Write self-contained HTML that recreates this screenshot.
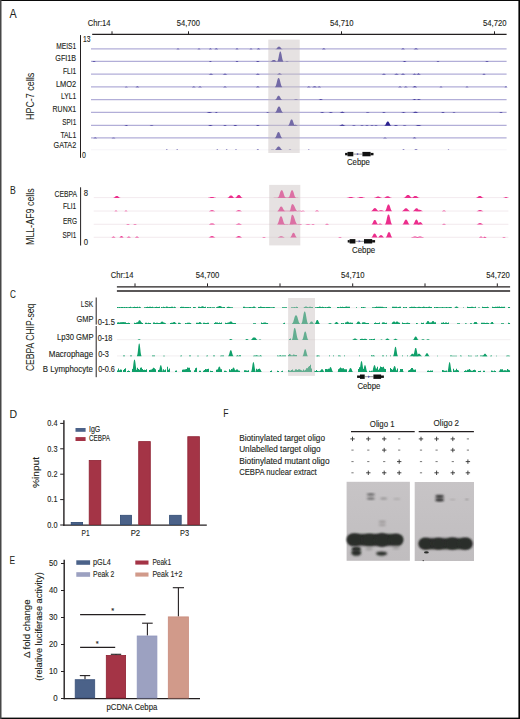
<!DOCTYPE html>
<html><head><meta charset="utf-8"><style>
html,body{margin:0;padding:0;background:#fff;width:520px;height:719px;overflow:hidden}
svg{display:block}
text{font-family:"Liberation Sans",sans-serif;stroke:#231f20;stroke-width:0.12px}
</style></head><body>
<svg width="520" height="719" viewBox="0 0 520 719" font-family="Liberation Sans, sans-serif">
<rect x="0" y="0" width="520" height="719" fill="#ffffff"/>
<text x="9.6" y="17.7" font-size="12" text-anchor="start" fill="#231f20" textLength="7.2" lengthAdjust="spacingAndGlyphs" style="stroke-width:0.05px">A</text>
<line x1="92.2" y1="34.3" x2="506.6" y2="34.3" stroke="#231f20" stroke-width="1.3"/>
<line x1="112" y1="31.3" x2="112" y2="34.3" stroke="#231f20" stroke-width="1.0"/>
<line x1="188.5" y1="31.3" x2="188.5" y2="34.3" stroke="#231f20" stroke-width="1.0"/>
<line x1="341.5" y1="31.3" x2="341.5" y2="34.3" stroke="#231f20" stroke-width="1.0"/>
<line x1="494.5" y1="31.3" x2="494.5" y2="34.3" stroke="#231f20" stroke-width="1.0"/>
<text x="87.7" y="25.9" font-size="8.5" text-anchor="start" fill="#231f20" textLength="22.9" lengthAdjust="spacingAndGlyphs">Chr:14</text>
<text x="176.8" y="25.8" font-size="8.5" text-anchor="start" fill="#231f20" textLength="23.2" lengthAdjust="spacingAndGlyphs">54,700</text>
<text x="330" y="25.8" font-size="8.5" text-anchor="start" fill="#231f20" textLength="23.6" lengthAdjust="spacingAndGlyphs">54,710</text>
<text x="483" y="26.0" font-size="8.5" text-anchor="start" fill="#231f20" textLength="23.6" lengthAdjust="spacingAndGlyphs">54,720</text>
<line x1="80.5" y1="35.1" x2="80.5" y2="157.8" stroke="#231f20" stroke-width="1.0"/>
<text x="83" y="41.8" font-size="9.0" text-anchor="start" fill="#231f20" textLength="7.5" lengthAdjust="spacingAndGlyphs">13</text>
<text x="82" y="158.2" font-size="9.0" text-anchor="start" fill="#231f20" textLength="3.9" lengthAdjust="spacingAndGlyphs">0</text>
<text x="76.2" y="49.2" font-size="8.5" text-anchor="end" fill="#231f20" textLength="19.9" lengthAdjust="spacingAndGlyphs">MEIS1</text>
<line x1="91.0" y1="48.9" x2="506.6" y2="48.9" stroke="#b2aed8" stroke-width="1.2"/>
<text x="76.2" y="60.8" font-size="8.5" text-anchor="end" fill="#231f20" textLength="20.9" lengthAdjust="spacingAndGlyphs">GFI1B</text>
<line x1="91.0" y1="61.4" x2="506.6" y2="61.4" stroke="#b2aed8" stroke-width="1.2"/>
<text x="76.2" y="73.8" font-size="8.5" text-anchor="end" fill="#231f20" textLength="13.2" lengthAdjust="spacingAndGlyphs">FLI1</text>
<line x1="91.0" y1="74.1" x2="506.6" y2="74.1" stroke="#b2aed8" stroke-width="1.2"/>
<text x="76.2" y="86.6" font-size="8.5" text-anchor="end" fill="#231f20" textLength="20.3" lengthAdjust="spacingAndGlyphs">LMO2</text>
<line x1="91.0" y1="86.9" x2="506.6" y2="86.9" stroke="#b2aed8" stroke-width="1.2"/>
<text x="76.2" y="98.6" font-size="8.5" text-anchor="end" fill="#231f20" textLength="15.2" lengthAdjust="spacingAndGlyphs">LYL1</text>
<line x1="91.0" y1="99.6" x2="506.6" y2="99.6" stroke="#b2aed8" stroke-width="1.2"/>
<text x="76.2" y="111.7" font-size="8.5" text-anchor="end" fill="#231f20" textLength="23.6" lengthAdjust="spacingAndGlyphs">RUNX1</text>
<line x1="91.0" y1="112.4" x2="506.6" y2="112.4" stroke="#b2aed8" stroke-width="1.2"/>
<text x="76.2" y="125.4" font-size="8.5" text-anchor="end" fill="#231f20" textLength="13.9" lengthAdjust="spacingAndGlyphs">SPI1</text>
<line x1="91.0" y1="125.4" x2="506.6" y2="125.4" stroke="#b2aed8" stroke-width="1.2"/>
<text x="76.2" y="137.5" font-size="8.5" text-anchor="end" fill="#231f20" textLength="15.8" lengthAdjust="spacingAndGlyphs">TAL1</text>
<line x1="91.0" y1="137.9" x2="506.6" y2="137.9" stroke="#b2aed8" stroke-width="1.2"/>
<text x="76.2" y="148.3" font-size="8.5" text-anchor="end" fill="#231f20" textLength="22.7" lengthAdjust="spacingAndGlyphs">GATA2</text>
<line x1="91.0" y1="149.8" x2="506.6" y2="149.8" stroke="#ecebf4" stroke-width="0.6"/>
<text x="0" y="0" transform="translate(34.0,120.0) rotate(-90)" font-size="10.2" text-anchor="start" fill="#231f20" textLength="47.1" lengthAdjust="spacingAndGlyphs" style="stroke-width:0.05px">HPC-7 cells</text>
<path d="M275.46,49.20L275.46,49.14L275.69,49.09L275.91,49.03L276.13,48.92L276.35,48.79L276.57,48.61L276.79,48.39L277.01,48.14L277.23,47.86L277.45,47.59L277.67,47.32L277.89,47.08L278.12,46.89L278.34,46.74L278.56,46.65L278.78,46.61L279.00,46.60L279.22,46.61L279.44,46.65L279.66,46.74L279.88,46.89L280.11,47.08L280.33,47.32L280.55,47.59L280.77,47.86L280.99,48.14L281.21,48.39L281.43,48.61L281.65,48.79L281.87,48.92L282.09,49.03L282.31,49.09L282.54,49.14L282.54,49.20Z" fill="#2c2290"/>
<path d="M176.26,49.20L176.26,49.19L176.37,49.18L176.48,49.16L176.59,49.14L176.69,49.10L176.80,49.06L176.91,49.01L177.02,48.95L177.13,48.89L177.24,48.83L177.35,48.77L177.46,48.71L177.56,48.67L177.67,48.63L177.78,48.61L177.89,48.60L178.00,48.60L178.11,48.60L178.22,48.61L178.33,48.63L178.44,48.67L178.54,48.71L178.65,48.77L178.76,48.83L178.87,48.89L178.98,48.95L179.09,49.01L179.20,49.06L179.31,49.10L179.41,49.14L179.52,49.16L179.63,49.18L179.74,49.19L179.74,49.20Z" fill="#2c2290"/>
<path d="M197.26,49.20L197.26,49.19L197.37,49.18L197.48,49.16L197.59,49.14L197.69,49.10L197.80,49.06L197.91,49.01L198.02,48.95L198.13,48.89L198.24,48.83L198.35,48.77L198.46,48.71L198.56,48.67L198.67,48.63L198.78,48.61L198.89,48.60L199.00,48.60L199.11,48.60L199.22,48.61L199.33,48.63L199.44,48.67L199.54,48.71L199.65,48.77L199.76,48.83L199.87,48.89L199.98,48.95L200.09,49.01L200.20,49.06L200.31,49.10L200.41,49.14L200.52,49.16L200.63,49.18L200.74,49.19L200.74,49.20Z" fill="#2c2290"/>
<path d="M208.66,49.20L208.66,49.18L208.77,49.17L208.88,49.15L208.99,49.13L209.09,49.09L209.20,49.05L209.31,48.99L209.42,48.92L209.53,48.85L209.64,48.78L209.75,48.71L209.86,48.65L209.96,48.60L210.07,48.56L210.18,48.54L210.29,48.53L210.40,48.52L210.51,48.53L210.62,48.54L210.73,48.56L210.84,48.60L210.94,48.65L211.05,48.71L211.16,48.78L211.27,48.85L211.38,48.92L211.49,48.99L211.60,49.05L211.71,49.09L211.81,49.13L211.92,49.15L212.03,49.17L212.14,49.18L212.14,49.20Z" fill="#2c2290"/>
<path d="M214.12,49.20L214.12,49.18L214.26,49.17L214.40,49.15L214.53,49.13L214.67,49.09L214.80,49.05L214.94,48.99L215.08,48.92L215.21,48.85L215.35,48.78L215.48,48.71L215.62,48.65L215.76,48.60L215.89,48.56L216.03,48.54L216.16,48.53L216.30,48.52L216.44,48.53L216.57,48.54L216.71,48.56L216.84,48.60L216.98,48.65L217.12,48.71L217.25,48.78L217.39,48.85L217.52,48.92L217.66,48.99L217.80,49.05L217.93,49.09L218.07,49.13L218.20,49.15L218.34,49.17L218.48,49.18L218.48,49.20Z" fill="#2c2290"/>
<path d="M235.26,49.20L235.26,49.18L235.37,49.17L235.48,49.15L235.59,49.13L235.69,49.09L235.80,49.05L235.91,48.99L236.02,48.92L236.13,48.85L236.24,48.78L236.35,48.71L236.46,48.65L236.56,48.60L236.67,48.56L236.78,48.54L236.89,48.53L237.00,48.52L237.11,48.53L237.22,48.54L237.33,48.56L237.44,48.60L237.54,48.65L237.65,48.71L237.76,48.78L237.87,48.85L237.98,48.92L238.09,48.99L238.20,49.05L238.31,49.09L238.41,49.13L238.52,49.15L238.63,49.17L238.74,49.18L238.74,49.20Z" fill="#2c2290"/>
<path d="M249.26,49.20L249.26,49.19L249.37,49.18L249.48,49.16L249.59,49.14L249.69,49.10L249.80,49.06L249.91,49.01L250.02,48.95L250.13,48.89L250.24,48.83L250.35,48.77L250.46,48.71L250.56,48.67L250.67,48.63L250.78,48.61L250.89,48.60L251.00,48.60L251.11,48.60L251.22,48.61L251.33,48.63L251.44,48.67L251.54,48.71L251.65,48.77L251.76,48.83L251.87,48.89L251.98,48.95L252.09,49.01L252.20,49.06L252.31,49.10L252.41,49.14L252.52,49.16L252.63,49.18L252.74,49.19L252.74,49.20Z" fill="#2c2290"/>
<path d="M256.54,49.20L256.54,49.18L256.66,49.17L256.79,49.15L256.91,49.12L257.03,49.08L257.15,49.03L257.28,48.97L257.40,48.89L257.52,48.81L257.64,48.73L257.77,48.66L257.89,48.59L258.01,48.53L258.13,48.49L258.26,48.47L258.38,48.45L258.50,48.45L258.62,48.45L258.74,48.47L258.87,48.49L258.99,48.53L259.11,48.59L259.23,48.66L259.36,48.73L259.48,48.81L259.60,48.89L259.72,48.97L259.85,49.03L259.97,49.08L260.09,49.12L260.21,49.15L260.34,49.17L260.46,49.18L260.46,49.20Z" fill="#2c2290"/>
<path d="M321.62,49.20L321.62,49.18L321.76,49.17L321.90,49.15L322.03,49.13L322.17,49.09L322.30,49.05L322.44,48.99L322.58,48.92L322.71,48.85L322.85,48.78L322.98,48.71L323.12,48.65L323.26,48.60L323.39,48.56L323.53,48.54L323.66,48.53L323.80,48.52L323.94,48.53L324.07,48.54L324.21,48.56L324.34,48.60L324.48,48.65L324.62,48.71L324.75,48.78L324.89,48.85L325.02,48.92L325.16,48.99L325.30,49.05L325.43,49.09L325.57,49.13L325.70,49.15L325.84,49.17L325.98,49.18L325.98,49.20Z" fill="#2c2290"/>
<path d="M400.82,49.20L400.82,49.18L400.96,49.17L401.10,49.15L401.23,49.13L401.37,49.09L401.50,49.05L401.64,48.99L401.78,48.92L401.91,48.85L402.05,48.78L402.18,48.71L402.32,48.65L402.46,48.60L402.59,48.56L402.73,48.54L402.86,48.53L403.00,48.52L403.14,48.53L403.27,48.54L403.41,48.56L403.54,48.60L403.68,48.65L403.82,48.71L403.95,48.78L404.09,48.85L404.22,48.92L404.36,48.99L404.50,49.05L404.63,49.09L404.77,49.13L404.90,49.15L405.04,49.17L405.18,49.18L405.18,49.20Z" fill="#2c2290"/>
<path d="M413.39,49.20L413.39,49.18L413.55,49.17L413.72,49.15L413.88,49.12L414.04,49.08L414.20,49.03L414.37,48.97L414.53,48.89L414.69,48.81L414.86,48.73L415.02,48.66L415.18,48.59L415.35,48.53L415.51,48.49L415.67,48.47L415.84,48.45L416.00,48.45L416.16,48.45L416.33,48.47L416.49,48.49L416.65,48.53L416.82,48.59L416.98,48.66L417.14,48.73L417.31,48.81L417.47,48.89L417.63,48.97L417.80,49.03L417.96,49.08L418.12,49.12L418.28,49.15L418.45,49.17L418.61,49.18L418.61,49.20Z" fill="#2c2290"/>
<path d="M277.17,61.70L277.17,61.46L277.37,61.29L277.56,61.01L277.76,60.62L277.95,60.07L278.15,59.37L278.35,58.51L278.54,57.53L278.74,56.46L278.93,55.37L279.13,54.33L279.32,53.40L279.52,52.63L279.71,52.07L279.91,51.71L280.10,51.54L280.30,51.50L280.50,51.54L280.69,51.71L280.89,52.07L281.08,52.63L281.28,53.40L281.47,54.33L281.67,55.37L281.86,56.46L282.06,57.53L282.25,58.51L282.45,59.37L282.65,60.07L282.84,60.62L283.04,61.01L283.23,61.29L283.43,61.46L283.43,61.70Z" fill="#2c2290"/>
<path d="M269.99,61.70L269.99,61.66L270.23,61.63L270.47,61.58L270.71,61.51L270.94,61.41L271.18,61.29L271.42,61.14L271.66,60.96L271.90,60.78L272.13,60.58L272.37,60.40L272.61,60.23L272.85,60.10L273.09,60.00L273.32,59.94L273.56,59.91L273.80,59.90L274.04,59.91L274.28,59.94L274.51,60.00L274.75,60.10L274.99,60.23L275.23,60.40L275.47,60.58L275.70,60.78L275.94,60.96L276.18,61.14L276.42,61.29L276.66,61.41L276.89,61.51L277.13,61.58L277.37,61.63L277.61,61.66L277.61,61.70Z" fill="#2c2290"/>
<path d="M91.82,61.70L91.82,61.69L91.96,61.68L92.10,61.66L92.23,61.64L92.37,61.60L92.50,61.56L92.64,61.51L92.78,61.45L92.91,61.39L93.05,61.33L93.18,61.27L93.32,61.21L93.46,61.17L93.59,61.13L93.73,61.11L93.86,61.10L94.00,61.10L94.14,61.10L94.27,61.11L94.41,61.13L94.54,61.17L94.68,61.21L94.82,61.27L94.95,61.33L95.09,61.39L95.22,61.45L95.36,61.51L95.50,61.56L95.63,61.60L95.77,61.64L95.90,61.66L96.04,61.68L96.18,61.69L96.18,61.70Z" fill="#2c2290"/>
<path d="M208.66,61.70L208.66,61.69L208.77,61.68L208.88,61.66L208.99,61.64L209.09,61.60L209.20,61.56L209.31,61.51L209.42,61.45L209.53,61.39L209.64,61.33L209.75,61.27L209.86,61.21L209.96,61.17L210.07,61.13L210.18,61.11L210.29,61.10L210.40,61.10L210.51,61.10L210.62,61.11L210.73,61.13L210.84,61.17L210.94,61.21L211.05,61.27L211.16,61.33L211.27,61.39L211.38,61.45L211.49,61.51L211.60,61.56L211.71,61.60L211.81,61.64L211.92,61.66L212.03,61.68L212.14,61.69L212.14,61.70Z" fill="#2c2290"/>
<path d="M235.26,61.70L235.26,61.68L235.37,61.67L235.48,61.65L235.59,61.63L235.69,61.59L235.80,61.55L235.91,61.49L236.02,61.42L236.13,61.35L236.24,61.28L236.35,61.21L236.46,61.15L236.56,61.10L236.67,61.06L236.78,61.04L236.89,61.03L237.00,61.02L237.11,61.03L237.22,61.04L237.33,61.06L237.44,61.10L237.54,61.15L237.65,61.21L237.76,61.28L237.87,61.35L237.98,61.42L238.09,61.49L238.20,61.55L238.31,61.59L238.41,61.63L238.52,61.65L238.63,61.67L238.74,61.68L238.74,61.70Z" fill="#2c2290"/>
<path d="M255.62,61.70L255.62,61.68L255.76,61.67L255.90,61.65L256.03,61.63L256.17,61.59L256.30,61.55L256.44,61.49L256.58,61.42L256.71,61.35L256.85,61.28L256.98,61.21L257.12,61.15L257.26,61.10L257.39,61.06L257.53,61.04L257.66,61.03L257.80,61.02L257.94,61.03L258.07,61.04L258.21,61.06L258.34,61.10L258.48,61.15L258.62,61.21L258.75,61.28L258.89,61.35L259.02,61.42L259.16,61.49L259.30,61.55L259.43,61.59L259.57,61.63L259.70,61.65L259.84,61.67L259.98,61.68L259.98,61.70Z" fill="#2c2290"/>
<path d="M284.82,61.70L284.82,61.69L284.96,61.68L285.10,61.67L285.23,61.65L285.37,61.63L285.50,61.60L285.64,61.56L285.78,61.52L285.91,61.47L286.05,61.42L286.18,61.37L286.32,61.33L286.46,61.30L286.59,61.28L286.73,61.26L286.86,61.25L287.00,61.25L287.14,61.25L287.27,61.26L287.41,61.28L287.54,61.30L287.68,61.33L287.82,61.37L287.95,61.42L288.09,61.47L288.22,61.52L288.36,61.56L288.50,61.60L288.63,61.63L288.77,61.65L288.90,61.67L289.04,61.68L289.18,61.69L289.18,61.70Z" fill="#2c2290"/>
<path d="M402.42,61.70L402.42,61.68L402.56,61.67L402.70,61.65L402.83,61.63L402.97,61.59L403.10,61.55L403.24,61.49L403.38,61.42L403.51,61.35L403.65,61.28L403.78,61.21L403.92,61.15L404.06,61.10L404.19,61.06L404.33,61.04L404.46,61.03L404.60,61.02L404.74,61.03L404.87,61.04L405.01,61.06L405.14,61.10L405.28,61.15L405.42,61.21L405.55,61.28L405.69,61.35L405.82,61.42L405.96,61.49L406.10,61.55L406.23,61.59L406.37,61.63L406.50,61.65L406.64,61.67L406.78,61.68L406.78,61.70Z" fill="#2c2290"/>
<path d="M436.26,61.70L436.26,61.69L436.37,61.68L436.48,61.66L436.59,61.64L436.69,61.60L436.80,61.56L436.91,61.51L437.02,61.45L437.13,61.39L437.24,61.33L437.35,61.27L437.46,61.21L437.56,61.17L437.67,61.13L437.78,61.11L437.89,61.10L438.00,61.10L438.11,61.10L438.22,61.11L438.33,61.13L438.44,61.17L438.54,61.21L438.65,61.27L438.76,61.33L438.87,61.39L438.98,61.45L439.09,61.51L439.20,61.56L439.31,61.60L439.41,61.64L439.52,61.66L439.63,61.68L439.74,61.69L439.74,61.70Z" fill="#2c2290"/>
<path d="M484.82,61.70L484.82,61.69L484.96,61.68L485.10,61.66L485.23,61.64L485.37,61.60L485.50,61.56L485.64,61.51L485.78,61.45L485.91,61.39L486.05,61.33L486.18,61.27L486.32,61.21L486.46,61.17L486.59,61.13L486.73,61.11L486.86,61.10L487.00,61.10L487.14,61.10L487.27,61.11L487.41,61.13L487.54,61.17L487.68,61.21L487.82,61.27L487.95,61.33L488.09,61.39L488.22,61.45L488.36,61.51L488.50,61.56L488.63,61.60L488.77,61.64L488.90,61.66L489.04,61.68L489.18,61.69L489.18,61.70Z" fill="#2c2290"/>
<path d="M276.89,74.40L276.89,74.38L277.05,74.36L277.22,74.33L277.38,74.29L277.54,74.23L277.70,74.16L277.87,74.07L278.03,73.97L278.19,73.86L278.36,73.75L278.52,73.64L278.68,73.55L278.85,73.47L279.01,73.41L279.17,73.37L279.34,73.35L279.50,73.35L279.66,73.35L279.83,73.37L279.99,73.41L280.15,73.47L280.32,73.55L280.48,73.64L280.64,73.75L280.81,73.86L280.97,73.97L281.13,74.07L281.30,74.16L281.46,74.23L281.62,74.29L281.78,74.33L281.95,74.36L282.11,74.38L282.11,74.40Z" fill="#2c2290"/>
<path d="M208.82,74.40L208.82,74.38L208.96,74.37L209.10,74.35L209.23,74.33L209.37,74.29L209.50,74.25L209.64,74.19L209.78,74.12L209.91,74.05L210.05,73.98L210.18,73.91L210.32,73.85L210.46,73.80L210.59,73.76L210.73,73.74L210.86,73.73L211.00,73.72L211.14,73.73L211.27,73.74L211.41,73.76L211.54,73.80L211.68,73.85L211.82,73.91L211.95,73.98L212.09,74.05L212.22,74.12L212.36,74.19L212.50,74.25L212.63,74.29L212.77,74.33L212.90,74.35L213.04,74.37L213.18,74.38L213.18,74.40Z" fill="#2c2290"/>
<path d="M222.82,74.40L222.82,74.38L222.96,74.37L223.10,74.35L223.23,74.33L223.37,74.29L223.50,74.25L223.64,74.19L223.78,74.12L223.91,74.05L224.05,73.98L224.18,73.91L224.32,73.85L224.46,73.80L224.59,73.76L224.73,73.74L224.86,73.73L225.00,73.72L225.14,73.73L225.27,73.74L225.41,73.76L225.54,73.80L225.68,73.85L225.82,73.91L225.95,73.98L226.09,74.05L226.22,74.12L226.36,74.19L226.50,74.25L226.63,74.29L226.77,74.33L226.90,74.35L227.04,74.37L227.18,74.38L227.18,74.40Z" fill="#2c2290"/>
<path d="M255.84,74.40L255.84,74.38L255.96,74.37L256.09,74.35L256.21,74.33L256.33,74.29L256.45,74.25L256.58,74.19L256.70,74.12L256.82,74.05L256.94,73.98L257.07,73.91L257.19,73.85L257.31,73.80L257.43,73.76L257.56,73.74L257.68,73.73L257.80,73.72L257.92,73.73L258.04,73.74L258.17,73.76L258.29,73.80L258.41,73.85L258.53,73.91L258.66,73.98L258.78,74.05L258.90,74.12L259.02,74.19L259.15,74.25L259.27,74.29L259.39,74.33L259.51,74.35L259.64,74.37L259.76,74.38L259.76,74.40Z" fill="#2c2290"/>
<path d="M381.72,74.40L381.72,74.39L381.86,74.38L382.00,74.36L382.13,74.34L382.27,74.30L382.40,74.26L382.54,74.21L382.68,74.15L382.81,74.09L382.95,74.03L383.08,73.97L383.22,73.91L383.36,73.87L383.49,73.83L383.63,73.81L383.76,73.80L383.90,73.80L384.04,73.80L384.17,73.81L384.31,73.83L384.44,73.87L384.58,73.91L384.72,73.97L384.85,74.03L384.99,74.09L385.12,74.15L385.26,74.21L385.40,74.26L385.53,74.30L385.67,74.34L385.80,74.36L385.94,74.38L386.08,74.39L386.08,74.40Z" fill="#2c2290"/>
<path d="M394.32,74.40L394.32,74.38L394.46,74.37L394.60,74.35L394.73,74.33L394.87,74.29L395.00,74.25L395.14,74.19L395.28,74.12L395.41,74.05L395.55,73.98L395.68,73.91L395.82,73.85L395.96,73.80L396.09,73.76L396.23,73.74L396.36,73.73L396.50,73.72L396.64,73.73L396.77,73.74L396.91,73.76L397.04,73.80L397.18,73.85L397.32,73.91L397.45,73.98L397.59,74.05L397.72,74.12L397.86,74.19L398.00,74.25L398.13,74.29L398.27,74.33L398.40,74.35L398.54,74.37L398.68,74.38L398.68,74.40Z" fill="#2c2290"/>
<path d="M400.82,74.40L400.82,74.38L400.96,74.37L401.10,74.35L401.23,74.32L401.37,74.28L401.50,74.23L401.64,74.17L401.78,74.09L401.91,74.01L402.05,73.93L402.18,73.86L402.32,73.79L402.46,73.73L402.59,73.69L402.73,73.67L402.86,73.65L403.00,73.65L403.14,73.65L403.27,73.67L403.41,73.69L403.54,73.73L403.68,73.79L403.82,73.86L403.95,73.93L404.09,74.01L404.22,74.09L404.36,74.17L404.50,74.23L404.63,74.28L404.77,74.32L404.90,74.35L405.04,74.37L405.18,74.38L405.18,74.40Z" fill="#2c2290"/>
<path d="M412.76,74.40L412.76,74.38L412.87,74.37L412.98,74.35L413.09,74.33L413.19,74.29L413.30,74.25L413.41,74.19L413.52,74.12L413.63,74.05L413.74,73.98L413.85,73.91L413.96,73.85L414.06,73.80L414.17,73.76L414.28,73.74L414.39,73.73L414.50,73.72L414.61,73.73L414.72,73.74L414.83,73.76L414.94,73.80L415.04,73.85L415.15,73.91L415.26,73.98L415.37,74.05L415.48,74.12L415.59,74.19L415.70,74.25L415.81,74.29L415.91,74.33L416.02,74.35L416.13,74.37L416.24,74.38L416.24,74.40Z" fill="#2c2290"/>
<path d="M416.32,74.40L416.32,74.38L416.46,74.37L416.60,74.34L416.73,74.31L416.87,74.27L417.00,74.21L417.14,74.14L417.28,74.06L417.41,73.98L417.55,73.89L417.68,73.80L417.82,73.73L417.96,73.67L418.09,73.62L418.23,73.59L418.36,73.58L418.50,73.57L418.64,73.58L418.77,73.59L418.91,73.62L419.04,73.67L419.18,73.73L419.32,73.80L419.45,73.89L419.59,73.98L419.72,74.06L419.86,74.14L420.00,74.21L420.13,74.27L420.27,74.31L420.40,74.34L420.54,74.37L420.68,74.38L420.68,74.40Z" fill="#2c2290"/>
<path d="M482.26,74.40L482.26,74.39L482.37,74.38L482.48,74.36L482.59,74.34L482.69,74.30L482.80,74.26L482.91,74.21L483.02,74.15L483.13,74.09L483.24,74.03L483.35,73.97L483.46,73.91L483.56,73.87L483.67,73.83L483.78,73.81L483.89,73.80L484.00,73.80L484.11,73.80L484.22,73.81L484.33,73.83L484.44,73.87L484.54,73.91L484.65,73.97L484.76,74.03L484.87,74.09L484.98,74.15L485.09,74.21L485.20,74.26L485.31,74.30L485.41,74.34L485.52,74.36L485.63,74.38L485.74,74.39L485.74,74.40Z" fill="#2c2290"/>
<path d="M274.93,87.20L274.93,86.99L275.16,86.83L275.39,86.58L275.62,86.22L275.85,85.73L276.08,85.10L276.31,84.33L276.53,83.44L276.76,82.47L276.99,81.49L277.22,80.55L277.45,79.71L277.68,79.02L277.91,78.51L278.14,78.19L278.37,78.03L278.60,78.00L278.83,78.03L279.06,78.19L279.29,78.51L279.52,79.02L279.75,79.71L279.98,80.55L280.21,81.49L280.44,82.47L280.67,83.44L280.90,84.33L281.12,85.10L281.35,85.73L281.58,86.22L281.81,86.58L282.04,86.83L282.27,86.99L282.27,87.20Z" fill="#2c2290"/>
<path d="M124.56,87.20L124.56,87.19L124.67,87.18L124.78,87.16L124.89,87.14L124.99,87.12L125.10,87.08L125.21,87.04L125.32,86.99L125.43,86.93L125.54,86.87L125.65,86.82L125.76,86.77L125.86,86.73L125.97,86.70L126.08,86.69L126.19,86.68L126.30,86.67L126.41,86.68L126.52,86.69L126.63,86.70L126.74,86.73L126.84,86.77L126.95,86.82L127.06,86.87L127.17,86.93L127.28,86.99L127.39,87.04L127.50,87.08L127.61,87.12L127.71,87.14L127.82,87.16L127.93,87.18L128.04,87.19L128.04,87.20Z" fill="#2c2290"/>
<path d="M135.22,87.20L135.22,87.18L135.36,87.17L135.50,87.15L135.63,87.13L135.77,87.09L135.90,87.05L136.04,86.99L136.18,86.92L136.31,86.85L136.45,86.78L136.58,86.71L136.72,86.65L136.86,86.60L136.99,86.56L137.13,86.54L137.26,86.53L137.40,86.53L137.54,86.53L137.67,86.54L137.81,86.56L137.94,86.60L138.08,86.65L138.22,86.71L138.35,86.78L138.49,86.85L138.62,86.92L138.76,86.99L138.90,87.05L139.03,87.09L139.17,87.13L139.30,87.15L139.44,87.17L139.58,87.18L139.58,87.20Z" fill="#2c2290"/>
<path d="M191.62,87.20L191.62,87.19L191.76,87.18L191.90,87.16L192.03,87.14L192.17,87.10L192.30,87.06L192.44,87.01L192.58,86.95L192.71,86.89L192.85,86.83L192.98,86.77L193.12,86.71L193.26,86.67L193.39,86.63L193.53,86.61L193.66,86.60L193.80,86.60L193.94,86.60L194.07,86.61L194.21,86.63L194.34,86.67L194.48,86.71L194.62,86.77L194.75,86.83L194.89,86.89L195.02,86.95L195.16,87.01L195.30,87.06L195.43,87.10L195.57,87.14L195.70,87.16L195.84,87.18L195.98,87.19L195.98,87.20Z" fill="#2c2290"/>
<path d="M197.82,87.20L197.82,87.19L197.96,87.18L198.10,87.16L198.23,87.14L198.37,87.10L198.50,87.06L198.64,87.01L198.78,86.95L198.91,86.89L199.05,86.83L199.18,86.77L199.32,86.71L199.46,86.67L199.59,86.63L199.73,86.61L199.86,86.60L200.00,86.60L200.14,86.60L200.27,86.61L200.41,86.63L200.54,86.67L200.68,86.71L200.82,86.77L200.95,86.83L201.09,86.89L201.22,86.95L201.36,87.01L201.50,87.06L201.63,87.10L201.77,87.14L201.90,87.16L202.04,87.18L202.18,87.19L202.18,87.20Z" fill="#2c2290"/>
<path d="M222.82,87.20L222.82,87.19L222.96,87.18L223.10,87.16L223.23,87.14L223.37,87.10L223.50,87.06L223.64,87.01L223.78,86.95L223.91,86.89L224.05,86.83L224.18,86.77L224.32,86.71L224.46,86.67L224.59,86.63L224.73,86.61L224.86,86.60L225.00,86.60L225.14,86.60L225.27,86.61L225.41,86.63L225.54,86.67L225.68,86.71L225.82,86.77L225.95,86.83L226.09,86.89L226.22,86.95L226.36,87.01L226.50,87.06L226.63,87.10L226.77,87.14L226.90,87.16L227.04,87.18L227.18,87.19L227.18,87.20Z" fill="#2c2290"/>
<path d="M255.62,87.20L255.62,87.18L255.76,87.17L255.90,87.15L256.03,87.13L256.17,87.09L256.30,87.05L256.44,86.99L256.58,86.92L256.71,86.85L256.85,86.78L256.98,86.71L257.12,86.65L257.26,86.60L257.39,86.56L257.53,86.54L257.66,86.53L257.80,86.53L257.94,86.53L258.07,86.54L258.21,86.56L258.34,86.60L258.48,86.65L258.62,86.71L258.75,86.78L258.89,86.85L259.02,86.92L259.16,86.99L259.30,87.05L259.43,87.09L259.57,87.13L259.70,87.15L259.84,87.17L259.98,87.18L259.98,87.20Z" fill="#2c2290"/>
<path d="M306.62,87.20L306.62,87.19L306.76,87.18L306.90,87.16L307.03,87.14L307.17,87.10L307.30,87.06L307.44,87.01L307.58,86.95L307.71,86.89L307.85,86.83L307.98,86.77L308.12,86.71L308.26,86.67L308.39,86.63L308.53,86.61L308.66,86.60L308.80,86.60L308.94,86.60L309.07,86.61L309.21,86.63L309.34,86.67L309.48,86.71L309.62,86.77L309.75,86.83L309.89,86.89L310.02,86.95L310.16,87.01L310.30,87.06L310.43,87.10L310.57,87.14L310.70,87.16L310.84,87.18L310.98,87.19L310.98,87.20Z" fill="#2c2290"/>
<path d="M311.99,87.20L311.99,87.18L312.15,87.17L312.32,87.15L312.48,87.12L312.64,87.08L312.80,87.03L312.97,86.97L313.13,86.89L313.29,86.81L313.46,86.73L313.62,86.66L313.78,86.59L313.95,86.53L314.11,86.49L314.27,86.47L314.44,86.45L314.60,86.45L314.76,86.45L314.93,86.47L315.09,86.49L315.25,86.53L315.42,86.59L315.58,86.66L315.74,86.73L315.91,86.81L316.07,86.89L316.23,86.97L316.40,87.03L316.56,87.08L316.72,87.12L316.88,87.15L317.05,87.17L317.21,87.18L317.21,87.20Z" fill="#2c2290"/>
<path d="M317.02,87.20L317.02,87.19L317.16,87.18L317.30,87.16L317.43,87.14L317.57,87.10L317.70,87.06L317.84,87.01L317.98,86.95L318.11,86.89L318.25,86.83L318.38,86.77L318.52,86.71L318.66,86.67L318.79,86.63L318.93,86.61L319.06,86.60L319.20,86.60L319.34,86.60L319.47,86.61L319.61,86.63L319.74,86.67L319.88,86.71L320.02,86.77L320.15,86.83L320.29,86.89L320.42,86.95L320.56,87.01L320.70,87.06L320.83,87.10L320.97,87.14L321.10,87.16L321.24,87.18L321.38,87.19L321.38,87.20Z" fill="#2c2290"/>
<path d="M397.82,87.20L397.82,87.19L397.96,87.18L398.10,87.16L398.23,87.14L398.37,87.10L398.50,87.06L398.64,87.01L398.78,86.95L398.91,86.89L399.05,86.83L399.18,86.77L399.32,86.71L399.46,86.67L399.59,86.63L399.73,86.61L399.86,86.60L400.00,86.60L400.14,86.60L400.27,86.61L400.41,86.63L400.54,86.67L400.68,86.71L400.82,86.77L400.95,86.83L401.09,86.89L401.22,86.95L401.36,87.01L401.50,87.06L401.63,87.10L401.77,87.14L401.90,87.16L402.04,87.18L402.18,87.19L402.18,87.20Z" fill="#2c2290"/>
<path d="M403.62,87.20L403.62,87.19L403.76,87.18L403.90,87.16L404.03,87.14L404.17,87.10L404.30,87.06L404.44,87.01L404.58,86.95L404.71,86.89L404.85,86.83L404.98,86.77L405.12,86.71L405.26,86.67L405.39,86.63L405.53,86.61L405.66,86.60L405.80,86.60L405.94,86.60L406.07,86.61L406.21,86.63L406.34,86.67L406.48,86.71L406.62,86.77L406.75,86.83L406.89,86.89L407.02,86.95L407.16,87.01L407.30,87.06L407.43,87.10L407.57,87.14L407.70,87.16L407.84,87.18L407.98,87.19L407.98,87.20Z" fill="#2c2290"/>
<path d="M412.19,87.20L412.19,87.18L412.35,87.16L412.52,87.14L412.68,87.10L412.84,87.06L413.00,86.99L413.17,86.92L413.33,86.83L413.49,86.74L413.66,86.64L413.82,86.55L413.98,86.47L414.15,86.40L414.31,86.35L414.47,86.32L414.64,86.30L414.80,86.30L414.96,86.30L415.13,86.32L415.29,86.35L415.45,86.40L415.62,86.47L415.78,86.55L415.94,86.64L416.11,86.74L416.27,86.83L416.43,86.92L416.60,86.99L416.76,87.06L416.92,87.10L417.08,87.14L417.25,87.16L417.41,87.18L417.41,87.20Z" fill="#2c2290"/>
<path d="M439.26,87.20L439.26,87.19L439.37,87.18L439.48,87.16L439.59,87.14L439.69,87.10L439.80,87.06L439.91,87.01L440.02,86.95L440.13,86.89L440.24,86.83L440.35,86.77L440.46,86.71L440.56,86.67L440.67,86.63L440.78,86.61L440.89,86.60L441.00,86.60L441.11,86.60L441.22,86.61L441.33,86.63L441.44,86.67L441.54,86.71L441.65,86.77L441.76,86.83L441.87,86.89L441.98,86.95L442.09,87.01L442.20,87.06L442.31,87.10L442.41,87.14L442.52,87.16L442.63,87.18L442.74,87.19L442.74,87.20Z" fill="#2c2290"/>
<path d="M465.26,87.20L465.26,87.19L465.37,87.18L465.48,87.16L465.59,87.14L465.69,87.10L465.80,87.06L465.91,87.01L466.02,86.95L466.13,86.89L466.24,86.83L466.35,86.77L466.46,86.71L466.56,86.67L466.67,86.63L466.78,86.61L466.89,86.60L467.00,86.60L467.11,86.60L467.22,86.61L467.33,86.63L467.44,86.67L467.54,86.71L467.65,86.77L467.76,86.83L467.87,86.89L467.98,86.95L468.09,87.01L468.20,87.06L468.31,87.10L468.41,87.14L468.52,87.16L468.63,87.18L468.74,87.19L468.74,87.20Z" fill="#2c2290"/>
<path d="M504.26,87.20L504.26,87.18L504.37,87.17L504.48,87.15L504.59,87.13L504.69,87.09L504.80,87.05L504.91,86.99L505.02,86.92L505.13,86.85L505.24,86.78L505.35,86.71L505.46,86.65L505.56,86.60L505.67,86.56L505.78,86.54L505.89,86.53L506.00,86.53L506.11,86.53L506.22,86.54L506.33,86.56L506.44,86.60L506.54,86.65L506.65,86.71L506.76,86.78L506.87,86.85L506.98,86.92L507.09,86.99L507.20,87.05L507.31,87.09L507.41,87.13L507.52,87.15L507.63,87.17L507.74,87.18L507.74,87.20Z" fill="#2c2290"/>
<path d="M275.06,99.90L275.06,99.80L275.29,99.73L275.51,99.62L275.73,99.45L275.95,99.23L276.17,98.94L276.39,98.59L276.61,98.18L276.83,97.74L277.05,97.29L277.27,96.86L277.50,96.48L277.72,96.17L277.94,95.93L278.16,95.79L278.38,95.72L278.60,95.70L278.82,95.72L279.04,95.79L279.26,95.93L279.48,96.17L279.71,96.48L279.93,96.86L280.15,97.29L280.37,97.74L280.59,98.18L280.81,98.59L281.03,98.94L281.25,99.23L281.47,99.45L281.69,99.62L281.92,99.73L282.14,99.80L282.14,99.90Z" fill="#2c2290"/>
<path d="M318.62,99.90L318.62,99.89L318.76,99.88L318.90,99.86L319.03,99.84L319.17,99.80L319.30,99.76L319.44,99.71L319.58,99.65L319.71,99.59L319.85,99.53L319.98,99.47L320.12,99.41L320.26,99.37L320.39,99.33L320.53,99.31L320.66,99.30L320.80,99.30L320.94,99.30L321.07,99.31L321.21,99.33L321.34,99.37L321.48,99.41L321.62,99.47L321.75,99.53L321.89,99.59L322.02,99.65L322.16,99.71L322.30,99.76L322.43,99.80L322.57,99.84L322.70,99.86L322.84,99.88L322.98,99.89L322.98,99.90Z" fill="#2c2290"/>
<path d="M412.32,99.90L412.32,99.89L412.46,99.88L412.60,99.86L412.73,99.84L412.87,99.80L413.00,99.76L413.14,99.71L413.28,99.65L413.41,99.59L413.55,99.53L413.68,99.47L413.82,99.41L413.96,99.37L414.09,99.33L414.23,99.31L414.36,99.30L414.50,99.30L414.64,99.30L414.77,99.31L414.91,99.33L415.04,99.37L415.18,99.41L415.32,99.47L415.45,99.53L415.59,99.59L415.72,99.65L415.86,99.71L416.00,99.76L416.13,99.80L416.27,99.84L416.40,99.86L416.54,99.88L416.68,99.89L416.68,99.90Z" fill="#2c2290"/>
<path d="M416.62,99.90L416.62,99.89L416.76,99.88L416.90,99.86L417.03,99.84L417.17,99.80L417.30,99.76L417.44,99.71L417.58,99.65L417.71,99.59L417.85,99.53L417.98,99.47L418.12,99.41L418.26,99.37L418.39,99.33L418.53,99.31L418.66,99.30L418.80,99.30L418.94,99.30L419.07,99.31L419.21,99.33L419.34,99.37L419.48,99.41L419.62,99.47L419.75,99.53L419.89,99.59L420.02,99.65L420.16,99.71L420.30,99.76L420.43,99.80L420.57,99.84L420.70,99.86L420.84,99.88L420.98,99.89L420.98,99.90Z" fill="#2c2290"/>
<path d="M293.82,99.90L293.82,99.89L293.96,99.88L294.10,99.86L294.23,99.84L294.37,99.82L294.50,99.78L294.64,99.74L294.78,99.69L294.91,99.63L295.05,99.57L295.18,99.52L295.32,99.47L295.46,99.43L295.59,99.40L295.73,99.39L295.86,99.38L296.00,99.37L296.14,99.38L296.27,99.39L296.41,99.40L296.54,99.43L296.68,99.47L296.82,99.52L296.95,99.57L297.09,99.63L297.22,99.69L297.36,99.74L297.50,99.78L297.63,99.82L297.77,99.84L297.90,99.86L298.04,99.88L298.18,99.89L298.18,99.90Z" fill="#2c2290"/>
<path d="M274.92,112.70L274.92,112.56L275.18,112.45L275.43,112.28L275.69,112.04L275.94,111.71L276.19,111.28L276.45,110.76L276.71,110.16L276.96,109.52L277.22,108.85L277.47,108.22L277.73,107.65L277.98,107.19L278.24,106.85L278.49,106.63L278.75,106.52L279.00,106.50L279.25,106.52L279.51,106.63L279.76,106.85L280.02,107.19L280.27,107.65L280.53,108.22L280.79,108.85L281.04,109.52L281.30,110.16L281.55,110.76L281.81,111.28L282.06,111.71L282.31,112.04L282.57,112.28L282.82,112.45L283.08,112.56L283.08,112.70Z" fill="#2c2290"/>
<path d="M206.14,112.70L206.14,112.68L206.34,112.67L206.54,112.65L206.75,112.63L206.95,112.59L207.16,112.55L207.36,112.49L207.56,112.42L207.77,112.35L207.97,112.28L208.18,112.21L208.38,112.15L208.58,112.10L208.79,112.06L208.99,112.04L209.20,112.03L209.40,112.03L209.60,112.03L209.81,112.04L210.01,112.06L210.22,112.10L210.42,112.15L210.62,112.21L210.83,112.28L211.03,112.35L211.24,112.42L211.44,112.49L211.64,112.55L211.85,112.59L212.05,112.63L212.26,112.65L212.46,112.67L212.66,112.68L212.66,112.70Z" fill="#2c2290"/>
<path d="M214.56,112.70L214.56,112.69L214.67,112.68L214.78,112.66L214.89,112.64L214.99,112.60L215.10,112.56L215.21,112.51L215.32,112.45L215.43,112.39L215.54,112.33L215.65,112.27L215.76,112.21L215.86,112.17L215.97,112.13L216.08,112.11L216.19,112.10L216.30,112.10L216.41,112.10L216.52,112.11L216.63,112.13L216.74,112.17L216.84,112.21L216.95,112.27L217.06,112.33L217.17,112.39L217.28,112.45L217.39,112.51L217.50,112.56L217.61,112.60L217.71,112.64L217.82,112.66L217.93,112.68L218.04,112.69L218.04,112.70Z" fill="#2c2290"/>
<path d="M265.82,112.70L265.82,112.69L265.96,112.68L266.10,112.66L266.23,112.64L266.37,112.62L266.50,112.58L266.64,112.54L266.78,112.49L266.91,112.43L267.05,112.37L267.18,112.32L267.32,112.27L267.46,112.23L267.59,112.20L267.73,112.19L267.86,112.18L268.00,112.17L268.14,112.18L268.27,112.19L268.41,112.20L268.54,112.23L268.68,112.27L268.82,112.32L268.95,112.37L269.09,112.43L269.22,112.49L269.36,112.54L269.50,112.58L269.63,112.62L269.77,112.64L269.90,112.66L270.04,112.68L270.18,112.69L270.18,112.70Z" fill="#2c2290"/>
<path d="M319.59,112.70L319.59,112.69L319.75,112.68L319.92,112.66L320.08,112.64L320.24,112.60L320.40,112.56L320.57,112.51L320.73,112.45L320.89,112.39L321.06,112.33L321.22,112.27L321.38,112.21L321.55,112.17L321.71,112.13L321.87,112.11L322.04,112.10L322.20,112.10L322.36,112.10L322.53,112.11L322.69,112.13L322.85,112.17L323.02,112.21L323.18,112.27L323.34,112.33L323.51,112.39L323.67,112.45L323.83,112.51L324.00,112.56L324.16,112.60L324.32,112.64L324.48,112.66L324.65,112.68L324.81,112.69L324.81,112.70Z" fill="#2c2290"/>
<path d="M328.19,112.70L328.19,112.69L328.35,112.68L328.52,112.66L328.68,112.64L328.84,112.60L329.00,112.56L329.17,112.51L329.33,112.45L329.49,112.39L329.66,112.33L329.82,112.27L329.98,112.21L330.15,112.17L330.31,112.13L330.47,112.11L330.64,112.10L330.80,112.10L330.96,112.10L331.13,112.11L331.29,112.13L331.45,112.17L331.62,112.21L331.78,112.27L331.94,112.33L332.11,112.39L332.27,112.45L332.43,112.51L332.60,112.56L332.76,112.60L332.92,112.64L333.08,112.66L333.25,112.68L333.41,112.69L333.41,112.70Z" fill="#2c2290"/>
<path d="M339.47,112.70L339.47,112.68L339.65,112.66L339.82,112.64L340.00,112.60L340.18,112.56L340.36,112.49L340.53,112.42L340.71,112.33L340.89,112.24L341.06,112.14L341.24,112.05L341.42,111.97L341.59,111.90L341.77,111.85L341.95,111.82L342.12,111.80L342.30,111.80L342.48,111.80L342.65,111.82L342.83,111.85L343.01,111.90L343.18,111.97L343.36,112.05L343.54,112.14L343.71,112.24L343.89,112.33L344.07,112.42L344.24,112.49L344.42,112.56L344.60,112.60L344.78,112.64L344.95,112.66L345.13,112.68L345.13,112.70Z" fill="#2c2290"/>
<path d="M365.52,112.70L365.52,112.69L365.66,112.68L365.80,112.66L365.93,112.64L366.07,112.62L366.20,112.58L366.34,112.54L366.48,112.49L366.61,112.43L366.75,112.37L366.88,112.32L367.02,112.27L367.16,112.23L367.29,112.20L367.43,112.19L367.56,112.18L367.70,112.17L367.84,112.18L367.97,112.19L368.11,112.20L368.24,112.23L368.38,112.27L368.52,112.32L368.65,112.37L368.79,112.43L368.92,112.49L369.06,112.54L369.20,112.58L369.33,112.62L369.47,112.64L369.60,112.66L369.74,112.68L369.88,112.69L369.88,112.70Z" fill="#2c2290"/>
<path d="M381.72,112.70L381.72,112.69L381.86,112.68L382.00,112.66L382.13,112.64L382.27,112.60L382.40,112.56L382.54,112.51L382.68,112.45L382.81,112.39L382.95,112.33L383.08,112.27L383.22,112.21L383.36,112.17L383.49,112.13L383.63,112.11L383.76,112.10L383.90,112.10L384.04,112.10L384.17,112.11L384.31,112.13L384.44,112.17L384.58,112.21L384.72,112.27L384.85,112.33L384.99,112.39L385.12,112.45L385.26,112.51L385.40,112.56L385.53,112.60L385.67,112.64L385.80,112.66L385.94,112.68L386.08,112.69L386.08,112.70Z" fill="#2c2290"/>
<path d="M400.89,112.70L400.89,112.69L401.05,112.68L401.22,112.66L401.38,112.64L401.54,112.60L401.70,112.56L401.87,112.51L402.03,112.45L402.19,112.39L402.36,112.33L402.52,112.27L402.68,112.21L402.85,112.17L403.01,112.13L403.17,112.11L403.34,112.10L403.50,112.10L403.66,112.10L403.83,112.11L403.99,112.13L404.15,112.17L404.32,112.21L404.48,112.27L404.64,112.33L404.81,112.39L404.97,112.45L405.13,112.51L405.30,112.56L405.46,112.60L405.62,112.64L405.78,112.66L405.95,112.68L406.11,112.69L406.11,112.70Z" fill="#2c2290"/>
<path d="M412.24,112.70L412.24,112.68L412.44,112.66L412.64,112.63L412.85,112.60L413.05,112.54L413.26,112.48L413.46,112.40L413.66,112.30L413.87,112.20L414.07,112.09L414.28,112.00L414.48,111.91L414.68,111.83L414.89,111.78L415.09,111.75L415.30,111.73L415.50,111.73L415.70,111.73L415.91,111.75L416.11,111.78L416.32,111.83L416.52,111.91L416.72,112.00L416.93,112.09L417.13,112.20L417.34,112.30L417.54,112.40L417.74,112.48L417.95,112.54L418.15,112.60L418.36,112.63L418.56,112.66L418.76,112.68L418.76,112.70Z" fill="#2c2290"/>
<path d="M440.82,112.70L440.82,112.68L440.96,112.67L441.10,112.65L441.23,112.63L441.37,112.59L441.50,112.55L441.64,112.49L441.78,112.42L441.91,112.35L442.05,112.28L442.18,112.21L442.32,112.15L442.46,112.10L442.59,112.06L442.73,112.04L442.86,112.03L443.00,112.03L443.14,112.03L443.27,112.04L443.41,112.06L443.54,112.10L443.68,112.15L443.82,112.21L443.95,112.28L444.09,112.35L444.22,112.42L444.36,112.49L444.50,112.55L444.63,112.59L444.77,112.63L444.90,112.65L445.04,112.67L445.18,112.68L445.18,112.70Z" fill="#2c2290"/>
<path d="M452.26,112.70L452.26,112.69L452.37,112.68L452.48,112.66L452.59,112.64L452.69,112.62L452.80,112.58L452.91,112.54L453.02,112.49L453.13,112.43L453.24,112.37L453.35,112.32L453.46,112.27L453.56,112.23L453.67,112.20L453.78,112.19L453.89,112.18L454.00,112.17L454.11,112.18L454.22,112.19L454.33,112.20L454.44,112.23L454.54,112.27L454.65,112.32L454.76,112.37L454.87,112.43L454.98,112.49L455.09,112.54L455.20,112.58L455.31,112.62L455.41,112.64L455.52,112.66L455.63,112.68L455.74,112.69L455.74,112.70Z" fill="#2c2290"/>
<path d="M498.82,112.70L498.82,112.69L498.96,112.68L499.10,112.66L499.23,112.64L499.37,112.60L499.50,112.56L499.64,112.51L499.78,112.45L499.91,112.39L500.05,112.33L500.18,112.27L500.32,112.21L500.46,112.17L500.59,112.13L500.73,112.11L500.86,112.10L501.00,112.10L501.14,112.10L501.27,112.11L501.41,112.13L501.54,112.17L501.68,112.21L501.82,112.27L501.95,112.33L502.09,112.39L502.22,112.45L502.36,112.51L502.50,112.56L502.63,112.60L502.77,112.64L502.90,112.66L503.04,112.68L503.18,112.69L503.18,112.70Z" fill="#2c2290"/>
<path d="M288.06,125.70L288.06,125.55L288.29,125.44L288.51,125.28L288.73,125.03L288.95,124.70L289.17,124.26L289.39,123.73L289.61,123.12L289.83,122.46L290.05,121.79L290.27,121.15L290.50,120.57L290.72,120.10L290.94,119.75L291.16,119.53L291.38,119.42L291.60,119.40L291.82,119.42L292.04,119.53L292.26,119.75L292.48,120.10L292.71,120.57L292.93,121.15L293.15,121.79L293.37,122.46L293.59,123.12L293.81,123.73L294.03,124.26L294.25,124.70L294.47,125.03L294.69,125.28L294.92,125.44L295.14,125.55L295.14,125.70Z" fill="#2c2290"/>
<path d="M292.89,125.70L292.89,125.68L293.05,125.66L293.22,125.64L293.38,125.60L293.54,125.56L293.70,125.49L293.87,125.42L294.03,125.33L294.19,125.24L294.36,125.14L294.52,125.05L294.68,124.97L294.85,124.90L295.01,124.85L295.17,124.82L295.34,124.80L295.50,124.80L295.66,124.80L295.83,124.82L295.99,124.85L296.15,124.90L296.32,124.97L296.48,125.05L296.64,125.14L296.81,125.24L296.97,125.33L297.13,125.42L297.30,125.49L297.46,125.56L297.62,125.60L297.78,125.64L297.95,125.66L298.11,125.68L298.11,125.70Z" fill="#2c2290"/>
<path d="M384.26,125.70L384.26,125.60L384.49,125.53L384.71,125.42L384.93,125.25L385.15,125.03L385.37,124.74L385.59,124.39L385.81,123.98L386.03,123.54L386.25,123.09L386.47,122.66L386.69,122.28L386.92,121.97L387.14,121.73L387.36,121.59L387.58,121.52L387.80,121.50L388.02,121.52L388.24,121.59L388.46,121.73L388.68,121.97L388.91,122.28L389.13,122.66L389.35,123.09L389.57,123.54L389.79,123.98L390.01,124.39L390.23,124.74L390.45,125.03L390.67,125.25L390.89,125.42L391.12,125.53L391.34,125.60L391.34,125.70Z" fill="#2c2290"/>
<path d="M339.04,125.70L339.04,125.67L339.24,125.65L339.44,125.62L339.65,125.58L339.85,125.52L340.06,125.44L340.26,125.35L340.46,125.24L340.67,125.12L340.87,125.00L341.08,124.89L341.28,124.78L341.48,124.70L341.69,124.64L341.89,124.60L342.10,124.58L342.30,124.58L342.50,124.58L342.71,124.60L342.91,124.64L343.12,124.70L343.32,124.78L343.52,124.89L343.73,125.00L343.93,125.12L344.14,125.24L344.34,125.35L344.54,125.44L344.75,125.52L344.95,125.58L345.16,125.62L345.36,125.65L345.56,125.67L345.56,125.70Z" fill="#2c2290"/>
<path d="M124.12,125.70L124.12,125.69L124.26,125.68L124.40,125.66L124.53,125.64L124.67,125.60L124.80,125.56L124.94,125.51L125.08,125.45L125.21,125.39L125.35,125.33L125.48,125.27L125.62,125.21L125.76,125.17L125.89,125.13L126.03,125.11L126.16,125.10L126.30,125.10L126.44,125.10L126.57,125.11L126.71,125.13L126.84,125.17L126.98,125.21L127.12,125.27L127.25,125.33L127.39,125.39L127.52,125.45L127.66,125.51L127.80,125.56L127.93,125.60L128.07,125.64L128.20,125.66L128.34,125.68L128.48,125.69L128.48,125.70Z" fill="#2c2290"/>
<path d="M149.42,125.70L149.42,125.69L149.56,125.68L149.70,125.66L149.83,125.64L149.97,125.62L150.10,125.58L150.24,125.54L150.38,125.49L150.51,125.43L150.65,125.37L150.78,125.32L150.92,125.27L151.06,125.23L151.19,125.20L151.33,125.19L151.46,125.18L151.60,125.17L151.74,125.18L151.87,125.19L152.01,125.20L152.14,125.23L152.28,125.27L152.42,125.32L152.55,125.37L152.69,125.43L152.82,125.49L152.96,125.54L153.10,125.58L153.23,125.62L153.37,125.64L153.50,125.66L153.64,125.68L153.78,125.69L153.78,125.70Z" fill="#2c2290"/>
<path d="M207.79,125.70L207.79,125.68L207.95,125.67L208.12,125.65L208.28,125.62L208.44,125.58L208.60,125.53L208.77,125.47L208.93,125.39L209.09,125.31L209.26,125.23L209.42,125.16L209.58,125.09L209.75,125.03L209.91,124.99L210.07,124.97L210.24,124.95L210.40,124.95L210.56,124.95L210.73,124.97L210.89,124.99L211.05,125.03L211.22,125.09L211.38,125.16L211.54,125.23L211.71,125.31L211.87,125.39L212.03,125.47L212.20,125.53L212.36,125.58L212.52,125.62L212.68,125.65L212.85,125.67L213.01,125.68L213.01,125.70Z" fill="#2c2290"/>
<path d="M222.82,125.70L222.82,125.69L222.96,125.68L223.10,125.66L223.23,125.64L223.37,125.60L223.50,125.56L223.64,125.51L223.78,125.45L223.91,125.39L224.05,125.33L224.18,125.27L224.32,125.21L224.46,125.17L224.59,125.13L224.73,125.11L224.86,125.10L225.00,125.10L225.14,125.10L225.27,125.11L225.41,125.13L225.54,125.17L225.68,125.21L225.82,125.27L225.95,125.33L226.09,125.39L226.22,125.45L226.36,125.51L226.50,125.56L226.63,125.60L226.77,125.64L226.90,125.66L227.04,125.68L227.18,125.69L227.18,125.70Z" fill="#2c2290"/>
<path d="M233.12,125.70L233.12,125.68L233.26,125.67L233.40,125.64L233.53,125.61L233.67,125.57L233.80,125.51L233.94,125.44L234.08,125.36L234.21,125.28L234.35,125.19L234.48,125.10L234.62,125.03L234.76,124.97L234.89,124.92L235.03,124.89L235.16,124.88L235.30,124.88L235.44,124.88L235.57,124.89L235.71,124.92L235.84,124.97L235.98,125.03L236.12,125.10L236.25,125.19L236.39,125.28L236.52,125.36L236.66,125.44L236.80,125.51L236.93,125.57L237.07,125.61L237.20,125.64L237.34,125.67L237.48,125.68L237.48,125.70Z" fill="#2c2290"/>
<path d="M255.62,125.70L255.62,125.68L255.76,125.67L255.90,125.65L256.03,125.63L256.17,125.59L256.30,125.55L256.44,125.49L256.58,125.42L256.71,125.35L256.85,125.28L256.98,125.21L257.12,125.15L257.26,125.10L257.39,125.06L257.53,125.04L257.66,125.03L257.80,125.03L257.94,125.03L258.07,125.04L258.21,125.06L258.34,125.10L258.48,125.15L258.62,125.21L258.75,125.28L258.89,125.35L259.02,125.42L259.16,125.49L259.30,125.55L259.43,125.59L259.57,125.63L259.70,125.65L259.84,125.67L259.98,125.68L259.98,125.70Z" fill="#2c2290"/>
<path d="M351.72,125.70L351.72,125.69L351.86,125.68L352.00,125.66L352.13,125.64L352.27,125.62L352.40,125.58L352.54,125.54L352.68,125.49L352.81,125.43L352.95,125.37L353.08,125.32L353.22,125.27L353.36,125.23L353.49,125.20L353.63,125.19L353.76,125.18L353.90,125.17L354.04,125.18L354.17,125.19L354.31,125.20L354.44,125.23L354.58,125.27L354.72,125.32L354.85,125.37L354.99,125.43L355.12,125.49L355.26,125.54L355.40,125.58L355.53,125.62L355.67,125.64L355.80,125.66L355.94,125.68L356.08,125.69L356.08,125.70Z" fill="#2c2290"/>
<path d="M359.82,125.70L359.82,125.69L359.96,125.68L360.10,125.67L360.23,125.65L360.37,125.63L360.50,125.60L360.64,125.56L360.78,125.52L360.91,125.47L361.05,125.42L361.18,125.37L361.32,125.33L361.46,125.30L361.59,125.28L361.73,125.26L361.86,125.25L362.00,125.25L362.14,125.25L362.27,125.26L362.41,125.28L362.54,125.30L362.68,125.33L362.82,125.37L362.95,125.42L363.09,125.47L363.22,125.52L363.36,125.56L363.50,125.60L363.63,125.63L363.77,125.65L363.90,125.67L364.04,125.68L364.18,125.69L364.18,125.70Z" fill="#2c2290"/>
<path d="M364.82,125.70L364.82,125.69L364.96,125.68L365.10,125.67L365.23,125.65L365.37,125.63L365.50,125.60L365.64,125.56L365.78,125.52L365.91,125.47L366.05,125.42L366.18,125.37L366.32,125.33L366.46,125.30L366.59,125.28L366.73,125.26L366.86,125.25L367.00,125.25L367.14,125.25L367.27,125.26L367.41,125.28L367.54,125.30L367.68,125.33L367.82,125.37L367.95,125.42L368.09,125.47L368.22,125.52L368.36,125.56L368.50,125.60L368.63,125.63L368.77,125.65L368.90,125.67L369.04,125.68L369.18,125.69L369.18,125.70Z" fill="#2c2290"/>
<path d="M369.82,125.70L369.82,125.69L369.96,125.68L370.10,125.67L370.23,125.65L370.37,125.63L370.50,125.60L370.64,125.56L370.78,125.52L370.91,125.47L371.05,125.42L371.18,125.37L371.32,125.33L371.46,125.30L371.59,125.28L371.73,125.26L371.86,125.25L372.00,125.25L372.14,125.25L372.27,125.26L372.41,125.28L372.54,125.30L372.68,125.33L372.82,125.37L372.95,125.42L373.09,125.47L373.22,125.52L373.36,125.56L373.50,125.60L373.63,125.63L373.77,125.65L373.90,125.67L374.04,125.68L374.18,125.69L374.18,125.70Z" fill="#2c2290"/>
<path d="M373.82,125.70L373.82,125.69L373.96,125.68L374.10,125.67L374.23,125.65L374.37,125.63L374.50,125.60L374.64,125.56L374.78,125.52L374.91,125.47L375.05,125.42L375.18,125.37L375.32,125.33L375.46,125.30L375.59,125.28L375.73,125.26L375.86,125.25L376.00,125.25L376.14,125.25L376.27,125.26L376.41,125.28L376.54,125.30L376.68,125.33L376.82,125.37L376.95,125.42L377.09,125.47L377.22,125.52L377.36,125.56L377.50,125.60L377.63,125.63L377.77,125.65L377.90,125.67L378.04,125.68L378.18,125.69L378.18,125.70Z" fill="#2c2290"/>
<path d="M393.29,125.70L393.29,125.68L393.45,125.67L393.62,125.65L393.78,125.63L393.94,125.59L394.10,125.55L394.27,125.49L394.43,125.42L394.59,125.35L394.76,125.28L394.92,125.21L395.08,125.15L395.25,125.10L395.41,125.06L395.57,125.04L395.74,125.03L395.90,125.03L396.06,125.03L396.23,125.04L396.39,125.06L396.55,125.10L396.72,125.15L396.88,125.21L397.04,125.28L397.21,125.35L397.37,125.42L397.53,125.49L397.70,125.55L397.86,125.59L398.02,125.63L398.18,125.65L398.35,125.67L398.51,125.68L398.51,125.70Z" fill="#2c2290"/>
<path d="M402.42,125.70L402.42,125.69L402.56,125.68L402.70,125.66L402.83,125.64L402.97,125.62L403.10,125.58L403.24,125.54L403.38,125.49L403.51,125.43L403.65,125.37L403.78,125.32L403.92,125.27L404.06,125.23L404.19,125.20L404.33,125.19L404.46,125.18L404.60,125.17L404.74,125.18L404.87,125.19L405.01,125.20L405.14,125.23L405.28,125.27L405.42,125.32L405.55,125.37L405.69,125.43L405.82,125.49L405.96,125.54L406.10,125.58L406.23,125.62L406.37,125.64L406.50,125.66L406.64,125.68L406.78,125.69L406.78,125.70Z" fill="#2c2290"/>
<path d="M415.24,125.70L415.24,125.68L415.44,125.67L415.64,125.64L415.85,125.61L416.05,125.57L416.26,125.51L416.46,125.44L416.66,125.36L416.87,125.28L417.07,125.19L417.28,125.10L417.48,125.03L417.68,124.97L417.89,124.92L418.09,124.89L418.30,124.88L418.50,124.88L418.70,124.88L418.91,124.89L419.11,124.92L419.32,124.97L419.52,125.03L419.72,125.10L419.93,125.19L420.13,125.28L420.34,125.36L420.54,125.44L420.74,125.51L420.95,125.57L421.15,125.61L421.36,125.64L421.56,125.67L421.76,125.68L421.76,125.70Z" fill="#2c2290"/>
<path d="M274.69,138.20L274.69,138.06L274.93,137.95L275.17,137.78L275.41,137.54L275.64,137.21L275.88,136.78L276.12,136.26L276.36,135.66L276.60,135.02L276.83,134.35L277.07,133.72L277.31,133.15L277.55,132.69L277.79,132.35L278.02,132.13L278.26,132.02L278.50,132.00L278.74,132.02L278.98,132.13L279.21,132.35L279.45,132.69L279.69,133.15L279.93,133.72L280.17,134.35L280.40,135.02L280.64,135.66L280.88,136.26L281.12,136.78L281.36,137.21L281.59,137.54L281.83,137.78L282.07,137.95L282.31,138.06L282.31,138.20Z" fill="#2c2290"/>
<path d="M93.02,138.20L93.02,138.19L93.16,138.18L93.30,138.16L93.43,138.14L93.57,138.10L93.70,138.06L93.84,138.01L93.98,137.95L94.11,137.89L94.25,137.83L94.38,137.77L94.52,137.71L94.66,137.67L94.79,137.63L94.93,137.61L95.06,137.60L95.20,137.60L95.34,137.60L95.47,137.61L95.61,137.63L95.74,137.67L95.88,137.71L96.02,137.77L96.15,137.83L96.29,137.89L96.42,137.95L96.56,138.01L96.70,138.06L96.83,138.10L96.97,138.14L97.10,138.16L97.24,138.18L97.38,138.19L97.38,138.20Z" fill="#2c2290"/>
<path d="M111.32,138.20L111.32,138.19L111.46,138.18L111.60,138.16L111.73,138.14L111.87,138.12L112.00,138.08L112.14,138.04L112.28,137.99L112.41,137.93L112.55,137.87L112.68,137.82L112.82,137.77L112.96,137.73L113.09,137.70L113.23,137.69L113.36,137.68L113.50,137.68L113.64,137.68L113.77,137.69L113.91,137.70L114.04,137.73L114.18,137.77L114.32,137.82L114.45,137.87L114.59,137.93L114.72,137.99L114.86,138.04L115.00,138.08L115.13,138.12L115.27,138.14L115.40,138.16L115.54,138.18L115.68,138.19L115.68,138.20Z" fill="#2c2290"/>
<path d="M382.82,138.20L382.82,138.19L382.96,138.18L383.10,138.16L383.23,138.14L383.37,138.12L383.50,138.08L383.64,138.04L383.78,137.99L383.91,137.93L384.05,137.87L384.18,137.82L384.32,137.77L384.46,137.73L384.59,137.70L384.73,137.69L384.86,137.68L385.00,137.68L385.14,137.68L385.27,137.69L385.41,137.70L385.54,137.73L385.68,137.77L385.82,137.82L385.95,137.87L386.09,137.93L386.22,137.99L386.36,138.04L386.50,138.08L386.63,138.12L386.77,138.14L386.90,138.16L387.04,138.18L387.18,138.19L387.18,138.20Z" fill="#2c2290"/>
<path d="M412.32,138.20L412.32,138.18L412.46,138.17L412.60,138.15L412.73,138.13L412.87,138.09L413.00,138.05L413.14,137.99L413.28,137.92L413.41,137.85L413.55,137.78L413.68,137.71L413.82,137.65L413.96,137.60L414.09,137.56L414.23,137.54L414.36,137.53L414.50,137.53L414.64,137.53L414.77,137.54L414.91,137.56L415.04,137.60L415.18,137.65L415.32,137.71L415.45,137.78L415.59,137.85L415.72,137.92L415.86,137.99L416.00,138.05L416.13,138.09L416.27,138.13L416.40,138.15L416.54,138.17L416.68,138.18L416.68,138.20Z" fill="#2c2290"/>
<path d="M274.52,150.10L274.52,150.02L274.78,149.95L275.03,149.86L275.29,149.72L275.54,149.53L275.80,149.28L276.05,148.98L276.31,148.63L276.56,148.25L276.82,147.87L277.07,147.50L277.33,147.17L277.58,146.90L277.84,146.70L278.09,146.57L278.35,146.51L278.60,146.50L278.86,146.51L279.11,146.57L279.37,146.70L279.62,146.90L279.88,147.17L280.13,147.50L280.39,147.87L280.64,148.25L280.90,148.63L281.15,148.98L281.41,149.28L281.66,149.53L281.92,149.72L282.17,149.86L282.43,149.95L282.68,150.02L282.68,150.10Z" fill="#2c2290"/>
<path d="M269.89,150.10L269.89,150.09L270.05,150.08L270.22,150.07L270.38,150.05L270.54,150.03L270.70,150.00L270.87,149.96L271.03,149.92L271.19,149.87L271.36,149.82L271.52,149.77L271.68,149.73L271.85,149.70L272.01,149.68L272.17,149.66L272.34,149.65L272.50,149.65L272.66,149.65L272.83,149.66L272.99,149.68L273.15,149.70L273.32,149.73L273.48,149.77L273.64,149.82L273.81,149.87L273.97,149.92L274.13,149.96L274.30,150.00L274.46,150.03L274.62,150.05L274.78,150.07L274.95,150.08L275.11,150.09L275.11,150.10Z" fill="#2c2290"/>
<path d="M287.82,150.10L287.82,150.09L287.96,150.08L288.10,150.06L288.23,150.04L288.37,150.02L288.50,149.98L288.64,149.94L288.78,149.89L288.91,149.83L289.05,149.77L289.18,149.72L289.32,149.67L289.46,149.63L289.59,149.60L289.73,149.59L289.86,149.58L290.00,149.58L290.14,149.58L290.27,149.59L290.41,149.60L290.54,149.63L290.68,149.67L290.82,149.72L290.95,149.77L291.09,149.83L291.22,149.89L291.36,149.94L291.50,149.98L291.63,150.02L291.77,150.04L291.90,150.06L292.04,150.08L292.18,150.09L292.18,150.10Z" fill="#2c2290"/>
<path d="M165.49,150.10L165.49,150.09L165.58,150.08L165.66,150.06L165.74,150.04L165.82,150.00L165.90,149.96L165.98,149.91L166.07,149.85L166.15,149.79L166.23,149.73L166.31,149.67L166.39,149.61L166.47,149.57L166.56,149.53L166.64,149.51L166.72,149.50L166.80,149.50L166.88,149.50L166.96,149.51L167.04,149.53L167.13,149.57L167.21,149.61L167.29,149.67L167.37,149.73L167.45,149.79L167.53,149.85L167.62,149.91L167.70,149.96L167.78,150.00L167.86,150.04L167.94,150.06L168.02,150.08L168.11,150.09L168.11,150.10Z" fill="#2c2290"/>
<path d="M175.89,150.10L175.89,150.09L175.98,150.08L176.06,150.06L176.14,150.04L176.22,150.00L176.30,149.96L176.38,149.91L176.47,149.85L176.55,149.79L176.63,149.73L176.71,149.67L176.79,149.61L176.87,149.57L176.96,149.53L177.04,149.51L177.12,149.50L177.20,149.50L177.28,149.50L177.36,149.51L177.44,149.53L177.53,149.57L177.61,149.61L177.69,149.67L177.77,149.73L177.85,149.79L177.93,149.85L178.02,149.91L178.10,149.96L178.18,150.00L178.26,150.04L178.34,150.06L178.42,150.08L178.51,150.09L178.51,150.10Z" fill="#2c2290"/>
<path d="M215.99,150.10L215.99,150.09L216.08,150.08L216.16,150.06L216.24,150.04L216.32,150.00L216.40,149.96L216.48,149.91L216.57,149.85L216.65,149.79L216.73,149.73L216.81,149.67L216.89,149.61L216.97,149.57L217.06,149.53L217.14,149.51L217.22,149.50L217.30,149.50L217.38,149.50L217.46,149.51L217.54,149.53L217.63,149.57L217.71,149.61L217.79,149.67L217.87,149.73L217.95,149.79L218.03,149.85L218.12,149.91L218.20,149.96L218.28,150.00L218.36,150.04L218.44,150.06L218.52,150.08L218.61,150.09L218.61,150.10Z" fill="#2c2290"/>
<path d="M225.39,150.10L225.39,150.09L225.48,150.08L225.56,150.06L225.64,150.04L225.72,150.00L225.80,149.96L225.88,149.91L225.97,149.85L226.05,149.79L226.13,149.73L226.21,149.67L226.29,149.61L226.37,149.57L226.46,149.53L226.54,149.51L226.62,149.50L226.70,149.50L226.78,149.50L226.86,149.51L226.94,149.53L227.03,149.57L227.11,149.61L227.19,149.67L227.27,149.73L227.35,149.79L227.43,149.85L227.52,149.91L227.60,149.96L227.68,150.00L227.76,150.04L227.84,150.06L227.92,150.08L228.01,150.09L228.01,150.10Z" fill="#2c2290"/>
<path d="M234.69,150.10L234.69,150.09L234.78,150.08L234.86,150.06L234.94,150.04L235.02,150.00L235.10,149.96L235.18,149.91L235.27,149.85L235.35,149.79L235.43,149.73L235.51,149.67L235.59,149.61L235.67,149.57L235.76,149.53L235.84,149.51L235.92,149.50L236.00,149.50L236.08,149.50L236.16,149.51L236.24,149.53L236.33,149.57L236.41,149.61L236.49,149.67L236.57,149.73L236.65,149.79L236.73,149.85L236.82,149.91L236.90,149.96L236.98,150.00L237.06,150.04L237.14,150.06L237.22,150.08L237.31,150.09L237.31,150.10Z" fill="#2c2290"/>
<path d="M256.06,150.10L256.06,150.08L256.17,150.07L256.28,150.05L256.39,150.03L256.49,149.99L256.60,149.95L256.71,149.89L256.82,149.82L256.93,149.75L257.04,149.68L257.15,149.61L257.26,149.55L257.36,149.50L257.47,149.46L257.58,149.44L257.69,149.43L257.80,149.43L257.91,149.43L258.02,149.44L258.13,149.46L258.24,149.50L258.34,149.55L258.45,149.61L258.56,149.68L258.67,149.75L258.78,149.82L258.89,149.89L259.00,149.95L259.11,149.99L259.21,150.03L259.32,150.05L259.43,150.07L259.54,150.08L259.54,150.10Z" fill="#2c2290"/>
<path d="M307.49,150.10L307.49,150.09L307.58,150.08L307.66,150.06L307.74,150.04L307.82,150.02L307.90,149.98L307.98,149.94L308.07,149.89L308.15,149.83L308.23,149.77L308.31,149.72L308.39,149.67L308.47,149.63L308.56,149.60L308.64,149.59L308.72,149.58L308.80,149.58L308.88,149.58L308.96,149.59L309.04,149.60L309.13,149.63L309.21,149.67L309.29,149.72L309.37,149.77L309.45,149.83L309.53,149.89L309.62,149.94L309.70,149.98L309.78,150.02L309.86,150.04L309.94,150.06L310.02,150.08L310.11,150.09L310.11,150.10Z" fill="#2c2290"/>
<path d="M401.76,150.10L401.76,150.09L401.87,150.08L401.98,150.06L402.09,150.04L402.19,150.00L402.30,149.96L402.41,149.91L402.52,149.85L402.63,149.79L402.74,149.73L402.85,149.67L402.96,149.61L403.06,149.57L403.17,149.53L403.28,149.51L403.39,149.50L403.50,149.50L403.61,149.50L403.72,149.51L403.83,149.53L403.94,149.57L404.04,149.61L404.15,149.67L404.26,149.73L404.37,149.79L404.48,149.85L404.59,149.91L404.70,149.96L404.81,150.00L404.91,150.04L405.02,150.06L405.13,150.08L405.24,150.09L405.24,150.10Z" fill="#2c2290"/>
<path d="M413.39,150.10L413.39,150.08L413.55,150.07L413.72,150.05L413.88,150.03L414.04,149.99L414.20,149.95L414.37,149.89L414.53,149.82L414.69,149.75L414.86,149.68L415.02,149.61L415.18,149.55L415.35,149.50L415.51,149.46L415.67,149.44L415.84,149.43L416.00,149.43L416.16,149.43L416.33,149.44L416.49,149.46L416.65,149.50L416.82,149.55L416.98,149.61L417.14,149.68L417.31,149.75L417.47,149.82L417.63,149.89L417.80,149.95L417.96,149.99L418.12,150.03L418.28,150.05L418.45,150.07L418.61,150.08L418.61,150.10Z" fill="#2c2290"/>
<path d="M447.19,150.10L447.19,150.09L447.28,150.08L447.36,150.06L447.44,150.04L447.52,150.02L447.60,149.98L447.68,149.94L447.77,149.89L447.85,149.83L447.93,149.77L448.01,149.72L448.09,149.67L448.17,149.63L448.26,149.60L448.34,149.59L448.42,149.58L448.50,149.58L448.58,149.58L448.66,149.59L448.74,149.60L448.83,149.63L448.91,149.67L448.99,149.72L449.07,149.77L449.15,149.83L449.23,149.89L449.32,149.94L449.40,149.98L449.48,150.02L449.56,150.04L449.64,150.06L449.72,150.08L449.81,150.09L449.81,150.10Z" fill="#2c2290"/>
<line x1="353.3" y1="154.1" x2="362.4" y2="154.1" stroke="#8a8a8a" stroke-width="0.9"/>
<rect x="347.5" y="151.9" width="5.800000000000011" height="4.4" fill="#111111"/>
<rect x="362.4" y="151.9" width="8.200000000000045" height="4.4" fill="#111111"/>
<rect x="345.1" y="152.9" width="2.4999999999999774" height="2.4" fill="#111111"/>
<rect x="370.5" y="152.9" width="2.9999999999999774" height="2.4" fill="#111111"/>
<path d="M356.85,152.9L358.85,154.1L356.85,155.29999999999998Z" fill="#5555aa"/>
<text x="347" y="165.2" font-size="8.5" text-anchor="start" fill="#231f20" textLength="22.8" lengthAdjust="spacingAndGlyphs">Cebpe</text>
<rect x="268.3" y="39.6" width="31.4" height="113.4" fill="#c8c0c0" fill-opacity="0.46"/>
<text x="9.9" y="193.8" font-size="11" text-anchor="start" fill="#231f20" textLength="5.8" lengthAdjust="spacingAndGlyphs" style="stroke-width:0.05px">B</text>
<text x="0" y="0" transform="translate(34.0,245.0) rotate(-90)" font-size="10.2" text-anchor="start" fill="#231f20" textLength="56.7" lengthAdjust="spacingAndGlyphs" style="stroke-width:0.05px">MLL-AF9 cells</text>
<line x1="80.6" y1="187.3" x2="80.6" y2="245.5" stroke="#231f20" stroke-width="1.0"/>
<text x="83.7" y="195.5" font-size="9.0" text-anchor="start" fill="#231f20" textLength="4.3" lengthAdjust="spacingAndGlyphs">8</text>
<text x="83.7" y="245.0" font-size="9.0" text-anchor="start" fill="#231f20" textLength="4.3" lengthAdjust="spacingAndGlyphs">0</text>
<text x="77.1" y="196.7" font-size="8.5" text-anchor="end" fill="#231f20" textLength="22.5" lengthAdjust="spacingAndGlyphs">CEBPA</text>
<line x1="93.75" y1="197.6" x2="508.4" y2="197.6" stroke="#efe5ea" stroke-width="0.8"/>
<text x="76.2" y="209.2" font-size="8.5" text-anchor="end" fill="#231f20" textLength="13.2" lengthAdjust="spacingAndGlyphs">FLI1</text>
<line x1="93.75" y1="211.0" x2="508.4" y2="211.0" stroke="#efe5ea" stroke-width="0.8"/>
<text x="77.1" y="224.3" font-size="8.5" text-anchor="end" fill="#231f20" textLength="14.1" lengthAdjust="spacingAndGlyphs">ERG</text>
<line x1="93.75" y1="224.3" x2="508.4" y2="224.3" stroke="#efe5ea" stroke-width="0.8"/>
<text x="76.2" y="238.3" font-size="8.5" text-anchor="end" fill="#231f20" textLength="13.7" lengthAdjust="spacingAndGlyphs">SPI1</text>
<line x1="93.75" y1="237.3" x2="508.4" y2="237.3" stroke="#efe5ea" stroke-width="0.8"/>
<path d="M277.62,197.90L277.62,197.72L277.88,197.59L278.13,197.38L278.38,197.08L278.64,196.67L278.89,196.14L279.15,195.49L279.41,194.75L279.66,193.94L279.92,193.12L280.17,192.33L280.43,191.63L280.68,191.06L280.94,190.63L281.19,190.36L281.44,190.23L281.70,190.20L281.95,190.23L282.21,190.36L282.46,190.63L282.72,191.06L282.97,191.63L283.23,192.33L283.49,193.12L283.74,193.94L284.00,194.75L284.25,195.49L284.50,196.14L284.76,196.67L285.01,197.08L285.27,197.38L285.52,197.59L285.78,197.72L285.78,197.90Z" fill="#ec2d8c"/>
<path d="M288.29,197.90L288.29,197.72L288.53,197.59L288.77,197.38L289.01,197.08L289.24,196.67L289.48,196.14L289.72,195.49L289.96,194.75L290.20,193.94L290.43,193.12L290.67,192.33L290.91,191.63L291.15,191.06L291.39,190.63L291.62,190.36L291.86,190.23L292.10,190.20L292.34,190.23L292.58,190.36L292.81,190.63L293.05,191.06L293.29,191.63L293.53,192.33L293.77,193.12L294.00,193.94L294.24,194.75L294.48,195.49L294.72,196.14L294.96,196.67L295.19,197.08L295.43,197.38L295.67,197.59L295.91,197.72L295.91,197.90Z" fill="#ec2d8c"/>
<path d="M272.40,197.90L272.40,197.89L273.25,197.88L274.10,197.87L274.95,197.85L275.80,197.82L276.65,197.79L277.50,197.74L278.35,197.70L279.20,197.64L280.05,197.59L280.90,197.54L281.75,197.49L282.60,197.46L283.45,197.43L284.30,197.41L285.15,197.40L286.00,197.40L286.85,197.40L287.70,197.41L288.55,197.43L289.40,197.46L290.25,197.49L291.10,197.54L291.95,197.59L292.80,197.64L293.65,197.70L294.50,197.74L295.35,197.79L296.20,197.82L297.05,197.85L297.90,197.87L298.75,197.88L299.60,197.89L299.60,197.90Z" fill="#ec2d8c"/>
<path d="M113.26,197.90L113.26,197.85L113.48,197.82L113.71,197.77L113.93,197.69L114.15,197.58L114.37,197.44L114.59,197.28L114.81,197.08L115.03,196.87L115.25,196.66L115.47,196.45L115.69,196.27L115.92,196.12L116.14,196.01L116.36,195.94L116.58,195.91L116.80,195.90L117.02,195.91L117.24,195.94L117.46,196.01L117.68,196.12L117.91,196.27L118.13,196.45L118.35,196.66L118.57,196.87L118.79,197.08L119.01,197.28L119.23,197.44L119.45,197.58L119.67,197.69L119.89,197.77L120.11,197.82L120.34,197.85L120.34,197.90Z" fill="#ec2d8c"/>
<path d="M207.92,197.90L207.92,197.88L208.17,197.86L208.43,197.83L208.68,197.79L208.94,197.74L209.19,197.67L209.45,197.59L209.70,197.49L209.96,197.39L210.21,197.28L210.47,197.18L210.72,197.09L210.98,197.01L211.23,196.96L211.49,196.92L211.74,196.90L212.00,196.90L212.25,196.90L212.51,196.92L212.76,196.96L213.02,197.01L213.28,197.09L213.53,197.18L213.78,197.28L214.04,197.39L214.29,197.49L214.55,197.59L214.81,197.67L215.06,197.74L215.31,197.79L215.57,197.83L215.82,197.86L216.08,197.88L216.08,197.90Z" fill="#ec2d8c"/>
<path d="M227.46,197.90L227.46,197.84L227.69,197.80L227.91,197.73L228.13,197.63L228.35,197.50L228.57,197.33L228.79,197.12L229.01,196.88L229.23,196.62L229.45,196.35L229.67,196.09L229.90,195.86L230.12,195.68L230.34,195.54L230.56,195.45L230.78,195.41L231.00,195.40L231.22,195.41L231.44,195.45L231.66,195.54L231.88,195.68L232.10,195.86L232.33,196.09L232.55,196.35L232.77,196.62L232.99,196.88L233.21,197.12L233.43,197.33L233.65,197.50L233.87,197.63L234.09,197.73L234.31,197.80L234.54,197.84L234.54,197.90Z" fill="#ec2d8c"/>
<path d="M234.99,197.90L234.99,197.83L235.23,197.78L235.47,197.70L235.71,197.58L235.94,197.42L236.18,197.21L236.42,196.96L236.66,196.67L236.90,196.36L237.13,196.04L237.37,195.73L237.61,195.46L237.85,195.23L238.09,195.07L238.32,194.96L238.56,194.91L238.80,194.90L239.04,194.91L239.28,194.96L239.51,195.07L239.75,195.23L239.99,195.46L240.23,195.73L240.47,196.04L240.70,196.36L240.94,196.67L241.18,196.96L241.42,197.21L241.66,197.42L241.89,197.58L242.13,197.70L242.37,197.78L242.61,197.83L242.61,197.90Z" fill="#ec2d8c"/>
<path d="M346.72,197.90L346.72,197.88L346.98,197.86L347.23,197.83L347.49,197.79L347.74,197.74L348.00,197.67L348.25,197.59L348.51,197.49L348.76,197.39L349.02,197.28L349.27,197.18L349.53,197.09L349.78,197.01L350.04,196.96L350.29,196.92L350.55,196.90L350.80,196.90L351.06,196.90L351.31,196.92L351.56,196.96L351.82,197.01L352.07,197.09L352.33,197.18L352.59,197.28L352.84,197.39L353.10,197.49L353.35,197.59L353.61,197.67L353.86,197.74L354.12,197.79L354.37,197.83L354.62,197.86L354.88,197.88L354.88,197.90Z" fill="#ec2d8c"/>
<path d="M356.92,197.90L356.92,197.88L357.18,197.86L357.43,197.83L357.69,197.79L357.94,197.74L358.19,197.67L358.45,197.59L358.71,197.49L358.96,197.39L359.22,197.28L359.47,197.18L359.73,197.09L359.98,197.01L360.24,196.96L360.49,196.92L360.75,196.90L361.00,196.90L361.25,196.90L361.51,196.92L361.76,196.96L362.02,197.01L362.27,197.09L362.53,197.18L362.79,197.28L363.04,197.39L363.30,197.49L363.55,197.59L363.81,197.67L364.06,197.74L364.31,197.79L364.57,197.83L364.82,197.86L365.08,197.88L365.08,197.90Z" fill="#ec2d8c"/>
<path d="M374.02,197.90L374.02,197.87L374.28,197.84L374.53,197.81L374.79,197.75L375.04,197.68L375.30,197.58L375.55,197.46L375.81,197.33L376.06,197.18L376.32,197.03L376.57,196.89L376.83,196.76L377.08,196.66L377.34,196.58L377.59,196.53L377.85,196.51L378.10,196.50L378.36,196.51L378.61,196.53L378.87,196.58L379.12,196.66L379.38,196.76L379.63,196.89L379.89,197.03L380.14,197.18L380.40,197.33L380.65,197.46L380.91,197.58L381.16,197.68L381.42,197.75L381.67,197.81L381.93,197.84L382.18,197.87L382.18,197.90Z" fill="#ec2d8c"/>
<path d="M383.52,197.90L383.52,197.86L383.78,197.83L384.03,197.79L384.29,197.72L384.54,197.63L384.80,197.51L385.05,197.37L385.31,197.20L385.56,197.03L385.82,196.84L386.07,196.67L386.33,196.52L386.58,196.39L386.84,196.29L387.09,196.24L387.35,196.21L387.60,196.20L387.86,196.21L388.11,196.24L388.37,196.29L388.62,196.39L388.88,196.52L389.13,196.67L389.39,196.84L389.64,197.03L389.90,197.20L390.15,197.37L390.41,197.51L390.66,197.63L390.92,197.72L391.17,197.79L391.43,197.83L391.68,197.86L391.68,197.90Z" fill="#ec2d8c"/>
<path d="M403.65,197.90L403.65,197.83L403.92,197.78L404.19,197.70L404.46,197.58L404.74,197.42L405.01,197.21L405.28,196.96L405.55,196.67L405.82,196.36L406.10,196.04L406.37,195.73L406.64,195.46L406.91,195.23L407.18,195.07L407.46,194.96L407.73,194.91L408.00,194.90L408.27,194.91L408.54,194.96L408.82,195.07L409.09,195.23L409.36,195.46L409.63,195.73L409.90,196.04L410.18,196.36L410.45,196.67L410.72,196.96L410.99,197.21L411.26,197.42L411.54,197.58L411.81,197.70L412.08,197.78L412.35,197.83L412.35,197.90Z" fill="#ec2d8c"/>
<path d="M411.32,197.90L411.32,197.85L411.57,197.82L411.83,197.77L412.08,197.69L412.34,197.58L412.59,197.44L412.85,197.28L413.11,197.08L413.36,196.87L413.62,196.66L413.87,196.45L414.12,196.27L414.38,196.12L414.63,196.01L414.89,195.94L415.14,195.91L415.40,195.90L415.65,195.91L415.91,195.94L416.16,196.01L416.42,196.12L416.67,196.27L416.93,196.45L417.19,196.66L417.44,196.87L417.69,197.08L417.95,197.28L418.20,197.44L418.46,197.58L418.71,197.69L418.97,197.77L419.22,197.82L419.48,197.85L419.48,197.90Z" fill="#ec2d8c"/>
<path d="M475.99,197.90L475.99,197.85L476.23,197.82L476.47,197.77L476.71,197.69L476.94,197.58L477.18,197.44L477.42,197.28L477.66,197.08L477.90,196.87L478.13,196.66L478.37,196.45L478.61,196.27L478.85,196.12L479.09,196.01L479.32,195.94L479.56,195.91L479.80,195.90L480.04,195.91L480.28,195.94L480.51,196.01L480.75,196.12L480.99,196.27L481.23,196.45L481.47,196.66L481.70,196.87L481.94,197.08L482.18,197.28L482.42,197.44L482.66,197.58L482.89,197.69L483.13,197.77L483.37,197.82L483.61,197.85L483.61,197.90Z" fill="#ec2d8c"/>
<path d="M503.28,197.90L503.28,197.88L503.45,197.87L503.62,197.85L503.79,197.82L503.96,197.77L504.13,197.72L504.30,197.65L504.47,197.57L504.64,197.49L504.81,197.40L504.98,197.32L505.15,197.25L505.32,197.19L505.49,197.14L505.66,197.12L505.83,197.10L506.00,197.10L506.17,197.10L506.34,197.12L506.51,197.14L506.68,197.19L506.85,197.25L507.02,197.32L507.19,197.40L507.36,197.49L507.53,197.57L507.70,197.65L507.87,197.72L508.04,197.77L508.21,197.82L508.38,197.85L508.55,197.87L508.72,197.88L508.72,197.90Z" fill="#ec2d8c"/>
<path d="M277.12,211.30L277.12,211.19L277.38,211.11L277.63,210.98L277.88,210.80L278.14,210.55L278.39,210.23L278.65,209.83L278.91,209.38L279.16,208.89L279.42,208.38L279.67,207.90L279.93,207.47L280.18,207.12L280.44,206.86L280.69,206.70L280.94,206.62L281.20,206.60L281.45,206.62L281.71,206.70L281.96,206.86L282.22,207.12L282.47,207.47L282.73,207.90L282.99,208.38L283.24,208.89L283.50,209.38L283.75,209.83L284.00,210.23L284.26,210.55L284.51,210.80L284.77,210.98L285.02,211.11L285.28,211.19L285.28,211.30Z" fill="#ec2d8c"/>
<path d="M289.44,211.30L289.44,211.13L289.62,211.01L289.80,210.82L289.98,210.54L290.16,210.15L290.34,209.66L290.52,209.05L290.69,208.36L290.87,207.60L291.05,206.83L291.23,206.10L291.41,205.44L291.59,204.90L291.76,204.50L291.94,204.25L292.12,204.13L292.30,204.10L292.63,204.13L292.96,204.25L293.29,204.50L293.63,204.90L293.96,205.44L294.29,206.10L294.62,206.83L294.95,207.60L295.28,208.36L295.62,209.05L295.95,209.66L296.28,210.15L296.61,210.54L296.94,210.82L297.27,211.01L297.60,211.13L297.60,211.30Z" fill="#ec2d8c"/>
<path d="M272.40,211.30L272.40,211.29L273.25,211.28L274.10,211.27L274.95,211.25L275.80,211.22L276.65,211.19L277.50,211.14L278.35,211.10L279.20,211.04L280.05,210.99L280.90,210.94L281.75,210.89L282.60,210.86L283.45,210.83L284.30,210.81L285.15,210.80L286.00,210.80L286.85,210.80L287.70,210.81L288.55,210.83L289.40,210.86L290.25,210.89L291.10,210.94L291.95,210.99L292.80,211.04L293.65,211.10L294.50,211.14L295.35,211.19L296.20,211.22L297.05,211.25L297.90,211.27L298.75,211.28L299.60,211.29L299.60,211.30Z" fill="#ec2d8c"/>
<path d="M207.92,211.30L207.92,211.28L208.17,211.26L208.43,211.23L208.68,211.19L208.94,211.14L209.19,211.07L209.45,210.99L209.70,210.89L209.96,210.79L210.21,210.68L210.47,210.58L210.72,210.49L210.98,210.41L211.23,210.36L211.49,210.32L211.74,210.30L212.00,210.30L212.25,210.30L212.51,210.32L212.76,210.36L213.02,210.41L213.28,210.49L213.53,210.58L213.78,210.68L214.04,210.79L214.29,210.89L214.55,210.99L214.81,211.07L215.06,211.14L215.31,211.19L215.57,211.23L215.82,211.26L216.08,211.28L216.08,211.30Z" fill="#ec2d8c"/>
<path d="M234.72,211.30L234.72,211.28L234.97,211.26L235.23,211.23L235.48,211.19L235.74,211.14L236.00,211.07L236.25,210.99L236.50,210.89L236.76,210.79L237.01,210.68L237.27,210.58L237.53,210.49L237.78,210.41L238.03,210.36L238.29,210.32L238.54,210.30L238.80,210.30L239.06,210.30L239.31,210.32L239.56,210.36L239.82,210.41L240.08,210.49L240.33,210.58L240.59,210.68L240.84,210.79L241.09,210.89L241.35,210.99L241.61,211.07L241.86,211.14L242.12,211.19L242.37,211.23L242.62,211.26L242.88,211.28L242.88,211.30Z" fill="#ec2d8c"/>
<path d="M113.82,211.30L113.82,211.28L113.96,211.27L114.10,211.25L114.23,211.23L114.37,211.19L114.50,211.14L114.64,211.08L114.78,211.01L114.91,210.94L115.05,210.87L115.18,210.79L115.32,210.73L115.46,210.68L115.59,210.64L115.73,210.61L115.86,210.60L116.00,210.60L116.14,210.60L116.27,210.61L116.41,210.64L116.54,210.68L116.68,210.73L116.82,210.79L116.95,210.87L117.09,210.94L117.22,211.01L117.36,211.08L117.50,211.14L117.63,211.19L117.77,211.23L117.90,211.25L118.04,211.27L118.18,211.28L118.18,211.30Z" fill="#ec2d8c"/>
<path d="M123.82,211.30L123.82,211.28L123.96,211.27L124.10,211.25L124.23,211.23L124.37,211.19L124.50,211.14L124.64,211.08L124.78,211.01L124.91,210.94L125.05,210.87L125.18,210.79L125.32,210.73L125.46,210.68L125.59,210.64L125.73,210.61L125.86,210.60L126.00,210.60L126.14,210.60L126.27,210.61L126.41,210.64L126.54,210.68L126.68,210.73L126.82,210.79L126.95,210.87L127.09,210.94L127.22,211.01L127.36,211.08L127.50,211.14L127.63,211.19L127.77,211.23L127.90,211.25L128.04,211.27L128.18,211.28L128.18,211.30Z" fill="#ec2d8c"/>
<path d="M370.82,211.30L370.82,211.23L371.07,211.17L371.33,211.08L371.58,210.96L371.84,210.79L372.09,210.57L372.35,210.30L372.61,209.99L372.86,209.66L373.12,209.31L373.37,208.99L373.62,208.69L373.88,208.46L374.13,208.28L374.39,208.17L374.64,208.11L374.90,208.10L375.15,208.11L375.41,208.17L375.66,208.28L375.92,208.46L376.17,208.69L376.43,208.99L376.69,209.31L376.94,209.66L377.19,209.99L377.45,210.30L377.70,210.57L377.96,210.79L378.21,210.96L378.47,211.08L378.72,211.17L378.98,211.23L378.98,211.30Z" fill="#ec2d8c"/>
<path d="M376.10,211.30L376.10,211.28L376.41,211.26L376.72,211.23L377.02,211.19L377.33,211.14L377.63,211.07L377.94,210.99L378.25,210.89L378.55,210.79L378.86,210.68L379.16,210.58L379.47,210.49L379.78,210.41L380.08,210.36L380.39,210.32L380.69,210.30L381.00,210.30L381.31,210.30L381.61,210.32L381.92,210.36L382.22,210.41L382.53,210.49L382.84,210.58L383.14,210.68L383.45,210.79L383.75,210.89L384.06,210.99L384.37,211.07L384.67,211.14L384.98,211.19L385.28,211.23L385.59,211.26L385.90,211.28L385.90,211.30Z" fill="#ec2d8c"/>
<path d="M384.83,211.30L384.83,211.14L385.06,211.02L385.29,210.84L385.52,210.57L385.75,210.20L385.98,209.72L386.20,209.14L386.43,208.48L386.66,207.76L386.89,207.02L387.12,206.31L387.35,205.68L387.58,205.17L387.81,204.78L388.04,204.54L388.27,204.43L388.50,204.40L388.73,204.43L388.96,204.54L389.19,204.78L389.42,205.17L389.65,205.68L389.88,206.31L390.11,207.02L390.34,207.76L390.57,208.48L390.80,209.14L391.02,209.72L391.25,210.20L391.48,210.57L391.71,210.84L391.94,211.02L392.17,211.14L392.17,211.30Z" fill="#ec2d8c"/>
<path d="M401.65,211.30L401.65,211.23L401.92,211.18L402.19,211.10L402.46,210.98L402.74,210.82L403.01,210.61L403.28,210.36L403.55,210.07L403.82,209.76L404.10,209.44L404.37,209.13L404.64,208.86L404.91,208.63L405.18,208.47L405.46,208.36L405.73,208.31L406.00,208.30L406.27,208.31L406.54,208.36L406.82,208.47L407.09,208.63L407.36,208.86L407.63,209.13L407.90,209.44L408.18,209.76L408.45,210.07L408.72,210.36L408.99,210.61L409.26,210.82L409.54,210.98L409.81,211.10L410.08,211.18L410.35,211.23L410.35,211.30Z" fill="#ec2d8c"/>
<path d="M412.52,211.30L412.52,211.23L412.78,211.18L413.03,211.10L413.29,210.98L413.54,210.82L413.80,210.61L414.05,210.36L414.31,210.07L414.56,209.76L414.82,209.44L415.07,209.13L415.33,208.86L415.58,208.63L415.84,208.47L416.09,208.36L416.35,208.31L416.60,208.30L416.86,208.31L417.11,208.36L417.37,208.47L417.62,208.63L417.88,208.86L418.13,209.13L418.39,209.44L418.64,209.76L418.90,210.07L419.15,210.36L419.41,210.61L419.66,210.82L419.92,210.98L420.17,211.10L420.43,211.18L420.68,211.23L420.68,211.30Z" fill="#ec2d8c"/>
<path d="M415.42,211.30L415.42,211.27L415.68,211.24L415.93,211.20L416.19,211.14L416.44,211.06L416.69,210.96L416.95,210.83L417.21,210.69L417.46,210.53L417.72,210.37L417.97,210.22L418.23,210.08L418.48,209.97L418.74,209.88L418.99,209.83L419.25,209.81L419.50,209.80L419.75,209.81L420.01,209.83L420.26,209.88L420.52,209.97L420.77,210.08L421.03,210.22L421.29,210.37L421.54,210.53L421.80,210.69L422.05,210.83L422.31,210.96L422.56,211.06L422.81,211.14L423.07,211.20L423.32,211.24L423.58,211.27L423.58,211.30Z" fill="#ec2d8c"/>
<path d="M441.28,211.30L441.28,211.28L441.45,211.27L441.62,211.25L441.79,211.22L441.96,211.17L442.13,211.12L442.30,211.05L442.47,210.97L442.64,210.89L442.81,210.80L442.98,210.72L443.15,210.65L443.32,210.59L443.49,210.54L443.66,210.52L443.83,210.50L444.00,210.50L444.17,210.50L444.34,210.52L444.51,210.54L444.68,210.59L444.85,210.65L445.02,210.72L445.19,210.80L445.36,210.89L445.53,210.97L445.70,211.05L445.87,211.12L446.04,211.17L446.21,211.22L446.38,211.25L446.55,211.27L446.72,211.28L446.72,211.30Z" fill="#ec2d8c"/>
<path d="M475.92,211.30L475.92,211.27L476.18,211.25L476.43,211.22L476.69,211.17L476.94,211.11L477.19,211.03L477.45,210.93L477.71,210.81L477.96,210.68L478.22,210.56L478.47,210.43L478.73,210.32L478.98,210.23L479.24,210.17L479.49,210.12L479.75,210.10L480.00,210.10L480.25,210.10L480.51,210.12L480.76,210.17L481.02,210.23L481.27,210.32L481.53,210.43L481.79,210.56L482.04,210.68L482.30,210.81L482.55,210.93L482.81,211.03L483.06,211.11L483.31,211.17L483.57,211.22L483.82,211.25L484.08,211.27L484.08,211.30Z" fill="#ec2d8c"/>
<path d="M295.42,211.30L295.42,211.29L295.68,211.28L295.93,211.26L296.19,211.24L296.44,211.20L296.69,211.16L296.95,211.11L297.21,211.05L297.46,210.99L297.72,210.93L297.97,210.87L298.23,210.81L298.48,210.77L298.74,210.73L298.99,210.71L299.25,210.70L299.50,210.70L299.75,210.70L300.01,210.71L300.26,210.73L300.52,210.77L300.77,210.81L301.03,210.87L301.29,210.93L301.54,210.99L301.80,211.05L302.05,211.11L302.31,211.16L302.56,211.20L302.81,211.24L303.07,211.26L303.32,211.28L303.58,211.29L303.58,211.30Z" fill="#ec2d8c"/>
<path d="M300.28,211.30L300.28,211.29L300.45,211.28L300.62,211.26L300.79,211.24L300.96,211.20L301.13,211.16L301.30,211.11L301.47,211.05L301.64,210.99L301.81,210.93L301.98,210.87L302.15,210.81L302.32,210.77L302.49,210.73L302.66,210.71L302.83,210.70L303.00,210.70L303.17,210.70L303.34,210.71L303.51,210.73L303.68,210.77L303.85,210.81L304.02,210.87L304.19,210.93L304.36,210.99L304.53,211.05L304.70,211.11L304.87,211.16L305.04,211.20L305.21,211.24L305.38,211.26L305.55,211.28L305.72,211.29L305.72,211.30Z" fill="#ec2d8c"/>
<path d="M314.28,211.30L314.28,211.28L314.45,211.27L314.62,211.25L314.79,211.22L314.96,211.17L315.13,211.12L315.30,211.05L315.47,210.97L315.64,210.89L315.81,210.80L315.98,210.72L316.15,210.65L316.32,210.59L316.49,210.54L316.66,210.52L316.83,210.50L317.00,210.50L317.17,210.50L317.34,210.52L317.51,210.54L317.68,210.59L317.85,210.65L318.02,210.72L318.19,210.80L318.36,210.89L318.53,210.97L318.70,211.05L318.87,211.12L319.04,211.17L319.21,211.22L319.38,211.25L319.55,211.27L319.72,211.28L319.72,211.30Z" fill="#ec2d8c"/>
<path d="M276.92,224.60L276.92,224.41L277.18,224.26L277.43,224.04L277.69,223.72L277.94,223.28L278.19,222.70L278.45,222.01L278.71,221.21L278.96,220.34L279.22,219.45L279.47,218.60L279.73,217.84L279.98,217.22L280.24,216.76L280.49,216.47L280.75,216.33L281.00,216.30L281.25,216.33L281.51,216.47L281.76,216.76L282.02,217.22L282.27,217.84L282.53,218.60L282.79,219.45L283.04,220.34L283.30,221.21L283.55,222.01L283.81,222.70L284.06,223.28L284.31,223.72L284.57,224.04L284.82,224.26L285.08,224.41L285.08,224.60Z" fill="#ec2d8c"/>
<path d="M289.34,224.60L289.34,224.37L289.52,224.20L289.70,223.94L289.88,223.56L290.06,223.04L290.24,222.36L290.42,221.54L290.59,220.59L290.77,219.57L290.95,218.52L291.13,217.52L291.31,216.62L291.49,215.89L291.66,215.35L291.84,215.00L292.02,214.84L292.20,214.80L292.53,214.84L292.86,215.00L293.19,215.35L293.53,215.89L293.86,216.62L294.19,217.52L294.52,218.52L294.85,219.57L295.18,220.59L295.51,221.54L295.85,222.36L296.18,223.04L296.51,223.56L296.84,223.94L297.17,224.20L297.50,224.37L297.50,224.60Z" fill="#ec2d8c"/>
<path d="M272.40,224.60L272.40,224.59L273.25,224.58L274.10,224.57L274.95,224.55L275.80,224.52L276.65,224.49L277.50,224.44L278.35,224.40L279.20,224.34L280.05,224.29L280.90,224.24L281.75,224.19L282.60,224.16L283.45,224.13L284.30,224.11L285.15,224.10L286.00,224.10L286.85,224.10L287.70,224.11L288.55,224.13L289.40,224.16L290.25,224.19L291.10,224.24L291.95,224.29L292.80,224.34L293.65,224.40L294.50,224.44L295.35,224.49L296.20,224.52L297.05,224.55L297.90,224.57L298.75,224.58L299.60,224.59L299.60,224.60Z" fill="#ec2d8c"/>
<path d="M207.92,224.60L207.92,224.57L208.17,224.55L208.43,224.52L208.68,224.47L208.94,224.41L209.19,224.33L209.45,224.23L209.70,224.11L209.96,223.98L210.21,223.86L210.47,223.73L210.72,223.62L210.98,223.53L211.23,223.47L211.49,223.42L211.74,223.40L212.00,223.40L212.25,223.40L212.51,223.42L212.76,223.47L213.02,223.53L213.28,223.62L213.53,223.73L213.78,223.86L214.04,223.98L214.29,224.11L214.55,224.23L214.81,224.33L215.06,224.41L215.31,224.47L215.57,224.52L215.82,224.55L216.08,224.57L216.08,224.60Z" fill="#ec2d8c"/>
<path d="M234.72,224.60L234.72,224.58L234.97,224.56L235.23,224.53L235.48,224.49L235.74,224.44L236.00,224.37L236.25,224.29L236.50,224.19L236.76,224.09L237.01,223.98L237.27,223.88L237.53,223.79L237.78,223.71L238.03,223.66L238.29,223.62L238.54,223.60L238.80,223.60L239.06,223.60L239.31,223.62L239.56,223.66L239.82,223.71L240.08,223.79L240.33,223.88L240.59,223.98L240.84,224.09L241.09,224.19L241.35,224.29L241.61,224.37L241.86,224.44L242.12,224.49L242.37,224.53L242.62,224.56L242.88,224.58L242.88,224.60Z" fill="#ec2d8c"/>
<path d="M371.26,224.60L371.26,224.49L371.49,224.41L371.71,224.29L371.93,224.11L372.15,223.87L372.37,223.55L372.59,223.16L372.81,222.72L373.03,222.24L373.25,221.75L373.47,221.27L373.69,220.86L373.92,220.51L374.14,220.26L374.36,220.09L374.58,220.02L374.80,220.00L375.02,220.02L375.24,220.09L375.46,220.26L375.68,220.51L375.91,220.86L376.13,221.27L376.35,221.75L376.57,222.24L376.79,222.72L377.01,223.16L377.23,223.55L377.45,223.87L377.67,224.11L377.89,224.29L378.12,224.41L378.34,224.49L378.34,224.60Z" fill="#ec2d8c"/>
<path d="M376.84,224.60L376.84,224.58L377.04,224.56L377.24,224.53L377.45,224.49L377.65,224.44L377.86,224.37L378.06,224.29L378.26,224.19L378.47,224.09L378.67,223.98L378.88,223.88L379.08,223.79L379.28,223.71L379.49,223.66L379.69,223.62L379.90,223.60L380.10,223.60L380.30,223.60L380.51,223.62L380.71,223.66L380.92,223.71L381.12,223.79L381.32,223.88L381.53,223.98L381.73,224.09L381.94,224.19L382.14,224.29L382.34,224.37L382.55,224.44L382.75,224.49L382.96,224.53L383.16,224.56L383.36,224.58L383.36,224.60Z" fill="#ec2d8c"/>
<path d="M384.83,224.60L384.83,224.37L385.06,224.19L385.29,223.92L385.52,223.53L385.75,222.99L385.98,222.29L386.20,221.45L386.43,220.47L386.66,219.41L386.89,218.33L387.12,217.30L387.35,216.38L387.58,215.62L387.81,215.06L388.04,214.71L388.27,214.54L388.50,214.50L388.73,214.54L388.96,214.71L389.19,215.06L389.42,215.62L389.65,216.38L389.88,217.30L390.11,218.33L390.34,219.41L390.57,220.47L390.80,221.45L391.02,222.29L391.25,222.99L391.48,223.53L391.71,223.92L391.94,224.19L392.17,224.37L392.17,224.60Z" fill="#ec2d8c"/>
<path d="M402.19,224.60L402.19,224.48L402.43,224.40L402.67,224.26L402.91,224.07L403.14,223.80L403.38,223.46L403.62,223.04L403.86,222.56L404.10,222.03L404.33,221.50L404.57,220.99L404.81,220.53L405.05,220.16L405.29,219.88L405.52,219.70L405.76,219.62L406.00,219.60L406.24,219.62L406.48,219.70L406.71,219.88L406.95,220.16L407.19,220.53L407.43,220.99L407.67,221.50L407.90,222.03L408.14,222.56L408.38,223.04L408.62,223.46L408.86,223.80L409.09,224.07L409.33,224.26L409.57,224.40L409.81,224.48L409.81,224.60Z" fill="#ec2d8c"/>
<path d="M412.86,224.60L412.86,224.48L413.08,224.40L413.31,224.26L413.53,224.07L413.75,223.80L413.97,223.46L414.19,223.04L414.41,222.56L414.63,222.03L414.85,221.50L415.07,220.99L415.29,220.53L415.52,220.16L415.74,219.88L415.96,219.70L416.18,219.62L416.40,219.60L416.62,219.62L416.84,219.70L417.06,219.88L417.28,220.16L417.50,220.53L417.73,220.99L417.95,221.50L418.17,222.03L418.39,222.56L418.61,223.04L418.83,223.46L419.05,223.80L419.27,224.07L419.49,224.26L419.71,224.40L419.94,224.48L419.94,224.60Z" fill="#ec2d8c"/>
<path d="M416.94,224.60L416.94,224.54L417.14,224.50L417.34,224.43L417.55,224.33L417.75,224.20L417.96,224.03L418.16,223.82L418.36,223.58L418.57,223.32L418.77,223.05L418.98,222.79L419.18,222.56L419.38,222.38L419.59,222.24L419.79,222.15L420.00,222.11L420.20,222.10L420.40,222.11L420.61,222.15L420.81,222.24L421.02,222.38L421.22,222.56L421.42,222.79L421.63,223.05L421.83,223.32L422.04,223.58L422.24,223.82L422.44,224.03L422.65,224.20L422.85,224.33L423.06,224.43L423.26,224.50L423.46,224.54L423.46,224.60Z" fill="#ec2d8c"/>
<path d="M475.92,224.60L475.92,224.57L476.18,224.54L476.43,224.50L476.69,224.44L476.94,224.36L477.19,224.26L477.45,224.13L477.71,223.99L477.96,223.83L478.22,223.67L478.47,223.52L478.73,223.38L478.98,223.27L479.24,223.18L479.49,223.13L479.75,223.11L480.00,223.10L480.25,223.11L480.51,223.13L480.76,223.18L481.02,223.27L481.27,223.38L481.53,223.52L481.79,223.67L482.04,223.83L482.30,223.99L482.55,224.13L482.81,224.26L483.06,224.36L483.31,224.44L483.57,224.50L483.82,224.54L484.08,224.57L484.08,224.60Z" fill="#ec2d8c"/>
<path d="M441.28,224.60L441.28,224.58L441.45,224.57L441.62,224.55L441.79,224.52L441.96,224.47L442.13,224.42L442.30,224.35L442.47,224.27L442.64,224.19L442.81,224.10L442.98,224.02L443.15,223.95L443.32,223.89L443.49,223.84L443.66,223.82L443.83,223.80L444.00,223.80L444.17,223.80L444.34,223.82L444.51,223.84L444.68,223.89L444.85,223.95L445.02,224.02L445.19,224.10L445.36,224.19L445.53,224.27L445.70,224.35L445.87,224.42L446.04,224.47L446.21,224.52L446.38,224.55L446.55,224.57L446.72,224.58L446.72,224.60Z" fill="#ec2d8c"/>
<path d="M125.28,224.60L125.28,224.58L125.45,224.57L125.62,224.55L125.79,224.53L125.96,224.49L126.13,224.44L126.30,224.38L126.47,224.31L126.64,224.24L126.81,224.17L126.98,224.09L127.15,224.03L127.32,223.98L127.49,223.94L127.66,223.91L127.83,223.90L128.00,223.90L128.17,223.90L128.34,223.91L128.51,223.94L128.68,223.98L128.85,224.03L129.02,224.09L129.19,224.17L129.36,224.24L129.53,224.31L129.70,224.38L129.87,224.44L130.04,224.49L130.21,224.53L130.38,224.55L130.55,224.57L130.72,224.58L130.72,224.60Z" fill="#ec2d8c"/>
<path d="M132.28,224.60L132.28,224.58L132.45,224.57L132.62,224.55L132.79,224.53L132.96,224.49L133.13,224.44L133.30,224.38L133.47,224.31L133.64,224.24L133.81,224.17L133.98,224.09L134.15,224.03L134.32,223.98L134.49,223.94L134.66,223.91L134.83,223.90L135.00,223.90L135.17,223.90L135.34,223.91L135.51,223.94L135.68,223.98L135.85,224.03L136.02,224.09L136.19,224.17L136.36,224.24L136.53,224.31L136.70,224.38L136.87,224.44L137.04,224.49L137.21,224.53L137.38,224.55L137.55,224.57L137.72,224.58L137.72,224.60Z" fill="#ec2d8c"/>
<path d="M295.42,224.60L295.42,224.58L295.68,224.57L295.93,224.55L296.19,224.53L296.44,224.49L296.69,224.44L296.95,224.38L297.21,224.31L297.46,224.24L297.72,224.17L297.97,224.09L298.23,224.03L298.48,223.98L298.74,223.94L298.99,223.91L299.25,223.90L299.50,223.90L299.75,223.90L300.01,223.91L300.26,223.94L300.52,223.98L300.77,224.03L301.03,224.09L301.29,224.17L301.54,224.24L301.80,224.31L302.05,224.38L302.31,224.44L302.56,224.49L302.81,224.53L303.07,224.55L303.32,224.57L303.58,224.58L303.58,224.60Z" fill="#ec2d8c"/>
<path d="M303.92,224.60L303.92,224.59L304.18,224.58L304.43,224.56L304.69,224.54L304.94,224.50L305.19,224.46L305.45,224.41L305.71,224.35L305.96,224.29L306.22,224.23L306.47,224.17L306.73,224.11L306.98,224.07L307.24,224.03L307.49,224.01L307.75,224.00L308.00,224.00L308.25,224.00L308.51,224.01L308.76,224.03L309.02,224.07L309.27,224.11L309.53,224.17L309.79,224.23L310.04,224.29L310.30,224.35L310.55,224.41L310.81,224.46L311.06,224.50L311.31,224.54L311.57,224.56L311.82,224.58L312.08,224.59L312.08,224.60Z" fill="#ec2d8c"/>
<path d="M310.28,224.60L310.28,224.59L310.45,224.58L310.62,224.56L310.79,224.54L310.96,224.50L311.13,224.46L311.30,224.41L311.47,224.35L311.64,224.29L311.81,224.23L311.98,224.17L312.15,224.11L312.32,224.07L312.49,224.03L312.66,224.01L312.83,224.00L313.00,224.00L313.17,224.00L313.34,224.01L313.51,224.03L313.68,224.07L313.85,224.11L314.02,224.17L314.19,224.23L314.36,224.29L314.53,224.35L314.70,224.41L314.87,224.46L315.04,224.50L315.21,224.54L315.38,224.56L315.55,224.58L315.72,224.59L315.72,224.60Z" fill="#ec2d8c"/>
<path d="M324.28,224.60L324.28,224.58L324.45,224.57L324.62,224.55L324.79,224.52L324.96,224.47L325.13,224.42L325.30,224.35L325.47,224.27L325.64,224.19L325.81,224.10L325.98,224.02L326.15,223.95L326.32,223.89L326.49,223.84L326.66,223.82L326.83,223.80L327.00,223.80L327.17,223.80L327.34,223.82L327.51,223.84L327.68,223.89L327.85,223.95L328.02,224.02L328.19,224.10L328.36,224.19L328.53,224.27L328.70,224.35L328.87,224.42L329.04,224.47L329.21,224.52L329.38,224.55L329.55,224.57L329.72,224.58L329.72,224.60Z" fill="#ec2d8c"/>
<path d="M276.58,237.60L276.58,237.57L276.86,237.55L277.15,237.51L277.44,237.46L277.73,237.39L278.02,237.30L278.31,237.19L278.60,237.07L278.89,236.93L279.18,236.79L279.47,236.66L279.75,236.54L280.04,236.44L280.33,236.37L280.62,236.33L280.91,236.30L281.20,236.30L281.49,236.30L281.78,236.33L282.07,236.37L282.36,236.44L282.64,236.54L282.93,236.66L283.22,236.79L283.51,236.93L283.80,237.07L284.09,237.19L284.38,237.30L284.67,237.39L284.96,237.46L285.25,237.51L285.53,237.55L285.82,237.57L285.82,237.60Z" fill="#ec2d8c"/>
<path d="M289.96,237.60L289.96,237.49L290.19,237.41L290.41,237.28L290.63,237.09L290.85,236.83L291.07,236.50L291.29,236.10L291.51,235.64L291.73,235.13L291.95,234.62L292.17,234.13L292.39,233.69L292.62,233.33L292.84,233.07L293.06,232.90L293.28,232.82L293.50,232.80L293.72,232.82L293.94,232.90L294.16,233.07L294.38,233.33L294.61,233.69L294.83,234.13L295.05,234.62L295.27,235.13L295.49,235.64L295.71,236.10L295.93,236.50L296.15,236.83L296.37,237.09L296.59,237.28L296.81,237.41L297.04,237.49L297.04,237.60Z" fill="#ec2d8c"/>
<path d="M110.78,237.60L110.78,237.58L110.95,237.56L111.12,237.53L111.29,237.49L111.46,237.44L111.63,237.37L111.80,237.29L111.97,237.19L112.14,237.09L112.31,236.98L112.48,236.88L112.65,236.79L112.82,236.71L112.99,236.66L113.16,236.62L113.33,236.60L113.50,236.60L113.67,236.60L113.84,236.62L114.01,236.66L114.18,236.71L114.35,236.79L114.52,236.88L114.69,236.98L114.86,237.09L115.03,237.19L115.20,237.29L115.37,237.37L115.54,237.44L115.71,237.49L115.88,237.53L116.05,237.56L116.22,237.58L116.22,237.60Z" fill="#ec2d8c"/>
<path d="M118.78,237.60L118.78,237.57L118.95,237.54L119.12,237.50L119.29,237.44L119.46,237.36L119.63,237.26L119.80,237.13L119.97,236.99L120.14,236.83L120.31,236.67L120.48,236.52L120.65,236.38L120.82,236.27L120.99,236.18L121.16,236.13L121.33,236.11L121.50,236.10L121.67,236.11L121.84,236.13L122.01,236.18L122.18,236.27L122.35,236.38L122.52,236.52L122.69,236.67L122.86,236.83L123.03,236.99L123.20,237.13L123.37,237.26L123.54,237.36L123.71,237.44L123.88,237.50L124.05,237.54L124.22,237.57L124.22,237.60Z" fill="#ec2d8c"/>
<path d="M126.08,237.60L126.08,237.58L126.25,237.56L126.42,237.53L126.59,237.49L126.76,237.44L126.93,237.37L127.10,237.29L127.27,237.19L127.44,237.09L127.61,236.98L127.78,236.88L127.95,236.79L128.12,236.71L128.29,236.66L128.46,236.62L128.63,236.60L128.80,236.60L128.97,236.60L129.14,236.62L129.31,236.66L129.48,236.71L129.65,236.79L129.82,236.88L129.99,236.98L130.16,237.09L130.33,237.19L130.50,237.29L130.67,237.37L130.84,237.44L131.01,237.49L131.18,237.53L131.35,237.56L131.52,237.58L131.52,237.60Z" fill="#ec2d8c"/>
<path d="M134.28,237.60L134.28,237.58L134.45,237.56L134.62,237.53L134.79,237.49L134.96,237.44L135.13,237.37L135.30,237.29L135.47,237.19L135.64,237.09L135.81,236.98L135.98,236.88L136.15,236.79L136.32,236.71L136.49,236.66L136.66,236.62L136.83,236.60L137.00,236.60L137.17,236.60L137.34,236.62L137.51,236.66L137.68,236.71L137.85,236.79L138.02,236.88L138.19,236.98L138.36,237.09L138.53,237.19L138.70,237.29L138.87,237.37L139.04,237.44L139.21,237.49L139.38,237.53L139.55,237.56L139.72,237.58L139.72,237.60Z" fill="#ec2d8c"/>
<path d="M207.92,237.60L207.92,237.57L208.17,237.54L208.43,237.50L208.68,237.44L208.94,237.36L209.19,237.26L209.45,237.13L209.70,236.99L209.96,236.83L210.21,236.67L210.47,236.52L210.72,236.38L210.98,236.27L211.23,236.18L211.49,236.13L211.74,236.11L212.00,236.10L212.25,236.11L212.51,236.13L212.76,236.18L213.02,236.27L213.28,236.38L213.53,236.52L213.78,236.67L214.04,236.83L214.29,236.99L214.55,237.13L214.81,237.26L215.06,237.36L215.31,237.44L215.57,237.50L215.82,237.54L216.08,237.57L216.08,237.60Z" fill="#ec2d8c"/>
<path d="M234.72,237.60L234.72,237.57L234.97,237.54L235.23,237.50L235.48,237.44L235.74,237.36L236.00,237.26L236.25,237.13L236.50,236.99L236.76,236.83L237.01,236.67L237.27,236.52L237.53,236.38L237.78,236.27L238.03,236.18L238.29,236.13L238.54,236.11L238.80,236.10L239.06,236.11L239.31,236.13L239.56,236.18L239.82,236.27L240.08,236.38L240.33,236.52L240.59,236.67L240.84,236.83L241.09,236.99L241.35,237.13L241.61,237.26L241.86,237.36L242.12,237.44L242.37,237.50L242.62,237.54L242.88,237.57L242.88,237.60Z" fill="#ec2d8c"/>
<path d="M371.06,237.60L371.06,237.51L371.29,237.44L371.51,237.33L371.73,237.18L371.95,236.96L372.17,236.69L372.39,236.35L372.61,235.96L372.83,235.55L373.05,235.12L373.27,234.71L373.50,234.34L373.72,234.04L373.94,233.82L374.16,233.68L374.38,233.61L374.60,233.60L374.82,233.61L375.04,233.68L375.26,233.82L375.48,234.04L375.71,234.34L375.93,234.71L376.15,235.12L376.37,235.55L376.59,235.96L376.81,236.35L377.03,236.69L377.25,236.96L377.47,237.18L377.69,237.33L377.92,237.44L378.14,237.51L378.14,237.60Z" fill="#ec2d8c"/>
<path d="M377.46,237.60L377.46,237.54L377.69,237.50L377.91,237.43L378.13,237.33L378.35,237.20L378.57,237.03L378.79,236.82L379.01,236.58L379.23,236.32L379.45,236.05L379.67,235.79L379.89,235.56L380.12,235.38L380.34,235.24L380.56,235.15L380.78,235.11L381.00,235.10L381.22,235.11L381.44,235.15L381.66,235.24L381.88,235.38L382.11,235.56L382.33,235.79L382.55,236.05L382.77,236.32L382.99,236.58L383.21,236.82L383.43,237.03L383.65,237.20L383.87,237.33L384.09,237.43L384.31,237.50L384.54,237.54L384.54,237.60Z" fill="#ec2d8c"/>
<path d="M385.46,237.60L385.46,237.47L385.69,237.38L385.91,237.23L386.13,237.02L386.35,236.72L386.57,236.34L386.79,235.88L387.01,235.35L387.23,234.77L387.45,234.19L387.67,233.62L387.89,233.12L388.12,232.71L388.34,232.41L388.56,232.21L388.78,232.12L389.00,232.10L389.22,232.12L389.44,232.21L389.66,232.41L389.88,232.71L390.11,233.12L390.33,233.62L390.55,234.19L390.77,234.77L390.99,235.35L391.21,235.88L391.43,236.34L391.65,236.72L391.87,237.02L392.09,237.23L392.31,237.38L392.54,237.47L392.54,237.60Z" fill="#ec2d8c"/>
<path d="M409.56,237.60L409.56,237.58L409.90,237.56L410.24,237.53L410.58,237.49L410.92,237.44L411.26,237.37L411.60,237.29L411.94,237.19L412.28,237.09L412.62,236.98L412.96,236.88L413.30,236.79L413.64,236.71L413.98,236.66L414.32,236.62L414.66,236.60L415.00,236.60L415.34,236.60L415.68,236.62L416.02,236.66L416.36,236.71L416.70,236.79L417.04,236.88L417.38,236.98L417.72,237.09L418.06,237.19L418.40,237.29L418.74,237.37L419.08,237.44L419.42,237.49L419.76,237.53L420.10,237.56L420.44,237.58L420.44,237.60Z" fill="#ec2d8c"/>
<path d="M414.56,237.60L414.56,237.58L414.90,237.56L415.24,237.53L415.58,237.49L415.92,237.44L416.26,237.37L416.60,237.29L416.94,237.19L417.28,237.09L417.62,236.98L417.96,236.88L418.30,236.79L418.64,236.71L418.98,236.66L419.32,236.62L419.66,236.60L420.00,236.60L420.34,236.60L420.68,236.62L421.02,236.66L421.36,236.71L421.70,236.79L422.04,236.88L422.38,236.98L422.72,237.09L423.06,237.19L423.40,237.29L423.74,237.37L424.08,237.44L424.42,237.49L424.76,237.53L425.10,237.56L425.44,237.58L425.44,237.60Z" fill="#ec2d8c"/>
<path d="M478.28,237.60L478.28,237.58L478.45,237.56L478.62,237.53L478.79,237.49L478.96,237.44L479.13,237.37L479.30,237.29L479.47,237.19L479.64,237.09L479.81,236.98L479.98,236.88L480.15,236.79L480.32,236.71L480.49,236.66L480.66,236.62L480.83,236.60L481.00,236.60L481.17,236.60L481.34,236.62L481.51,236.66L481.68,236.71L481.85,236.79L482.02,236.88L482.19,236.98L482.36,237.09L482.53,237.19L482.70,237.29L482.87,237.37L483.04,237.44L483.21,237.49L483.38,237.53L483.55,237.56L483.72,237.58L483.72,237.60Z" fill="#ec2d8c"/>
<path d="M482.42,237.60L482.42,237.58L482.56,237.57L482.70,237.55L482.83,237.52L482.97,237.47L483.10,237.42L483.24,237.35L483.38,237.27L483.51,237.19L483.65,237.10L483.78,237.02L483.92,236.95L484.06,236.89L484.19,236.84L484.33,236.82L484.46,236.80L484.60,236.80L484.74,236.80L484.87,236.82L485.01,236.84L485.14,236.89L485.28,236.95L485.42,237.02L485.55,237.10L485.69,237.19L485.82,237.27L485.96,237.35L486.10,237.42L486.23,237.47L486.37,237.52L486.50,237.55L486.64,237.57L486.78,237.58L486.78,237.60Z" fill="#ec2d8c"/>
<path d="M261.28,237.60L261.28,237.58L261.45,237.57L261.62,237.55L261.79,237.53L261.96,237.49L262.13,237.44L262.30,237.38L262.47,237.31L262.64,237.24L262.81,237.17L262.98,237.09L263.15,237.03L263.32,236.98L263.49,236.94L263.66,236.91L263.83,236.90L264.00,236.90L264.17,236.90L264.34,236.91L264.51,236.94L264.68,236.98L264.85,237.03L265.02,237.09L265.19,237.17L265.36,237.24L265.53,237.31L265.70,237.38L265.87,237.44L266.04,237.49L266.21,237.53L266.38,237.55L266.55,237.57L266.72,237.58L266.72,237.60Z" fill="#ec2d8c"/>
<path d="M337.28,237.60L337.28,237.58L337.45,237.57L337.62,237.55L337.79,237.53L337.96,237.49L338.13,237.44L338.30,237.38L338.47,237.31L338.64,237.24L338.81,237.17L338.98,237.09L339.15,237.03L339.32,236.98L339.49,236.94L339.66,236.91L339.83,236.90L340.00,236.90L340.17,236.90L340.34,236.91L340.51,236.94L340.68,236.98L340.85,237.03L341.02,237.09L341.19,237.17L341.36,237.24L341.53,237.31L341.70,237.38L341.87,237.44L342.04,237.49L342.21,237.53L342.38,237.55L342.55,237.57L342.72,237.58L342.72,237.60Z" fill="#ec2d8c"/>
<path d="M482.28,237.60L482.28,237.59L482.45,237.58L482.62,237.56L482.79,237.54L482.96,237.50L483.13,237.46L483.30,237.41L483.47,237.35L483.64,237.29L483.81,237.23L483.98,237.17L484.15,237.11L484.32,237.07L484.49,237.03L484.66,237.01L484.83,237.00L485.00,237.00L485.17,237.00L485.34,237.01L485.51,237.03L485.68,237.07L485.85,237.11L486.02,237.17L486.19,237.23L486.36,237.29L486.53,237.35L486.70,237.41L486.87,237.46L487.04,237.50L487.21,237.54L487.38,237.56L487.55,237.58L487.72,237.59L487.72,237.60Z" fill="#ec2d8c"/>
<path d="M501.28,237.60L501.28,237.59L501.45,237.58L501.62,237.56L501.79,237.54L501.96,237.50L502.13,237.46L502.30,237.41L502.47,237.35L502.64,237.29L502.81,237.23L502.98,237.17L503.15,237.11L503.32,237.07L503.49,237.03L503.66,237.01L503.83,237.00L504.00,237.00L504.17,237.00L504.34,237.01L504.51,237.03L504.68,237.07L504.85,237.11L505.02,237.17L505.19,237.23L505.36,237.29L505.53,237.35L505.70,237.41L505.87,237.46L506.04,237.50L506.21,237.54L506.38,237.56L506.55,237.58L506.72,237.59L506.72,237.60Z" fill="#ec2d8c"/>
<rect x="269.2" y="184.9" width="31.1" height="60.5" fill="#c8c0c0" fill-opacity="0.46"/>
<line x1="355.4" y1="241.3" x2="364" y2="241.3" stroke="#8a8a8a" stroke-width="0.9"/>
<rect x="349.6" y="239.10000000000002" width="5.7999999999999545" height="4.4" fill="#111111"/>
<rect x="364" y="239.10000000000002" width="8.199999999999989" height="4.4" fill="#111111"/>
<rect x="347.7" y="240.10000000000002" width="2.000000000000034" height="2.4" fill="#111111"/>
<rect x="372.09999999999997" y="240.10000000000002" width="3.000000000000034" height="2.4" fill="#111111"/>
<path d="M358.7,240.10000000000002L360.7,241.3L358.7,242.5Z" fill="#5555aa"/>
<text x="352" y="252.7" font-size="8.6" text-anchor="start" fill="#231f20" textLength="23.1" lengthAdjust="spacingAndGlyphs">Cebpe</text>
<text x="9.9" y="297.7" font-size="11" text-anchor="start" fill="#231f20" textLength="5.9" lengthAdjust="spacingAndGlyphs" style="stroke-width:0.05px">C</text>
<text x="0" y="0" transform="translate(34.0,371.1) rotate(-90)" font-size="10.2" text-anchor="start" fill="#231f20" textLength="67.5" lengthAdjust="spacingAndGlyphs" style="stroke-width:0.05px">CEBPA CHIP-seq</text>
<text x="110.8" y="278.0" font-size="8.5" text-anchor="start" fill="#231f20" textLength="22.7" lengthAdjust="spacingAndGlyphs">Chr:14</text>
<text x="195.8" y="278.2" font-size="8.5" text-anchor="start" fill="#231f20" textLength="23.5" lengthAdjust="spacingAndGlyphs">54,700</text>
<text x="341.0" y="278.2" font-size="8.5" text-anchor="start" fill="#231f20" textLength="23.6" lengthAdjust="spacingAndGlyphs">54,710</text>
<text x="486.3" y="278.2" font-size="8.5" text-anchor="start" fill="#231f20" textLength="23.5" lengthAdjust="spacingAndGlyphs">54,720</text>
<line x1="116.9" y1="286.8" x2="510.1" y2="286.8" stroke="#231f20" stroke-width="1.3"/>
<line x1="116.9" y1="291.0" x2="510.1" y2="291.0" stroke="#231f20" stroke-width="1.6"/>
<line x1="135" y1="283.4" x2="135" y2="286.5" stroke="#231f20" stroke-width="1.0"/>
<line x1="207.5" y1="283.4" x2="207.5" y2="286.5" stroke="#231f20" stroke-width="1.0"/>
<line x1="280" y1="283.4" x2="280" y2="286.5" stroke="#231f20" stroke-width="1.0"/>
<line x1="352.7" y1="283.4" x2="352.7" y2="286.5" stroke="#231f20" stroke-width="1.0"/>
<line x1="425" y1="283.4" x2="425" y2="286.5" stroke="#231f20" stroke-width="1.0"/>
<line x1="497.3" y1="283.4" x2="497.3" y2="286.5" stroke="#231f20" stroke-width="1.0"/>
<line x1="96.2" y1="297.5" x2="96.2" y2="324.6" stroke="#231f20" stroke-width="1.0"/>
<line x1="96.2" y1="326.0" x2="96.2" y2="377.2" stroke="#231f20" stroke-width="1.0"/>
<text x="93.1" y="306.8" font-size="8.5" text-anchor="end" fill="#231f20" textLength="12.3" lengthAdjust="spacingAndGlyphs">LSK</text>
<line x1="117" y1="307.7" x2="510.5" y2="307.7" stroke="#eeeaec" stroke-width="0.8"/>
<text x="93.5" y="322.2" font-size="8.5" text-anchor="end" fill="#231f20" textLength="17.0" lengthAdjust="spacingAndGlyphs">GMP</text>
<line x1="117" y1="323.6" x2="510.5" y2="323.6" stroke="#eeeaec" stroke-width="0.8"/>
<text x="97.7" y="324.5" font-size="8.5" text-anchor="start" fill="#231f20" textLength="17.2" lengthAdjust="spacingAndGlyphs">0-1.5</text>
<text x="93.5" y="340.4" font-size="8.5" text-anchor="end" fill="#231f20" textLength="36.6" lengthAdjust="spacingAndGlyphs">Lp30 GMP</text>
<line x1="117" y1="339.7" x2="510.5" y2="339.7" stroke="#eeeaec" stroke-width="0.8"/>
<text x="97.7" y="341.2" font-size="8.5" text-anchor="start" fill="#231f20" textLength="14.6" lengthAdjust="spacingAndGlyphs">0-18</text>
<text x="93.1" y="356.9" font-size="8.5" text-anchor="end" fill="#231f20" textLength="44.3" lengthAdjust="spacingAndGlyphs">Macrophage</text>
<line x1="117" y1="355.9" x2="510.5" y2="355.9" stroke="#eeeaec" stroke-width="0.8"/>
<text x="98.2" y="356.9" font-size="8.5" text-anchor="start" fill="#231f20" textLength="10.6" lengthAdjust="spacingAndGlyphs">0-3</text>
<text x="92.8" y="372.3" font-size="8.5" text-anchor="end" fill="#231f20" textLength="50.0" lengthAdjust="spacingAndGlyphs">B Lymphocyte</text>
<line x1="117" y1="371.8" x2="510.5" y2="371.8" stroke="#eeeaec" stroke-width="0.8"/>
<text x="98.2" y="372.3" font-size="8.5" text-anchor="start" fill="#231f20" textLength="16.7" lengthAdjust="spacingAndGlyphs">0-0.6</text>
<path d="M117,308.0L117.0,307.12L118.0,307.12L118.0,307.23L119.0,307.23L119.0,306.91L120.0,306.91L120.0,307.28L121.0,307.28L121.0,306.99L122.0,306.99L122.0,307.09L123.0,307.09L123.0,307.29L124.0,307.29L124.0,307.01L125.0,307.01L125.0,307.30L126.0,307.30L126.0,307.05L127.0,307.05L127.0,307.28L128.0,307.28L128.0,307.27L129.0,307.27L129.0,307.06L130.0,307.06L130.0,306.80L131.0,306.80L131.0,307.25L132.0,307.25L132.0,307.18L133.0,307.18L133.0,306.93L134.0,306.93L134.0,306.73L135.0,306.73L135.0,306.96L136.0,306.96L136.0,307.08L137.0,307.08L137.0,306.71L138.0,306.71L138.0,307.30L139.0,307.30L139.0,306.78L140.0,306.78L140.0,307.14L141.0,307.14L141,308.0Z" fill="#0fa06a"/>
<path d="M144,308.0L144.0,307.15L145.0,307.15L145.0,307.17L146.0,307.17L146.0,307.03L147.0,307.03L147.0,306.68L148.0,306.68L148.0,307.12L149.0,307.12L149.0,306.84L150.0,306.84L150.0,306.80L151.0,306.80L151.0,306.99L152.0,306.99L152.0,306.87L153.0,306.87L153.0,307.21L154.0,307.21L154.0,307.21L155.0,307.21L155.0,307.11L156.0,307.11L156.0,306.77L157.0,306.77L157.0,306.95L158.0,306.95L158.0,307.03L159.0,307.03L159.0,306.84L160.0,306.84L160,308.0Z" fill="#0fa06a"/>
<path d="M161,308.0L161.0,307.04L162.0,307.04L162.0,307.14L163.0,307.14L163.0,306.82L164.0,306.82L164.0,306.88L165.0,306.88L165,308.0Z" fill="#0fa06a"/>
<path d="M168,308.0L168.0,307.17L169.0,307.17L169.0,306.96L170.0,306.96L170.0,306.99L171.0,306.99L171.0,306.77L172.0,306.77L172.0,306.87L173.0,306.87L173.0,307.14L174.0,307.14L174.0,306.71L175.0,306.71L175.0,307.25L176.0,307.25L176,308.0Z" fill="#0fa06a"/>
<path d="M180,308.0L180.0,307.06L181.0,307.06L181.0,306.85L182.0,306.85L182.0,307.23L183.0,307.23L183.0,307.02L184.0,307.02L184.0,307.30L185.0,307.30L185,308.0Z" fill="#0fa06a"/>
<path d="M185,308.0L185.0,307.03L186.0,307.03L186.0,306.97L187.0,306.97L187.0,307.08L188.0,307.08L188.0,306.91L189.0,306.91L189.0,307.22L190.0,307.22L190.0,307.01L191.0,307.01L191,308.0Z" fill="#0fa06a"/>
<path d="M193,308.0L193.0,307.07L194.0,307.07L194.0,307.08L195.0,307.08L195.0,307.14L196.0,307.14L196,308.0Z" fill="#0fa06a"/>
<path d="M198,308.0L198.0,306.80L199.0,306.80L199.0,306.73L200.0,306.73L200.0,307.03L201.0,307.03L201.0,306.91L202.0,306.91L202.0,307.29L203.0,307.29L203.0,306.88L204.0,306.88L204.0,306.92L205.0,306.92L205.0,306.70L206.0,306.70L206,308.0Z" fill="#0fa06a"/>
<path d="M207,308.0L207.0,306.94L208.0,306.94L208.0,307.24L209.0,307.24L209.0,307.18L210.0,307.18L210.0,307.03L211.0,307.03L211.0,307.39L212.0,307.39L212.0,307.14L213.0,307.14L213.0,307.31L214.0,307.31L214.0,307.33L215.0,307.33L215,308.0Z" fill="#0fa06a"/>
<path d="M216,308.0L216.0,307.29L217.0,307.29L217.0,306.84L218.0,306.84L218.0,307.24L219.0,307.24L219.0,307.17L220.0,307.17L220.0,307.08L221.0,307.08L221.0,306.78L222.0,306.78L222.0,307.27L223.0,307.27L223.0,307.04L224.0,307.04L224.0,306.98L225.0,306.98L225,308.0Z" fill="#0fa06a"/>
<path d="M227,308.0L227.0,306.91L228.0,306.91L228.0,306.94L229.0,306.94L229.0,306.92L230.0,306.92L230.0,307.24L231.0,307.24L231.0,307.17L232.0,307.17L232.0,307.20L233.0,307.20L233,308.0Z" fill="#0fa06a"/>
<path d="M243,308.0L243.0,306.77L244.0,306.77L244.0,306.72L245.0,306.72L245.0,307.23L246.0,307.23L246.0,307.21L247.0,307.21L247.0,307.18L248.0,307.18L248.0,307.18L249.0,307.18L249.0,307.02L250.0,307.02L250.0,306.95L251.0,306.95L251.0,307.16L252.0,307.16L252.0,307.32L253.0,307.32L253.0,307.06L254.0,307.06L254,308.0Z" fill="#0fa06a"/>
<path d="M258,308.0L258.0,307.09L259.0,307.09L259.0,306.97L260.0,306.97L260.0,306.72L261.0,306.72L261.0,306.89L262.0,306.89L262.0,307.00L263.0,307.00L263.0,306.94L264.0,306.94L264.0,306.90L265.0,306.90L265.0,307.29L266.0,307.29L266,308.0Z" fill="#0fa06a"/>
<path d="M266,308.0L266.0,306.90L267.0,306.90L267.0,306.96L268.0,306.96L268.0,306.91L269.0,306.91L269.0,306.95L270.0,306.95L270.0,307.18L271.0,307.18L271.0,307.18L272.0,307.18L272.0,307.34L273.0,307.34L273.0,307.04L274.0,307.04L274.0,307.37L275.0,307.37L275,308.0Z" fill="#0fa06a"/>
<path d="M282,308.0L282.0,307.36L283.0,307.36L283.0,307.28L284.0,307.28L284.0,307.31L285.0,307.31L285.0,307.21L286.0,307.21L286.0,307.37L287.0,307.37L287,308.0Z" fill="#0fa06a"/>
<path d="M291,308.0L291.0,307.32L292.0,307.32L292.0,307.23L293.0,307.23L293.0,307.26L294.0,307.26L294.0,307.10L295.0,307.10L295.0,307.31L296.0,307.31L296.0,306.77L297.0,306.77L297.0,306.94L298.0,306.94L298,308.0Z" fill="#0fa06a"/>
<path d="M304,308.0L304.0,307.23L305.0,307.23L305.0,307.17L306.0,307.17L306.0,307.11L307.0,307.11L307.0,307.10L308.0,307.10L308.0,307.25L309.0,307.25L309.0,306.79L310.0,306.79L310.0,306.70L311.0,306.70L311.0,307.03L312.0,307.03L312.0,307.02L313.0,307.02L313,308.0Z" fill="#0fa06a"/>
<path d="M315,308.0L315.0,307.27L316.0,307.27L316.0,307.26L317.0,307.26L317.0,307.11L318.0,307.11L318.0,307.16L319.0,307.16L319.0,306.80L320.0,306.80L320.0,307.22L321.0,307.22L321.0,307.31L322.0,307.31L322.0,306.73L323.0,306.73L323.0,306.99L324.0,306.99L324.0,307.23L325.0,307.23L325.0,306.98L326.0,306.98L326.0,307.31L327.0,307.31L327.0,306.99L328.0,306.99L328.0,306.71L329.0,306.71L329.0,306.78L330.0,306.78L330.0,306.89L331.0,306.89L331,308.0Z" fill="#0fa06a"/>
<path d="M337,308.0L337.0,307.07L338.0,307.07L338.0,306.99L339.0,306.99L339.0,307.13L340.0,307.13L340.0,306.71L341.0,306.71L341.0,306.88L342.0,306.88L342.0,306.70L343.0,306.70L343.0,307.02L344.0,307.02L344.0,307.09L345.0,307.09L345.0,306.68L346.0,306.68L346.0,306.56L347.0,306.56L347.0,306.65L348.0,306.65L348.0,306.69L349.0,306.69L349.0,306.68L350.0,306.68L350,308.0Z" fill="#0fa06a"/>
<path d="M356,308.0L356.0,307.30L357.0,307.30L357,308.0Z" fill="#0fa06a"/>
<path d="M361,308.0L361.0,306.99L362.0,306.99L362.0,307.27L363.0,307.27L363.0,307.11L364.0,307.11L364.0,307.20L365.0,307.20L365.0,307.38L366.0,307.38L366,308.0Z" fill="#0fa06a"/>
<path d="M372,308.0L372.0,307.31L373.0,307.31L373.0,307.15L374.0,307.15L374.0,307.16L375.0,307.16L375.0,306.89L376.0,306.89L376.0,306.72L377.0,306.72L377.0,307.04L378.0,307.04L378.0,306.73L379.0,306.73L379.0,306.70L380.0,306.70L380.0,306.72L381.0,306.72L381.0,307.10L382.0,307.10L382.0,307.19L383.0,307.19L383.0,307.18L384.0,307.18L384.0,307.20L385.0,307.20L385.0,307.20L386.0,307.20L386.0,306.93L387.0,306.93L387,308.0Z" fill="#0fa06a"/>
<path d="M392,308.0L392.0,306.76L393.0,306.76L393.0,306.80L394.0,306.80L394.0,307.02L395.0,307.02L395.0,306.91L396.0,306.91L396.0,306.82L397.0,306.82L397.0,307.27L398.0,307.27L398.0,306.91L399.0,306.91L399.0,306.75L400.0,306.75L400.0,306.83L401.0,306.83L401,308.0Z" fill="#0fa06a"/>
<path d="M403,308.0L403.0,306.98L404.0,306.98L404.0,307.13L405.0,307.13L405.0,307.30L406.0,307.30L406.0,306.96L407.0,306.96L407,308.0Z" fill="#0fa06a"/>
<path d="M409,308.0L409.0,307.21L410.0,307.21L410.0,306.95L411.0,306.95L411.0,306.86L412.0,306.86L412.0,307.18L413.0,307.18L413.0,307.18L414.0,307.18L414.0,306.87L415.0,306.87L415.0,306.99L416.0,306.99L416.0,307.30L417.0,307.30L417.0,307.33L418.0,307.33L418.0,307.32L419.0,307.32L419.0,306.89L420.0,306.89L420.0,306.95L421.0,306.95L421.0,307.32L422.0,307.32L422.0,306.94L423.0,306.94L423.0,306.85L424.0,306.85L424.0,307.03L425.0,307.03L425.0,307.20L426.0,307.20L426.0,307.09L427.0,307.09L427.0,307.33L428.0,307.33L428.0,307.39L429.0,307.39L429.0,306.86L430.0,306.86L430.0,307.04L431.0,307.04L431.0,307.11L432.0,307.11L432,308.0Z" fill="#0fa06a"/>
<path d="M434,308.0L434.0,306.88L435.0,306.88L435.0,307.16L436.0,307.16L436.0,306.91L437.0,306.91L437.0,306.94L438.0,306.94L438.0,307.28L439.0,307.28L439.0,307.26L440.0,307.26L440.0,307.24L441.0,307.24L441.0,307.27L442.0,307.27L442.0,307.07L443.0,307.07L443.0,307.25L444.0,307.25L444.0,307.17L445.0,307.17L445.0,307.33L446.0,307.33L446.0,306.89L447.0,306.89L447.0,307.20L448.0,307.20L448.0,307.14L449.0,307.14L449.0,307.07L450.0,307.07L450.0,306.89L451.0,306.89L451.0,307.16L452.0,307.16L452,308.0Z" fill="#0fa06a"/>
<path d="M463,308.0L463.0,307.50L464.0,307.50L464,308.0Z" fill="#0fa06a"/>
<path d="M467,308.0L467.0,306.75L468.0,306.75L468.0,307.01L469.0,307.01L469.0,306.99L470.0,306.99L470.0,307.00L471.0,307.00L471.0,307.31L472.0,307.31L472.0,307.05L473.0,307.05L473.0,307.21L474.0,307.21L474.0,307.32L475.0,307.32L475.0,306.82L476.0,306.82L476,308.0Z" fill="#0fa06a"/>
<path d="M478,308.0L478.0,307.56L479.0,307.56L479.0,307.46L480.0,307.46L480,308.0Z" fill="#0fa06a"/>
<path d="M482,308.0L482.0,306.87L483.0,306.87L483.0,306.97L484.0,306.97L484.0,307.12L485.0,307.12L485.0,307.00L486.0,307.00L486.0,306.98L487.0,306.98L487.0,306.83L488.0,306.83L488.0,307.26L489.0,307.26L489,308.0Z" fill="#0fa06a"/>
<path d="M492,308.0L492.0,306.86L493.0,306.86L493.0,307.08L494.0,307.08L494.0,307.06L495.0,307.06L495.0,306.71L496.0,306.71L496.0,306.89L497.0,306.89L497.0,306.86L498.0,306.86L498.0,306.72L499.0,306.72L499.0,306.61L500.0,306.61L500.0,306.94L501.0,306.94L501.0,306.82L502.0,306.82L502.0,306.90L503.0,306.90L503.0,306.89L504.0,306.89L504.0,306.77L505.0,306.77L505,308.0Z" fill="#0fa06a"/>
<path d="M508,308.0L508.0,307.04L509.0,307.04L509.0,306.99L510.0,306.99L510,308.0Z" fill="#0fa06a"/>
<path d="M164.08,308.00L164.08,307.97L164.25,307.94L164.42,307.90L164.59,307.84L164.76,307.76L164.93,307.66L165.10,307.53L165.27,307.39L165.44,307.23L165.61,307.07L165.78,306.92L165.95,306.78L166.12,306.67L166.29,306.58L166.46,306.53L166.63,306.51L166.80,306.50L166.97,306.51L167.14,306.53L167.31,306.58L167.48,306.67L167.65,306.78L167.82,306.92L167.99,307.07L168.16,307.23L168.33,307.39L168.50,307.53L168.67,307.66L168.84,307.76L169.01,307.84L169.18,307.90L169.35,307.94L169.52,307.97L169.52,308.00Z" fill="#0fa06a"/>
<path d="M180.28,308.00L180.28,307.97L180.45,307.95L180.62,307.92L180.79,307.87L180.96,307.81L181.13,307.73L181.30,307.63L181.47,307.51L181.64,307.38L181.81,307.26L181.98,307.13L182.15,307.02L182.32,306.93L182.49,306.87L182.66,306.82L182.83,306.80L183.00,306.80L183.17,306.80L183.34,306.82L183.51,306.87L183.68,306.93L183.85,307.02L184.02,307.13L184.19,307.26L184.36,307.38L184.53,307.51L184.70,307.63L184.87,307.73L185.04,307.81L185.21,307.87L185.38,307.92L185.55,307.95L185.72,307.97L185.72,308.00Z" fill="#0fa06a"/>
<path d="M199.24,308.00L199.24,307.96L199.44,307.93L199.64,307.88L199.85,307.81L200.05,307.71L200.26,307.59L200.46,307.44L200.66,307.26L200.87,307.08L201.07,306.88L201.28,306.70L201.48,306.53L201.68,306.40L201.89,306.30L202.09,306.24L202.30,306.21L202.50,306.20L202.70,306.21L202.91,306.24L203.11,306.30L203.32,306.40L203.52,306.53L203.72,306.70L203.93,306.88L204.13,307.08L204.34,307.26L204.54,307.44L204.74,307.59L204.95,307.71L205.15,307.81L205.36,307.88L205.56,307.93L205.76,307.96L205.76,308.00Z" fill="#0fa06a"/>
<path d="M216.16,308.00L216.16,307.95L216.38,307.92L216.61,307.87L216.83,307.79L217.05,307.68L217.27,307.54L217.49,307.38L217.71,307.18L217.93,306.97L218.15,306.76L218.37,306.55L218.59,306.37L218.82,306.22L219.04,306.11L219.26,306.04L219.48,306.01L219.70,306.00L219.92,306.01L220.14,306.04L220.36,306.11L220.58,306.22L220.80,306.37L221.03,306.55L221.25,306.76L221.47,306.97L221.69,307.18L221.91,307.38L222.13,307.54L222.35,307.68L222.57,307.79L222.79,307.87L223.01,307.92L223.24,307.95L223.24,308.00Z" fill="#0fa06a"/>
<path d="M225.78,308.00L225.78,307.97L225.95,307.95L226.12,307.91L226.29,307.86L226.46,307.79L226.63,307.70L226.80,307.59L226.97,307.47L227.14,307.33L227.31,307.19L227.48,307.06L227.65,306.94L227.82,306.84L227.99,306.77L228.16,306.73L228.33,306.70L228.50,306.70L228.67,306.70L228.84,306.73L229.01,306.77L229.18,306.84L229.35,306.94L229.52,307.06L229.69,307.19L229.86,307.33L230.03,307.47L230.20,307.59L230.37,307.70L230.54,307.79L230.71,307.86L230.88,307.91L231.05,307.95L231.22,307.97L231.22,308.00Z" fill="#0fa06a"/>
<path d="M251.28,308.00L251.28,307.97L251.45,307.94L251.62,307.90L251.79,307.84L251.96,307.76L252.13,307.66L252.30,307.53L252.47,307.39L252.64,307.23L252.81,307.07L252.98,306.92L253.15,306.78L253.32,306.67L253.49,306.58L253.66,306.53L253.83,306.51L254.00,306.50L254.17,306.51L254.34,306.53L254.51,306.58L254.68,306.67L254.85,306.78L255.02,306.92L255.19,307.07L255.36,307.23L255.53,307.39L255.70,307.53L255.87,307.66L256.04,307.76L256.21,307.84L256.38,307.90L256.55,307.94L256.72,307.97L256.72,308.00Z" fill="#0fa06a"/>
<path d="M258.28,308.00L258.28,307.97L258.45,307.95L258.62,307.91L258.79,307.86L258.96,307.79L259.13,307.70L259.30,307.59L259.47,307.47L259.64,307.33L259.81,307.19L259.98,307.06L260.15,306.94L260.32,306.84L260.49,306.77L260.66,306.73L260.83,306.70L261.00,306.70L261.17,306.70L261.34,306.73L261.51,306.77L261.68,306.84L261.85,306.94L262.02,307.06L262.19,307.19L262.36,307.33L262.53,307.47L262.70,307.59L262.87,307.70L263.04,307.79L263.21,307.86L263.38,307.91L263.55,307.95L263.72,307.97L263.72,308.00Z" fill="#0fa06a"/>
<path d="M302.74,308.00L302.74,307.97L302.94,307.94L303.14,307.90L303.35,307.84L303.55,307.76L303.76,307.66L303.96,307.53L304.16,307.39L304.37,307.23L304.57,307.07L304.78,306.92L304.98,306.78L305.18,306.67L305.39,306.58L305.59,306.53L305.80,306.51L306.00,306.50L306.20,306.51L306.41,306.53L306.61,306.58L306.82,306.67L307.02,306.78L307.22,306.92L307.43,307.07L307.63,307.23L307.84,307.39L308.04,307.53L308.24,307.66L308.45,307.76L308.65,307.84L308.86,307.90L309.06,307.94L309.26,307.97L309.26,308.00Z" fill="#0fa06a"/>
<path d="M316.74,308.00L316.74,307.97L316.94,307.95L317.14,307.91L317.35,307.86L317.55,307.79L317.76,307.70L317.96,307.59L318.16,307.47L318.37,307.33L318.57,307.19L318.78,307.06L318.98,306.94L319.18,306.84L319.39,306.77L319.59,306.73L319.80,306.70L320.00,306.70L320.20,306.70L320.41,306.73L320.61,306.77L320.82,306.84L321.02,306.94L321.22,307.06L321.43,307.19L321.63,307.33L321.84,307.47L322.04,307.59L322.24,307.70L322.45,307.79L322.65,307.86L322.86,307.91L323.06,307.95L323.26,307.97L323.26,308.00Z" fill="#0fa06a"/>
<path d="M374.28,308.00L374.28,307.97L374.45,307.95L374.62,307.91L374.79,307.86L374.96,307.79L375.13,307.70L375.30,307.59L375.47,307.47L375.64,307.33L375.81,307.19L375.98,307.06L376.15,306.94L376.32,306.84L376.49,306.77L376.66,306.73L376.83,306.70L377.00,306.70L377.17,306.70L377.34,306.73L377.51,306.77L377.68,306.84L377.85,306.94L378.02,307.06L378.19,307.19L378.36,307.33L378.53,307.47L378.70,307.59L378.87,307.70L379.04,307.79L379.21,307.86L379.38,307.91L379.55,307.95L379.72,307.97L379.72,308.00Z" fill="#0fa06a"/>
<path d="M379.28,308.00L379.28,307.97L379.45,307.95L379.62,307.91L379.79,307.86L379.96,307.79L380.13,307.70L380.30,307.59L380.47,307.47L380.64,307.33L380.81,307.19L380.98,307.06L381.15,306.94L381.32,306.84L381.49,306.77L381.66,306.73L381.83,306.70L382.00,306.70L382.17,306.70L382.34,306.73L382.51,306.77L382.68,306.84L382.85,306.94L383.02,307.06L383.19,307.19L383.36,307.33L383.53,307.47L383.70,307.59L383.87,307.70L384.04,307.79L384.21,307.86L384.38,307.91L384.55,307.95L384.72,307.97L384.72,308.00Z" fill="#0fa06a"/>
<path d="M392.28,308.00L392.28,307.97L392.45,307.95L392.62,307.91L392.79,307.86L392.96,307.79L393.13,307.70L393.30,307.59L393.47,307.47L393.64,307.33L393.81,307.19L393.98,307.06L394.15,306.94L394.32,306.84L394.49,306.77L394.66,306.73L394.83,306.70L395.00,306.70L395.17,306.70L395.34,306.73L395.51,306.77L395.68,306.84L395.85,306.94L396.02,307.06L396.19,307.19L396.36,307.33L396.53,307.47L396.70,307.59L396.87,307.70L397.04,307.79L397.21,307.86L397.38,307.91L397.55,307.95L397.72,307.97L397.72,308.00Z" fill="#0fa06a"/>
<path d="M410.28,308.00L410.28,307.97L410.45,307.95L410.62,307.92L410.79,307.87L410.96,307.81L411.13,307.73L411.30,307.63L411.47,307.51L411.64,307.38L411.81,307.26L411.98,307.13L412.15,307.02L412.32,306.93L412.49,306.87L412.66,306.82L412.83,306.80L413.00,306.80L413.17,306.80L413.34,306.82L413.51,306.87L413.68,306.93L413.85,307.02L414.02,307.13L414.19,307.26L414.36,307.38L414.53,307.51L414.70,307.63L414.87,307.73L415.04,307.81L415.21,307.87L415.38,307.92L415.55,307.95L415.72,307.97L415.72,308.00Z" fill="#0fa06a"/>
<path d="M416.28,308.00L416.28,307.97L416.45,307.95L416.62,307.92L416.79,307.87L416.96,307.81L417.13,307.73L417.30,307.63L417.47,307.51L417.64,307.38L417.81,307.26L417.98,307.13L418.15,307.02L418.32,306.93L418.49,306.87L418.66,306.82L418.83,306.80L419.00,306.80L419.17,306.80L419.34,306.82L419.51,306.87L419.68,306.93L419.85,307.02L420.02,307.13L420.19,307.26L420.36,307.38L420.53,307.51L420.70,307.63L420.87,307.73L421.04,307.81L421.21,307.87L421.38,307.92L421.55,307.95L421.72,307.97L421.72,308.00Z" fill="#0fa06a"/>
<path d="M421.28,308.00L421.28,307.97L421.45,307.95L421.62,307.92L421.79,307.87L421.96,307.81L422.13,307.73L422.30,307.63L422.47,307.51L422.64,307.38L422.81,307.26L422.98,307.13L423.15,307.02L423.32,306.93L423.49,306.87L423.66,306.82L423.83,306.80L424.00,306.80L424.17,306.80L424.34,306.82L424.51,306.87L424.68,306.93L424.85,307.02L425.02,307.13L425.19,307.26L425.36,307.38L425.53,307.51L425.70,307.63L425.87,307.73L426.04,307.81L426.21,307.87L426.38,307.92L426.55,307.95L426.72,307.97L426.72,308.00Z" fill="#0fa06a"/>
<path d="M426.28,308.00L426.28,307.97L426.45,307.95L426.62,307.92L426.79,307.87L426.96,307.81L427.13,307.73L427.30,307.63L427.47,307.51L427.64,307.38L427.81,307.26L427.98,307.13L428.15,307.02L428.32,306.93L428.49,306.87L428.66,306.82L428.83,306.80L429.00,306.80L429.17,306.80L429.34,306.82L429.51,306.87L429.68,306.93L429.85,307.02L430.02,307.13L430.19,307.26L430.36,307.38L430.53,307.51L430.70,307.63L430.87,307.73L431.04,307.81L431.21,307.87L431.38,307.92L431.55,307.95L431.72,307.97L431.72,308.00Z" fill="#0fa06a"/>
<path d="M453.78,308.00L453.78,307.97L453.95,307.94L454.12,307.90L454.29,307.84L454.46,307.76L454.63,307.66L454.80,307.53L454.97,307.39L455.14,307.23L455.31,307.07L455.48,306.92L455.65,306.78L455.82,306.67L455.99,306.58L456.16,306.53L456.33,306.51L456.50,306.50L456.67,306.51L456.84,306.53L457.01,306.58L457.18,306.67L457.35,306.78L457.52,306.92L457.69,307.07L457.86,307.23L458.03,307.39L458.20,307.53L458.37,307.66L458.54,307.76L458.71,307.84L458.88,307.90L459.05,307.94L459.22,307.97L459.22,308.00Z" fill="#0fa06a"/>
<path d="M469.28,308.00L469.28,307.97L469.45,307.95L469.62,307.91L469.79,307.86L469.96,307.79L470.13,307.70L470.30,307.59L470.47,307.47L470.64,307.33L470.81,307.19L470.98,307.06L471.15,306.94L471.32,306.84L471.49,306.77L471.66,306.73L471.83,306.70L472.00,306.70L472.17,306.70L472.34,306.73L472.51,306.77L472.68,306.84L472.85,306.94L473.02,307.06L473.19,307.19L473.36,307.33L473.53,307.47L473.70,307.59L473.87,307.70L474.04,307.79L474.21,307.86L474.38,307.91L474.55,307.95L474.72,307.97L474.72,308.00Z" fill="#0fa06a"/>
<path d="M494.28,308.00L494.28,307.97L494.45,307.95L494.62,307.92L494.79,307.87L494.96,307.81L495.13,307.73L495.30,307.63L495.47,307.51L495.64,307.38L495.81,307.26L495.98,307.13L496.15,307.02L496.32,306.93L496.49,306.87L496.66,306.82L496.83,306.80L497.00,306.80L497.17,306.80L497.34,306.82L497.51,306.87L497.68,306.93L497.85,307.02L498.02,307.13L498.19,307.26L498.36,307.38L498.53,307.51L498.70,307.63L498.87,307.73L499.04,307.81L499.21,307.87L499.38,307.92L499.55,307.95L499.72,307.97L499.72,308.00Z" fill="#0fa06a"/>
<path d="M500.28,308.00L500.28,307.97L500.45,307.95L500.62,307.92L500.79,307.87L500.96,307.81L501.13,307.73L501.30,307.63L501.47,307.51L501.64,307.38L501.81,307.26L501.98,307.13L502.15,307.02L502.32,306.93L502.49,306.87L502.66,306.82L502.83,306.80L503.00,306.80L503.17,306.80L503.34,306.82L503.51,306.87L503.68,306.93L503.85,307.02L504.02,307.13L504.19,307.26L504.36,307.38L504.53,307.51L504.70,307.63L504.87,307.73L505.04,307.81L505.21,307.87L505.38,307.92L505.55,307.95L505.72,307.97L505.72,308.00Z" fill="#0fa06a"/>
<path d="M117,323.90000000000003L117.0,322.60L118.0,322.60L118.0,322.21L119.0,322.21L119.0,322.41L120.0,322.41L120.0,322.26L121.0,322.26L121.0,322.21L122.0,322.21L122.0,322.78L123.0,322.78L123.0,322.53L124.0,322.53L124.0,322.21L125.0,322.21L125.0,322.29L126.0,322.29L126.0,322.88L127.0,322.88L127.0,322.90L128.0,322.90L128.0,322.63L129.0,322.63L129.0,322.94L130.0,322.94L130,323.90000000000003Z" fill="#0fa06a"/>
<path d="M134,323.90000000000003L134.0,322.80L135.0,322.80L135.0,322.94L136.0,322.94L136.0,322.44L137.0,322.44L137.0,322.34L138.0,322.34L138.0,322.25L139.0,322.25L139.0,322.87L140.0,322.87L140.0,322.40L141.0,322.40L141.0,322.45L142.0,322.45L142.0,322.88L143.0,322.88L143,323.90000000000003Z" fill="#0fa06a"/>
<path d="M145,323.90000000000003L145.0,322.81L146.0,322.81L146.0,322.76L147.0,322.76L147.0,323.18L148.0,323.18L148.0,322.77L149.0,322.77L149.0,323.08L150.0,323.08L150.0,323.03L151.0,323.03L151,323.90000000000003Z" fill="#0fa06a"/>
<path d="M153,323.90000000000003L153.0,322.46L154.0,322.46L154.0,322.57L155.0,322.57L155.0,323.04L156.0,323.04L156.0,322.85L157.0,322.85L157.0,322.79L158.0,322.79L158.0,322.91L159.0,322.91L159.0,323.01L160.0,323.01L160.0,322.93L161.0,322.93L161.0,322.64L162.0,322.64L162.0,323.14L163.0,323.14L163.0,322.76L164.0,322.76L164.0,322.84L165.0,322.84L165.0,323.14L166.0,323.14L166,323.90000000000003Z" fill="#0fa06a"/>
<path d="M170,323.90000000000003L170.0,322.92L171.0,322.92L171.0,322.71L172.0,322.71L172.0,322.79L173.0,322.79L173.0,323.10L174.0,323.10L174.0,322.46L175.0,322.46L175,323.90000000000003Z" fill="#0fa06a"/>
<path d="M178,323.90000000000003L178.0,322.86L179.0,322.86L179.0,322.76L180.0,322.76L180.0,323.24L181.0,323.24L181,323.90000000000003Z" fill="#0fa06a"/>
<path d="M185,323.90000000000003L185.0,323.06L186.0,323.06L186.0,323.20L187.0,323.20L187.0,322.73L188.0,322.73L188.0,323.05L189.0,323.05L189.0,323.14L190.0,323.14L190.0,322.96L191.0,322.96L191,323.90000000000003Z" fill="#0fa06a"/>
<path d="M196,323.90000000000003L196.0,322.65L197.0,322.65L197.0,322.71L198.0,322.71L198.0,323.06L199.0,323.06L199.0,323.13L200.0,323.13L200.0,322.65L201.0,322.65L201,323.90000000000003Z" fill="#0fa06a"/>
<path d="M203,323.90000000000003L203.0,322.75L204.0,322.75L204.0,322.66L205.0,322.66L205.0,323.09L206.0,323.09L206.0,323.11L207.0,323.11L207.0,322.67L208.0,322.67L208.0,322.85L209.0,322.85L209,323.90000000000003Z" fill="#0fa06a"/>
<path d="M214,323.90000000000003L214.0,323.02L215.0,323.02L215.0,322.35L216.0,322.35L216.0,322.59L217.0,322.59L217.0,322.46L218.0,322.46L218.0,323.01L219.0,323.01L219.0,322.42L220.0,322.42L220.0,323.02L221.0,323.02L221.0,322.41L222.0,322.41L222,323.90000000000003Z" fill="#0fa06a"/>
<path d="M225,323.90000000000003L225.0,322.83L226.0,322.83L226.0,322.91L227.0,322.91L227.0,322.76L228.0,322.76L228.0,322.50L229.0,322.50L229.0,322.96L230.0,322.96L230.0,323.06L231.0,323.06L231.0,322.78L232.0,322.78L232.0,322.98L233.0,322.98L233.0,323.07L234.0,323.07L234.0,323.04L235.0,323.04L235.0,323.11L236.0,323.11L236,323.90000000000003Z" fill="#0fa06a"/>
<path d="M253,323.90000000000003L253.0,323.19L254.0,323.19L254.0,323.13L255.0,323.13L255.0,323.13L256.0,323.13L256,323.90000000000003Z" fill="#0fa06a"/>
<path d="M261,323.90000000000003L261.0,322.62L262.0,322.62L262.0,322.95L263.0,322.95L263.0,322.80L264.0,322.80L264.0,323.03L265.0,323.03L265.0,322.91L266.0,322.91L266.0,323.14L267.0,323.14L267.0,322.97L268.0,322.97L268,323.90000000000003Z" fill="#0fa06a"/>
<path d="M283,323.90000000000003L283.0,323.22L284.0,323.22L284.0,322.76L285.0,322.76L285,323.90000000000003Z" fill="#0fa06a"/>
<path d="M341,323.90000000000003L341.0,322.99L342.0,322.99L342.0,323.19L343.0,323.19L343.0,323.03L344.0,323.03L344,323.90000000000003Z" fill="#0fa06a"/>
<path d="M345,323.90000000000003L345.0,322.50L346.0,322.50L346.0,323.08L347.0,323.08L347.0,322.58L348.0,322.58L348.0,322.85L349.0,322.85L349.0,322.80L350.0,322.80L350.0,322.57L351.0,322.57L351.0,322.87L352.0,322.87L352.0,322.80L353.0,322.80L353,323.90000000000003Z" fill="#0fa06a"/>
<path d="M357,323.90000000000003L357.0,322.67L358.0,322.67L358.0,322.46L359.0,322.46L359.0,322.91L360.0,322.91L360,323.90000000000003Z" fill="#0fa06a"/>
<path d="M362,323.90000000000003L362.0,322.57L363.0,322.57L363.0,322.66L364.0,322.66L364.0,322.70L365.0,322.70L365.0,322.87L366.0,322.87L366.0,322.91L367.0,322.91L367.0,323.11L368.0,323.11L368.0,323.06L369.0,323.06L369,323.90000000000003Z" fill="#0fa06a"/>
<path d="M374,323.90000000000003L374.0,323.02L375.0,323.02L375.0,322.50L376.0,322.50L376.0,322.88L377.0,322.88L377.0,322.95L378.0,322.95L378.0,323.01L379.0,323.01L379.0,322.43L380.0,322.43L380,323.90000000000003Z" fill="#0fa06a"/>
<path d="M382,323.90000000000003L382.0,322.40L383.0,322.40L383.0,322.56L384.0,322.56L384.0,322.86L385.0,322.86L385.0,322.89L386.0,322.89L386.0,322.85L387.0,322.85L387,323.90000000000003Z" fill="#0fa06a"/>
<path d="M392,323.90000000000003L392.0,322.61L393.0,322.61L393.0,322.87L394.0,322.87L394.0,322.63L395.0,322.63L395.0,322.78L396.0,322.78L396.0,322.19L397.0,322.19L397.0,322.18L398.0,322.18L398.0,322.54L399.0,322.54L399.0,322.79L400.0,322.79L400,323.90000000000003Z" fill="#0fa06a"/>
<path d="M402,323.90000000000003L402.0,322.62L403.0,322.62L403.0,323.03L404.0,323.03L404.0,323.00L405.0,323.00L405.0,323.22L406.0,323.22L406.0,322.98L407.0,322.98L407.0,322.93L408.0,322.93L408.0,322.91L409.0,322.91L409.0,323.10L410.0,323.10L410,323.90000000000003Z" fill="#0fa06a"/>
<path d="M416,323.90000000000003L416.0,323.02L417.0,323.02L417.0,323.30L418.0,323.30L418,323.90000000000003Z" fill="#0fa06a"/>
<path d="M421,323.90000000000003L421.0,322.87L422.0,322.87L422.0,323.01L423.0,323.01L423.0,322.77L424.0,322.77L424,323.90000000000003Z" fill="#0fa06a"/>
<path d="M426,323.90000000000003L426.0,322.96L427.0,322.96L427.0,322.98L428.0,322.98L428.0,322.74L429.0,322.74L429.0,322.80L430.0,322.80L430.0,322.51L431.0,322.51L431.0,322.56L432.0,322.56L432.0,322.37L433.0,322.37L433.0,322.45L434.0,322.45L434.0,322.40L435.0,322.40L435.0,322.26L436.0,322.26L436,323.90000000000003Z" fill="#0fa06a"/>
<path d="M441,323.90000000000003L441.0,322.78L442.0,322.78L442.0,322.82L443.0,322.82L443.0,322.32L444.0,322.32L444.0,322.96L445.0,322.96L445.0,322.52L446.0,322.52L446.0,322.58L447.0,322.58L447.0,323.04L448.0,323.04L448.0,322.43L449.0,322.43L449,323.90000000000003Z" fill="#0fa06a"/>
<path d="M457,323.90000000000003L457.0,323.21L458.0,323.21L458.0,323.31L459.0,323.31L459.0,323.27L460.0,323.27L460,323.90000000000003Z" fill="#0fa06a"/>
<path d="M465,323.90000000000003L465.0,323.24L466.0,323.24L466.0,323.48L467.0,323.48L467,323.90000000000003Z" fill="#0fa06a"/>
<path d="M470,323.90000000000003L470.0,323.34L471.0,323.34L471.0,323.35L472.0,323.35L472,323.90000000000003Z" fill="#0fa06a"/>
<path d="M474,323.90000000000003L474.0,322.30L475.0,322.30L475.0,322.32L476.0,322.32L476.0,322.31L477.0,322.31L477,323.90000000000003Z" fill="#0fa06a"/>
<path d="M481,323.90000000000003L481.0,322.86L482.0,322.86L482.0,322.66L483.0,322.66L483.0,322.79L484.0,322.79L484.0,322.79L485.0,322.79L485.0,323.08L486.0,323.08L486.0,323.21L487.0,323.21L487.0,323.14L488.0,323.14L488.0,323.00L489.0,323.00L489,323.90000000000003Z" fill="#0fa06a"/>
<path d="M491,323.90000000000003L491.0,322.93L492.0,322.93L492.0,321.95L493.0,321.95L493,323.90000000000003Z" fill="#0fa06a"/>
<path d="M501,323.90000000000003L501.0,323.33L502.0,323.33L502.0,323.31L503.0,323.31L503.0,323.31L504.0,323.31L504,323.90000000000003Z" fill="#0fa06a"/>
<path d="M508,323.90000000000003L508.0,322.80L509.0,322.80L509.0,322.92L510.0,322.92L510,323.90000000000003Z" fill="#0fa06a"/>
<path d="M119.74,323.90L119.74,323.86L119.94,323.83L120.14,323.78L120.35,323.71L120.55,323.61L120.76,323.49L120.96,323.34L121.16,323.16L121.37,322.98L121.57,322.78L121.78,322.60L121.98,322.43L122.18,322.30L122.39,322.20L122.59,322.14L122.80,322.11L123.00,322.10L123.20,322.11L123.41,322.14L123.61,322.20L123.82,322.30L124.02,322.43L124.22,322.60L124.43,322.78L124.63,322.98L124.84,323.16L125.04,323.34L125.24,323.49L125.45,323.61L125.65,323.71L125.86,323.78L126.06,323.83L126.26,323.86L126.26,323.90Z" fill="#0fa06a"/>
<path d="M136.61,323.90L136.61,323.81L136.80,323.75L136.98,323.65L137.17,323.51L137.36,323.31L137.54,323.05L137.73,322.74L137.92,322.39L138.10,322.00L138.29,321.60L138.48,321.23L138.66,320.89L138.85,320.61L139.04,320.41L139.23,320.28L139.41,320.21L139.60,320.20L139.79,320.21L139.97,320.28L140.16,320.41L140.35,320.61L140.53,320.89L140.72,321.23L140.91,321.60L141.10,322.00L141.28,322.39L141.47,322.74L141.66,323.05L141.84,323.31L142.03,323.51L142.22,323.65L142.41,323.75L142.59,323.81L142.59,323.90Z" fill="#0fa06a"/>
<path d="M158.84,323.90L158.84,323.85L159.04,323.81L159.24,323.75L159.45,323.66L159.65,323.53L159.86,323.37L160.06,323.18L160.26,322.96L160.47,322.72L160.67,322.47L160.88,322.24L161.08,322.03L161.28,321.86L161.49,321.73L161.69,321.65L161.90,321.61L162.10,321.60L162.30,321.61L162.51,321.65L162.71,321.73L162.92,321.86L163.12,322.03L163.32,322.24L163.53,322.47L163.73,322.72L163.94,322.96L164.14,323.18L164.34,323.37L164.55,323.53L164.75,323.66L164.96,323.75L165.16,323.81L165.36,323.85L165.36,323.90Z" fill="#0fa06a"/>
<path d="M171.48,323.90L171.48,323.85L171.65,323.82L171.82,323.77L171.99,323.69L172.16,323.58L172.33,323.44L172.50,323.28L172.67,323.08L172.84,322.87L173.01,322.66L173.18,322.45L173.35,322.27L173.52,322.12L173.69,322.01L173.86,321.94L174.03,321.91L174.20,321.90L174.37,321.91L174.54,321.94L174.71,322.01L174.88,322.12L175.05,322.27L175.22,322.45L175.39,322.66L175.56,322.87L175.73,323.08L175.90,323.28L176.07,323.44L176.24,323.58L176.41,323.69L176.58,323.77L176.75,323.82L176.92,323.85L176.92,323.90Z" fill="#0fa06a"/>
<path d="M186.28,323.90L186.28,323.87L186.45,323.85L186.62,323.81L186.79,323.76L186.96,323.69L187.13,323.60L187.30,323.49L187.47,323.37L187.64,323.23L187.81,323.09L187.98,322.96L188.15,322.84L188.32,322.74L188.49,322.67L188.66,322.63L188.83,322.60L189.00,322.60L189.17,322.60L189.34,322.63L189.51,322.67L189.68,322.74L189.85,322.84L190.02,322.96L190.19,323.09L190.36,323.23L190.53,323.37L190.70,323.49L190.87,323.60L191.04,323.69L191.21,323.76L191.38,323.81L191.55,323.85L191.72,323.87L191.72,323.90Z" fill="#0fa06a"/>
<path d="M197.08,323.90L197.08,323.86L197.25,323.83L197.42,323.78L197.59,323.71L197.76,323.61L197.93,323.49L198.10,323.34L198.27,323.16L198.44,322.98L198.61,322.78L198.78,322.60L198.95,322.43L199.12,322.30L199.29,322.20L199.46,322.14L199.63,322.11L199.80,322.10L199.97,322.11L200.14,322.14L200.31,322.20L200.48,322.30L200.65,322.43L200.82,322.60L200.99,322.78L201.16,322.98L201.33,323.16L201.50,323.34L201.67,323.49L201.84,323.61L202.01,323.71L202.18,323.78L202.35,323.83L202.52,323.86L202.52,323.90Z" fill="#0fa06a"/>
<path d="M227.54,323.90L227.54,323.84L227.74,323.80L227.94,323.73L228.15,323.63L228.35,323.50L228.56,323.33L228.76,323.12L228.96,322.88L229.17,322.62L229.37,322.35L229.58,322.09L229.78,321.86L229.98,321.68L230.19,321.54L230.39,321.45L230.60,321.41L230.80,321.40L231.00,321.41L231.21,321.45L231.41,321.54L231.62,321.68L231.82,321.86L232.02,322.09L232.23,322.35L232.43,322.62L232.64,322.88L232.84,323.12L233.04,323.33L233.25,323.50L233.45,323.63L233.66,323.73L233.86,323.80L234.06,323.84L234.06,323.90Z" fill="#0fa06a"/>
<path d="M261.74,323.90L261.74,323.87L261.94,323.84L262.14,323.80L262.35,323.74L262.55,323.66L262.76,323.56L262.96,323.43L263.16,323.29L263.37,323.13L263.57,322.97L263.78,322.82L263.98,322.68L264.18,322.57L264.39,322.48L264.59,322.43L264.80,322.41L265.00,322.40L265.20,322.41L265.41,322.43L265.61,322.48L265.82,322.57L266.02,322.68L266.22,322.82L266.43,322.97L266.63,323.13L266.84,323.29L267.04,323.43L267.24,323.56L267.45,323.66L267.65,323.74L267.86,323.80L268.06,323.84L268.26,323.87L268.26,323.90Z" fill="#0fa06a"/>
<path d="M291.92,323.90L291.92,323.70L292.18,323.55L292.43,323.31L292.69,322.98L292.94,322.51L293.19,321.91L293.45,321.18L293.71,320.34L293.96,319.43L294.22,318.50L294.47,317.61L294.73,316.82L294.98,316.17L295.24,315.69L295.49,315.38L295.75,315.23L296.00,315.20L296.25,315.23L296.51,315.38L296.76,315.69L297.02,316.17L297.27,316.82L297.53,317.61L297.79,318.50L298.04,319.43L298.30,320.34L298.55,321.18L298.81,321.91L299.06,322.51L299.31,322.98L299.57,323.31L299.82,323.55L300.08,323.70L300.08,323.90Z" fill="#0fa06a"/>
<path d="M301.30,323.90L301.30,323.61L301.51,323.40L301.73,323.07L301.94,322.58L302.15,321.92L302.36,321.07L302.57,320.03L302.79,318.83L303.00,317.53L303.21,316.20L303.43,314.94L303.64,313.81L303.85,312.88L304.06,312.19L304.28,311.76L304.49,311.55L304.70,311.50L304.91,311.55L305.12,311.76L305.34,312.19L305.55,312.88L305.76,313.81L305.97,314.94L306.19,316.20L306.40,317.53L306.61,318.83L306.82,320.03L307.04,321.07L307.25,321.92L307.46,322.58L307.68,323.07L307.89,323.40L308.10,323.61L308.10,323.90Z" fill="#0fa06a"/>
<path d="M308.78,323.90L308.78,323.84L308.95,323.80L309.12,323.73L309.29,323.63L309.46,323.50L309.63,323.33L309.80,323.12L309.97,322.88L310.14,322.62L310.31,322.35L310.48,322.09L310.65,321.86L310.82,321.68L310.99,321.54L311.16,321.45L311.33,321.41L311.50,321.40L311.67,321.41L311.84,321.45L312.01,321.54L312.18,321.68L312.35,321.86L312.52,322.09L312.69,322.35L312.86,322.62L313.03,322.88L313.20,323.12L313.37,323.33L313.54,323.50L313.71,323.63L313.88,323.73L314.05,323.80L314.22,323.84L314.22,323.90Z" fill="#0fa06a"/>
<path d="M314.58,323.90L314.58,323.81L314.75,323.74L314.92,323.63L315.09,323.48L315.26,323.26L315.43,322.99L315.60,322.65L315.77,322.26L315.94,321.85L316.11,321.42L316.28,321.01L316.45,320.64L316.62,320.34L316.79,320.12L316.96,319.98L317.13,319.91L317.30,319.90L317.47,319.91L317.64,319.98L317.81,320.12L317.98,320.34L318.15,320.64L318.32,321.01L318.49,321.42L318.66,321.85L318.83,322.26L319.00,322.65L319.17,322.99L319.34,323.26L319.51,323.48L319.68,323.63L319.85,323.74L320.02,323.81L320.02,323.90Z" fill="#0fa06a"/>
<path d="M327.82,323.90L327.82,323.88L327.96,323.87L328.10,323.85L328.23,323.82L328.37,323.77L328.50,323.72L328.64,323.65L328.78,323.57L328.91,323.49L329.05,323.40L329.18,323.32L329.32,323.25L329.46,323.19L329.59,323.14L329.73,323.12L329.86,323.10L330.00,323.10L330.14,323.10L330.27,323.12L330.41,323.14L330.54,323.19L330.68,323.25L330.82,323.32L330.95,323.40L331.09,323.49L331.22,323.57L331.36,323.65L331.50,323.72L331.63,323.77L331.77,323.82L331.90,323.85L332.04,323.87L332.18,323.88L332.18,323.90Z" fill="#0fa06a"/>
<path d="M334.05,323.90L334.05,323.85L334.21,323.82L334.36,323.77L334.51,323.69L334.66,323.58L334.82,323.44L334.97,323.28L335.12,323.08L335.28,322.87L335.43,322.66L335.58,322.45L335.74,322.27L335.89,322.12L336.04,322.01L336.19,321.94L336.35,321.91L336.50,321.90L336.65,321.91L336.81,321.94L336.96,322.01L337.11,322.12L337.26,322.27L337.42,322.45L337.57,322.66L337.72,322.87L337.88,323.08L338.03,323.28L338.18,323.44L338.34,323.58L338.49,323.69L338.64,323.77L338.80,323.82L338.95,323.85L338.95,323.90Z" fill="#0fa06a"/>
<path d="M344.51,323.90L344.51,323.85L344.69,323.81L344.88,323.75L345.07,323.66L345.26,323.53L345.44,323.37L345.63,323.18L345.82,322.96L346.00,322.72L346.19,322.47L346.38,322.24L346.56,322.03L346.75,321.86L346.94,321.73L347.13,321.65L347.31,321.61L347.50,321.60L347.69,321.61L347.87,321.65L348.06,321.73L348.25,321.86L348.44,322.03L348.62,322.24L348.81,322.47L349.00,322.72L349.18,322.96L349.37,323.18L349.56,323.37L349.74,323.53L349.93,323.66L350.12,323.75L350.31,323.81L350.49,323.85L350.49,323.90Z" fill="#0fa06a"/>
<path d="M355.78,323.90L355.78,323.84L355.95,323.80L356.12,323.73L356.29,323.63L356.46,323.50L356.63,323.33L356.80,323.12L356.97,322.88L357.14,322.62L357.31,322.35L357.48,322.09L357.65,321.86L357.82,321.68L357.99,321.54L358.16,321.45L358.33,321.41L358.50,321.40L358.67,321.41L358.84,321.45L359.01,321.54L359.18,321.68L359.35,321.86L359.52,322.09L359.69,322.35L359.86,322.62L360.03,322.88L360.20,323.12L360.37,323.33L360.54,323.50L360.71,323.63L360.88,323.73L361.05,323.80L361.22,323.84L361.22,323.90Z" fill="#0fa06a"/>
<path d="M361.28,323.90L361.28,323.86L361.45,323.83L361.62,323.79L361.79,323.72L361.96,323.63L362.13,323.51L362.30,323.37L362.47,323.20L362.64,323.03L362.81,322.84L362.98,322.67L363.15,322.52L363.32,322.39L363.49,322.29L363.66,322.24L363.83,322.21L364.00,322.20L364.17,322.21L364.34,322.24L364.51,322.29L364.68,322.39L364.85,322.52L365.02,322.67L365.19,322.84L365.36,323.03L365.53,323.20L365.70,323.37L365.87,323.51L366.04,323.63L366.21,323.72L366.38,323.79L366.55,323.83L366.72,323.86L366.72,323.90Z" fill="#0fa06a"/>
<path d="M381.28,323.90L381.28,323.87L381.45,323.85L381.62,323.81L381.79,323.76L381.96,323.69L382.13,323.60L382.30,323.49L382.47,323.37L382.64,323.23L382.81,323.09L382.98,322.96L383.15,322.84L383.32,322.74L383.49,322.67L383.66,322.63L383.83,322.60L384.00,322.60L384.17,322.60L384.34,322.63L384.51,322.67L384.68,322.74L384.85,322.84L385.02,322.96L385.19,323.09L385.36,323.23L385.53,323.37L385.70,323.49L385.87,323.60L386.04,323.69L386.21,323.76L386.38,323.81L386.55,323.85L386.72,323.87L386.72,323.90Z" fill="#0fa06a"/>
<path d="M391.28,323.90L391.28,323.84L391.45,323.80L391.62,323.73L391.79,323.63L391.96,323.50L392.13,323.33L392.30,323.12L392.47,322.88L392.64,322.62L392.81,322.35L392.98,322.09L393.15,321.86L393.32,321.68L393.49,321.54L393.66,321.45L393.83,321.41L394.00,321.40L394.17,321.41L394.34,321.45L394.51,321.54L394.68,321.68L394.85,321.86L395.02,322.09L395.19,322.35L395.36,322.62L395.53,322.88L395.70,323.12L395.87,323.33L396.04,323.50L396.21,323.63L396.38,323.73L396.55,323.80L396.72,323.84L396.72,323.90Z" fill="#0fa06a"/>
<path d="M394.28,323.90L394.28,323.84L394.45,323.80L394.62,323.73L394.79,323.63L394.96,323.50L395.13,323.33L395.30,323.12L395.47,322.88L395.64,322.62L395.81,322.35L395.98,322.09L396.15,321.86L396.32,321.68L396.49,321.54L396.66,321.45L396.83,321.41L397.00,321.40L397.17,321.41L397.34,321.45L397.51,321.54L397.68,321.68L397.85,321.86L398.02,322.09L398.19,322.35L398.36,322.62L398.53,322.88L398.70,323.12L398.87,323.33L399.04,323.50L399.21,323.63L399.38,323.73L399.55,323.80L399.72,323.84L399.72,323.90Z" fill="#0fa06a"/>
<path d="M404.78,323.90L404.78,323.87L404.95,323.85L405.12,323.81L405.29,323.76L405.46,323.69L405.63,323.60L405.80,323.49L405.97,323.37L406.14,323.23L406.31,323.09L406.48,322.96L406.65,322.84L406.82,322.74L406.99,322.67L407.16,322.63L407.33,322.60L407.50,322.60L407.67,322.60L407.84,322.63L408.01,322.67L408.18,322.74L408.35,322.84L408.52,322.96L408.69,323.09L408.86,323.23L409.03,323.37L409.20,323.49L409.37,323.60L409.54,323.69L409.71,323.76L409.88,323.81L410.05,323.85L410.22,323.87L410.22,323.90Z" fill="#0fa06a"/>
<path d="M425.28,323.90L425.28,323.83L425.45,323.78L425.62,323.70L425.79,323.58L425.96,323.42L426.13,323.21L426.30,322.96L426.47,322.67L426.64,322.36L426.81,322.04L426.98,321.73L427.15,321.46L427.32,321.23L427.49,321.07L427.66,320.96L427.83,320.91L428.00,320.90L428.17,320.91L428.34,320.96L428.51,321.07L428.68,321.23L428.85,321.46L429.02,321.73L429.19,322.04L429.36,322.36L429.53,322.67L429.70,322.96L429.87,323.21L430.04,323.42L430.21,323.58L430.38,323.70L430.55,323.78L430.72,323.83L430.72,323.90Z" fill="#0fa06a"/>
<path d="M430.28,323.90L430.28,323.83L430.45,323.78L430.62,323.70L430.79,323.58L430.96,323.42L431.13,323.21L431.30,322.96L431.47,322.67L431.64,322.36L431.81,322.04L431.98,321.73L432.15,321.46L432.32,321.23L432.49,321.07L432.66,320.96L432.83,320.91L433.00,320.90L433.17,320.91L433.34,320.96L433.51,321.07L433.68,321.23L433.85,321.46L434.02,321.73L434.19,322.04L434.36,322.36L434.53,322.67L434.70,322.96L434.87,323.21L435.04,323.42L435.21,323.58L435.38,323.70L435.55,323.78L435.72,323.83L435.72,323.90Z" fill="#0fa06a"/>
<path d="M472.78,323.90L472.78,323.86L472.95,323.83L473.12,323.78L473.29,323.71L473.46,323.61L473.63,323.49L473.80,323.34L473.97,323.16L474.14,322.98L474.31,322.78L474.48,322.60L474.65,322.43L474.82,322.30L474.99,322.20L475.16,322.14L475.33,322.11L475.50,322.10L475.67,322.11L475.84,322.14L476.01,322.20L476.18,322.30L476.35,322.43L476.52,322.60L476.69,322.78L476.86,322.98L477.03,323.16L477.20,323.34L477.37,323.49L477.54,323.61L477.71,323.71L477.88,323.78L478.05,323.83L478.22,323.86L478.22,323.90Z" fill="#0fa06a"/>
<path d="M484.28,323.90L484.28,323.87L484.45,323.85L484.62,323.82L484.79,323.77L484.96,323.71L485.13,323.63L485.30,323.53L485.47,323.41L485.64,323.28L485.81,323.16L485.98,323.03L486.15,322.92L486.32,322.83L486.49,322.77L486.66,322.72L486.83,322.70L487.00,322.70L487.17,322.70L487.34,322.72L487.51,322.77L487.68,322.83L487.85,322.92L488.02,323.03L488.19,323.16L488.36,323.28L488.53,323.41L488.70,323.53L488.87,323.63L489.04,323.71L489.21,323.77L489.38,323.82L489.55,323.85L489.72,323.87L489.72,323.90Z" fill="#0fa06a"/>
<path d="M489.82,323.90L489.82,323.85L489.96,323.82L490.10,323.77L490.23,323.69L490.37,323.58L490.50,323.44L490.64,323.28L490.78,323.08L490.91,322.87L491.05,322.66L491.18,322.45L491.32,322.27L491.46,322.12L491.59,322.01L491.73,321.94L491.86,321.91L492.00,321.90L492.14,321.91L492.27,321.94L492.41,322.01L492.54,322.12L492.68,322.27L492.82,322.45L492.95,322.66L493.09,322.87L493.22,323.08L493.36,323.28L493.50,323.44L493.63,323.58L493.77,323.69L493.90,323.77L494.04,323.82L494.18,323.85L494.18,323.90Z" fill="#0fa06a"/>
<path d="M289,340.0L289.0,339.10L290.0,339.10L290.0,338.43L291.0,338.43L291,340.0Z" fill="#0fa06a"/>
<path d="M360,340.0L360.0,338.98L361.0,338.98L361.0,339.12L362.0,339.12L362.0,339.10L363.0,339.10L363.0,339.03L364.0,339.03L364.0,339.36L365.0,339.36L365.0,338.99L366.0,338.99L366.0,339.26L367.0,339.26L367,340.0Z" fill="#0fa06a"/>
<path d="M369,340.0L369.0,339.36L370.0,339.36L370.0,339.25L371.0,339.25L371.0,338.99L372.0,338.99L372.0,339.29L373.0,339.29L373.0,338.99L374.0,338.99L374.0,338.85L375.0,338.85L375,340.0Z" fill="#0fa06a"/>
<path d="M137.30,340.00L137.30,339.98L137.41,339.97L137.53,339.95L137.65,339.92L137.77,339.87L137.89,339.82L138.01,339.75L138.13,339.67L138.25,339.59L138.37,339.50L138.49,339.42L138.60,339.35L138.72,339.29L138.84,339.24L138.96,339.22L139.08,339.20L139.20,339.20L139.32,339.20L139.44,339.22L139.56,339.24L139.68,339.29L139.79,339.35L139.91,339.42L140.03,339.50L140.15,339.59L140.27,339.67L140.39,339.75L140.51,339.82L140.63,339.87L140.75,339.92L140.87,339.95L140.98,339.97L141.10,339.98L141.10,340.00Z" fill="#0fa06a"/>
<path d="M228.62,340.00L228.62,339.98L228.76,339.96L228.90,339.93L229.03,339.89L229.17,339.84L229.30,339.77L229.44,339.69L229.58,339.59L229.71,339.49L229.85,339.38L229.98,339.28L230.12,339.19L230.26,339.11L230.39,339.06L230.53,339.02L230.66,339.00L230.80,339.00L230.94,339.00L231.07,339.02L231.21,339.06L231.34,339.11L231.48,339.19L231.62,339.28L231.75,339.38L231.89,339.49L232.02,339.59L232.16,339.69L232.30,339.77L232.43,339.84L232.57,339.89L232.70,339.93L232.84,339.96L232.98,339.98L232.98,340.00Z" fill="#0fa06a"/>
<path d="M244.72,340.00L244.72,339.98L244.86,339.96L245.00,339.93L245.13,339.89L245.27,339.84L245.40,339.77L245.54,339.69L245.68,339.59L245.81,339.49L245.95,339.38L246.08,339.28L246.22,339.19L246.36,339.11L246.49,339.06L246.63,339.02L246.76,339.00L246.90,339.00L247.04,339.00L247.17,339.02L247.31,339.06L247.44,339.11L247.58,339.19L247.72,339.28L247.85,339.38L247.99,339.49L248.12,339.59L248.26,339.69L248.40,339.77L248.53,339.84L248.67,339.89L248.80,339.93L248.94,339.96L249.08,339.98L249.08,340.00Z" fill="#0fa06a"/>
<path d="M250.61,340.00L250.61,339.94L250.80,339.90L250.98,339.83L251.17,339.73L251.36,339.60L251.54,339.43L251.73,339.22L251.92,338.98L252.10,338.72L252.29,338.45L252.48,338.19L252.66,337.96L252.85,337.78L253.04,337.64L253.23,337.55L253.41,337.51L253.60,337.50L253.79,337.51L253.97,337.55L254.16,337.64L254.35,337.78L254.53,337.96L254.72,338.19L254.91,338.45L255.10,338.72L255.28,338.98L255.47,339.22L255.66,339.43L255.84,339.60L256.03,339.73L256.22,339.83L256.40,339.90L256.59,339.94L256.59,340.00Z" fill="#0fa06a"/>
<path d="M251.71,340.00L251.71,339.94L251.90,339.90L252.08,339.83L252.27,339.73L252.46,339.60L252.64,339.43L252.83,339.22L253.02,338.98L253.20,338.72L253.39,338.45L253.58,338.19L253.76,337.96L253.95,337.78L254.14,337.64L254.33,337.55L254.51,337.51L254.70,337.50L254.89,337.51L255.07,337.55L255.26,337.64L255.45,337.78L255.63,337.96L255.82,338.19L256.01,338.45L256.20,338.72L256.38,338.98L256.57,339.22L256.76,339.43L256.94,339.60L257.13,339.73L257.32,339.83L257.50,339.90L257.69,339.94L257.69,340.00Z" fill="#0fa06a"/>
<path d="M258.37,340.00L258.37,339.99L258.47,339.98L258.57,339.96L258.67,339.94L258.78,339.90L258.88,339.86L258.98,339.81L259.08,339.75L259.18,339.69L259.29,339.63L259.39,339.57L259.49,339.51L259.59,339.47L259.69,339.43L259.80,339.41L259.90,339.40L260.00,339.40L260.10,339.40L260.20,339.41L260.31,339.43L260.41,339.47L260.51,339.51L260.61,339.57L260.71,339.63L260.82,339.69L260.92,339.75L261.02,339.81L261.12,339.86L261.22,339.90L261.33,339.94L261.43,339.96L261.53,339.98L261.63,339.99L261.63,340.00Z" fill="#0fa06a"/>
<path d="M291.83,340.00L291.83,339.72L292.00,339.51L292.17,339.19L292.35,338.71L292.52,338.07L292.69,337.24L292.87,336.22L293.04,335.05L293.21,333.78L293.39,332.49L293.56,331.25L293.73,330.15L293.91,329.24L294.08,328.57L294.25,328.15L294.43,327.94L294.60,327.90L294.83,327.94L295.07,328.15L295.30,328.57L295.54,329.24L295.77,330.15L296.01,331.25L296.24,332.49L296.48,333.78L296.71,335.05L296.95,336.22L297.18,337.24L297.42,338.07L297.65,338.71L297.88,339.19L298.12,339.51L298.35,339.72L298.35,340.00Z" fill="#0fa06a"/>
<path d="M302.07,340.00L302.07,339.80L302.27,339.66L302.46,339.43L302.66,339.10L302.85,338.64L303.05,338.06L303.25,337.35L303.44,336.52L303.64,335.63L303.83,334.72L304.03,333.86L304.22,333.08L304.42,332.44L304.61,331.97L304.81,331.68L305.00,331.53L305.20,331.50L305.40,331.53L305.59,331.68L305.79,331.97L305.98,332.44L306.18,333.08L306.37,333.86L306.57,334.72L306.76,335.63L306.96,336.52L307.15,337.35L307.35,338.06L307.55,338.64L307.74,339.10L307.94,339.43L308.13,339.66L308.33,339.80L308.33,340.00Z" fill="#0fa06a"/>
<path d="M351.74,340.00L351.74,339.97L351.94,339.94L352.14,339.90L352.35,339.84L352.55,339.76L352.76,339.66L352.96,339.53L353.16,339.39L353.37,339.23L353.57,339.07L353.78,338.92L353.98,338.78L354.18,338.67L354.39,338.58L354.59,338.53L354.80,338.51L355.00,338.50L355.20,338.51L355.41,338.53L355.61,338.58L355.82,338.67L356.02,338.78L356.22,338.92L356.43,339.07L356.63,339.23L356.84,339.39L357.04,339.53L357.24,339.66L357.45,339.76L357.65,339.84L357.86,339.90L358.06,339.94L358.26,339.97L358.26,340.00Z" fill="#0fa06a"/>
<path d="M359.28,340.00L359.28,339.97L359.45,339.95L359.62,339.91L359.79,339.86L359.96,339.79L360.13,339.70L360.30,339.59L360.47,339.47L360.64,339.33L360.81,339.19L360.98,339.06L361.15,338.94L361.32,338.84L361.49,338.77L361.66,338.73L361.83,338.70L362.00,338.70L362.17,338.70L362.34,338.73L362.51,338.77L362.68,338.84L362.85,338.94L363.02,339.06L363.19,339.19L363.36,339.33L363.53,339.47L363.70,339.59L363.87,339.70L364.04,339.79L364.21,339.86L364.38,339.91L364.55,339.95L364.72,339.97L364.72,340.00Z" fill="#0fa06a"/>
<path d="M362.28,340.00L362.28,339.97L362.45,339.95L362.62,339.91L362.79,339.86L362.96,339.79L363.13,339.70L363.30,339.59L363.47,339.47L363.64,339.33L363.81,339.19L363.98,339.06L364.15,338.94L364.32,338.84L364.49,338.77L364.66,338.73L364.83,338.70L365.00,338.70L365.17,338.70L365.34,338.73L365.51,338.77L365.68,338.84L365.85,338.94L366.02,339.06L366.19,339.19L366.36,339.33L366.53,339.47L366.70,339.59L366.87,339.70L367.04,339.79L367.21,339.86L367.38,339.91L367.55,339.95L367.72,339.97L367.72,340.00Z" fill="#0fa06a"/>
<path d="M379.87,340.00L379.87,339.99L379.97,339.98L380.07,339.97L380.17,339.95L380.28,339.92L380.38,339.89L380.48,339.84L380.58,339.80L380.68,339.74L380.79,339.69L380.89,339.64L380.99,339.59L381.09,339.56L381.19,339.53L381.30,339.51L381.40,339.50L381.50,339.50L381.60,339.50L381.70,339.51L381.81,339.53L381.91,339.56L382.01,339.59L382.11,339.64L382.21,339.69L382.32,339.74L382.42,339.80L382.52,339.84L382.62,339.89L382.72,339.92L382.83,339.95L382.93,339.97L383.03,339.98L383.13,339.99L383.13,340.00Z" fill="#0fa06a"/>
<path d="M384.68,340.00L384.68,339.97L384.85,339.94L385.02,339.90L385.19,339.84L385.36,339.76L385.53,339.66L385.70,339.53L385.87,339.39L386.04,339.23L386.21,339.07L386.38,338.92L386.55,338.78L386.72,338.67L386.89,338.58L387.06,338.53L387.23,338.51L387.40,338.50L387.57,338.51L387.74,338.53L387.91,338.58L388.08,338.67L388.25,338.78L388.42,338.92L388.59,339.07L388.76,339.23L388.93,339.39L389.10,339.53L389.27,339.66L389.44,339.76L389.61,339.84L389.78,339.90L389.95,339.94L390.12,339.97L390.12,340.00Z" fill="#0fa06a"/>
<path d="M392.78,340.00L392.78,339.97L392.95,339.95L393.12,339.92L393.29,339.87L393.46,339.81L393.63,339.73L393.80,339.63L393.97,339.51L394.14,339.38L394.31,339.26L394.48,339.13L394.65,339.02L394.82,338.93L394.99,338.87L395.16,338.82L395.33,338.80L395.50,338.80L395.67,338.80L395.84,338.82L396.01,338.87L396.18,338.93L396.35,339.02L396.52,339.13L396.69,339.26L396.86,339.38L397.03,339.51L397.20,339.63L397.37,339.73L397.54,339.81L397.71,339.87L397.88,339.92L398.05,339.95L398.22,339.97L398.22,340.00Z" fill="#0fa06a"/>
<path d="M412.71,340.00L412.71,339.92L412.89,339.86L413.08,339.76L413.27,339.63L413.46,339.44L413.64,339.20L413.83,338.91L414.02,338.57L414.20,338.20L414.39,337.83L414.58,337.47L414.76,337.15L414.95,336.89L415.14,336.70L415.33,336.57L415.51,336.51L415.70,336.50L415.89,336.51L416.07,336.57L416.26,336.70L416.45,336.89L416.63,337.15L416.82,337.47L417.01,337.83L417.20,338.20L417.38,338.57L417.57,338.91L417.76,339.20L417.94,339.44L418.13,339.63L418.32,339.76L418.50,339.86L418.69,339.92L418.69,340.00Z" fill="#0fa06a"/>
<path d="M420.82,340.00L420.82,339.98L420.96,339.97L421.10,339.95L421.23,339.92L421.37,339.87L421.50,339.82L421.64,339.75L421.78,339.67L421.91,339.59L422.05,339.50L422.18,339.42L422.32,339.35L422.46,339.29L422.59,339.24L422.73,339.22L422.86,339.20L423.00,339.20L423.14,339.20L423.27,339.22L423.41,339.24L423.54,339.29L423.68,339.35L423.82,339.42L423.95,339.50L424.09,339.59L424.22,339.67L424.36,339.75L424.50,339.82L424.63,339.87L424.77,339.92L424.90,339.95L425.04,339.97L425.18,339.98L425.18,340.00Z" fill="#0fa06a"/>
<path d="M425.82,340.00L425.82,339.98L425.96,339.97L426.10,339.95L426.23,339.92L426.37,339.87L426.50,339.82L426.64,339.75L426.78,339.67L426.91,339.59L427.05,339.50L427.18,339.42L427.32,339.35L427.46,339.29L427.59,339.24L427.73,339.22L427.86,339.20L428.00,339.20L428.14,339.20L428.27,339.22L428.41,339.24L428.54,339.29L428.68,339.35L428.82,339.42L428.95,339.50L429.09,339.59L429.22,339.67L429.36,339.75L429.50,339.82L429.63,339.87L429.77,339.92L429.90,339.95L430.04,339.97L430.18,339.98L430.18,340.00Z" fill="#0fa06a"/>
<path d="M123,356.2L123.0,355.54L124.0,355.54L124.0,355.59L125.0,355.59L125,356.2Z" fill="#0fa06a"/>
<path d="M130,356.2L130.0,355.55L131.0,355.55L131.0,355.46L132.0,355.46L132,356.2Z" fill="#0fa06a"/>
<path d="M152,356.2L152.0,355.43L153.0,355.43L153.0,355.49L154.0,355.49L154.0,355.48L155.0,355.48L155,356.2Z" fill="#0fa06a"/>
<path d="M163,356.2L163.0,355.72L164.0,355.72L164.0,355.69L165.0,355.69L165,356.2Z" fill="#0fa06a"/>
<path d="M180,356.2L180.0,355.64L181.0,355.64L181.0,355.44L182.0,355.44L182,356.2Z" fill="#0fa06a"/>
<path d="M189,356.2L189.0,355.62L190.0,355.62L190.0,355.51L191.0,355.51L191,356.2Z" fill="#0fa06a"/>
<path d="M197,356.2L197.0,355.74L198.0,355.74L198.0,355.72L199.0,355.72L199,356.2Z" fill="#0fa06a"/>
<path d="M206,356.2L206.0,355.64L207.0,355.64L207.0,355.47L208.0,355.47L208,356.2Z" fill="#0fa06a"/>
<path d="M213,356.2L213.0,355.46L214.0,355.46L214.0,355.47L215.0,355.47L215,356.2Z" fill="#0fa06a"/>
<path d="M220,356.2L220.0,355.63L221.0,355.63L221.0,355.53L222.0,355.53L222.0,355.55L223.0,355.55L223.0,355.55L224.0,355.55L224,356.2Z" fill="#0fa06a"/>
<path d="M236,356.2L236.0,355.70L237.0,355.70L237.0,355.37L238.0,355.37L238.0,355.67L239.0,355.67L239.0,355.34L240.0,355.34L240.0,355.36L241.0,355.36L241,356.2Z" fill="#0fa06a"/>
<path d="M253,356.2L253.0,355.74L254.0,355.74L254.0,355.56L255.0,355.56L255.0,355.41L256.0,355.41L256.0,355.34L257.0,355.34L257.0,355.56L258.0,355.56L258.0,355.64L259.0,355.64L259.0,355.66L260.0,355.66L260.0,355.35L261.0,355.35L261.0,355.66L262.0,355.66L262,356.2Z" fill="#0fa06a"/>
<path d="M277,356.2L277.0,355.51L278.0,355.51L278.0,355.69L279.0,355.69L279.0,355.53L280.0,355.53L280.0,355.35L281.0,355.35L281.0,355.69L282.0,355.69L282.0,355.41L283.0,355.41L283.0,355.54L284.0,355.54L284.0,355.38L285.0,355.38L285.0,355.45L286.0,355.45L286,356.2Z" fill="#0fa06a"/>
<path d="M288,356.2L288.0,354.99L289.0,354.99L289.0,354.03L290.0,354.03L290.0,354.62L291.0,354.62L291.0,355.28L292.0,355.28L292.0,355.31L293.0,355.31L293.0,354.61L294.0,354.61L294.0,354.67L295.0,354.67L295.0,354.89L296.0,354.89L296.0,355.12L297.0,355.12L297,356.2Z" fill="#0fa06a"/>
<path d="M316,356.2L316.0,355.70L317.0,355.70L317.0,355.71L318.0,355.71L318.0,355.53L319.0,355.53L319.0,355.82L320.0,355.82L320,356.2Z" fill="#0fa06a"/>
<path d="M317,356.2L317.0,355.60L318.0,355.60L318,356.2Z" fill="#0fa06a"/>
<path d="M329,356.2L329.0,355.60L330.0,355.60L330,356.2Z" fill="#0fa06a"/>
<path d="M333,356.2L333.0,355.60L334.0,355.60L334,356.2Z" fill="#0fa06a"/>
<path d="M338,356.2L338.0,355.43L339.0,355.43L339.0,355.40L340.0,355.40L340.0,355.70L341.0,355.70L341,356.2Z" fill="#0fa06a"/>
<path d="M344,356.2L344.0,355.60L345.0,355.60L345,356.2Z" fill="#0fa06a"/>
<path d="M359,356.2L359.0,355.60L360.0,355.60L360,356.2Z" fill="#0fa06a"/>
<path d="M371,356.2L371.0,355.36L372.0,355.36L372.0,355.45L373.0,355.45L373.0,355.37L374.0,355.37L374.0,355.63L375.0,355.63L375,356.2Z" fill="#0fa06a"/>
<path d="M382,356.2L382.0,355.59L383.0,355.59L383.0,355.58L384.0,355.58L384,356.2Z" fill="#0fa06a"/>
<path d="M386,356.2L386.0,355.60L387.0,355.60L387,356.2Z" fill="#0fa06a"/>
<path d="M390,356.2L390.0,355.60L391.0,355.60L391,356.2Z" fill="#0fa06a"/>
<path d="M402,356.2L402.0,355.60L403.0,355.60L403,356.2Z" fill="#0fa06a"/>
<path d="M407,356.2L407.0,355.60L408.0,355.60L408,356.2Z" fill="#0fa06a"/>
<path d="M437,356.2L437.0,355.70L438.0,355.70L438,356.2Z" fill="#0fa06a"/>
<path d="M450,356.2L450.0,355.48L451.0,355.48L451.0,355.62L452.0,355.62L452.0,355.70L453.0,355.70L453.0,355.68L454.0,355.68L454.0,355.73L455.0,355.73L455.0,355.81L456.0,355.81L456.0,355.79L457.0,355.79L457,356.2Z" fill="#0fa06a"/>
<path d="M460,356.2L460.0,355.53L461.0,355.53L461.0,355.73L462.0,355.73L462,356.2Z" fill="#0fa06a"/>
<path d="M468,356.2L468.0,355.50L469.0,355.50L469.0,355.74L470.0,355.74L470.0,355.73L471.0,355.73L471.0,355.65L472.0,355.65L472,356.2Z" fill="#0fa06a"/>
<path d="M475,356.2L475.0,355.76L476.0,355.76L476.0,355.69L477.0,355.69L477.0,355.49L478.0,355.49L478,356.2Z" fill="#0fa06a"/>
<path d="M480,356.2L480.0,355.52L481.0,355.52L481.0,355.54L482.0,355.54L482.0,355.60L483.0,355.60L483.0,355.51L484.0,355.51L484.0,355.50L485.0,355.50L485.0,355.63L486.0,355.63L486.0,355.57L487.0,355.57L487,356.2Z" fill="#0fa06a"/>
<path d="M490,356.2L490.0,355.81L491.0,355.81L491.0,355.57L492.0,355.57L492,356.2Z" fill="#0fa06a"/>
<path d="M496,356.2L496.0,355.70L497.0,355.70L497,356.2Z" fill="#0fa06a"/>
<path d="M506,356.2L506.0,355.67L507.0,355.67L507.0,355.56L508.0,355.56L508.0,355.60L509.0,355.60L509.0,355.72L510.0,355.72L510,356.2Z" fill="#0fa06a"/>
<path d="M136.89,356.20L136.89,355.90L137.03,355.68L137.18,355.34L137.32,354.84L137.47,354.16L137.61,353.28L137.75,352.20L137.90,350.97L138.04,349.62L138.19,348.26L138.33,346.95L138.48,345.78L138.62,344.82L138.77,344.11L138.91,343.66L139.06,343.45L139.20,343.40L139.34,343.45L139.49,343.66L139.63,344.11L139.78,344.82L139.92,345.78L140.07,346.95L140.21,348.26L140.36,349.62L140.50,350.97L140.64,352.20L140.79,353.28L140.93,354.16L141.08,354.84L141.22,355.34L141.37,355.68L141.51,355.90L141.51,356.20Z" fill="#0fa06a"/>
<path d="M228.08,356.20L228.08,356.06L228.25,355.96L228.42,355.80L228.59,355.56L228.76,355.24L228.93,354.83L229.10,354.33L229.27,353.75L229.44,353.12L229.61,352.48L229.78,351.86L229.95,351.32L230.12,350.87L230.29,350.53L230.46,350.32L230.63,350.22L230.80,350.20L230.97,350.22L231.14,350.32L231.31,350.53L231.48,350.87L231.65,351.32L231.82,351.86L231.99,352.48L232.16,353.12L232.33,353.75L232.50,354.33L232.67,354.83L232.84,355.24L233.01,355.56L233.18,355.80L233.35,355.96L233.52,356.06L233.52,356.20Z" fill="#0fa06a"/>
<path d="M302.48,356.20L302.48,356.04L302.65,355.92L302.82,355.73L302.99,355.46L303.16,355.08L303.33,354.60L303.50,354.01L303.67,353.34L303.84,352.60L304.01,351.86L304.18,351.14L304.35,350.50L304.52,349.98L304.69,349.59L304.86,349.34L305.03,349.23L305.20,349.20L305.37,349.23L305.54,349.34L305.71,349.59L305.88,349.98L306.05,350.50L306.22,351.14L306.39,351.86L306.56,352.60L306.73,353.34L306.90,354.01L307.07,354.60L307.24,355.08L307.41,355.46L307.58,355.73L307.75,355.92L307.92,356.04L307.92,356.20Z" fill="#0fa06a"/>
<path d="M393.05,356.20L393.05,355.98L393.21,355.82L393.36,355.57L393.51,355.20L393.66,354.70L393.82,354.05L393.97,353.26L394.12,352.36L394.28,351.37L394.43,350.37L394.58,349.40L394.74,348.55L394.89,347.84L395.04,347.32L395.19,346.99L395.35,346.83L395.50,346.80L395.65,346.83L395.81,346.99L395.96,347.32L396.11,347.84L396.26,348.55L396.42,349.40L396.57,350.37L396.72,351.37L396.88,352.36L397.03,353.26L397.18,354.05L397.34,354.70L397.49,355.20L397.64,355.57L397.80,355.82L397.95,355.98L397.95,356.20Z" fill="#0fa06a"/>
<path d="M412.98,356.20L412.98,356.01L413.15,355.86L413.32,355.64L413.49,355.32L413.66,354.88L413.83,354.30L414.00,353.61L414.17,352.81L414.34,351.94L414.51,351.05L414.68,350.20L414.85,349.44L415.02,348.82L415.19,348.36L415.36,348.07L415.53,347.93L415.70,347.90L415.87,347.93L416.04,348.07L416.21,348.36L416.38,348.82L416.55,349.44L416.72,350.20L416.89,351.05L417.06,351.94L417.23,352.81L417.40,353.61L417.57,354.30L417.74,354.88L417.91,355.32L418.08,355.64L418.25,355.86L418.42,356.01L418.42,356.20Z" fill="#0fa06a"/>
<path d="M409.24,356.20L409.24,356.14L409.44,356.10L409.64,356.03L409.85,355.93L410.05,355.80L410.26,355.63L410.46,355.42L410.66,355.18L410.87,354.92L411.07,354.65L411.28,354.39L411.48,354.16L411.68,353.98L411.89,353.84L412.09,353.75L412.30,353.71L412.50,353.70L412.70,353.71L412.91,353.75L413.11,353.84L413.32,353.98L413.52,354.16L413.72,354.39L413.93,354.65L414.13,354.92L414.34,355.18L414.54,355.42L414.74,355.63L414.95,355.80L415.15,355.93L415.36,356.03L415.56,356.10L415.76,356.14L415.76,356.20Z" fill="#0fa06a"/>
<path d="M415.74,356.20L415.74,356.14L415.94,356.10L416.14,356.03L416.35,355.93L416.55,355.80L416.76,355.63L416.96,355.42L417.16,355.18L417.37,354.92L417.57,354.65L417.78,354.39L417.98,354.16L418.18,353.98L418.39,353.84L418.59,353.75L418.80,353.71L419.00,353.70L419.20,353.71L419.41,353.75L419.61,353.84L419.82,353.98L420.02,354.16L420.22,354.39L420.43,354.65L420.63,354.92L420.84,355.18L421.04,355.42L421.24,355.63L421.45,355.80L421.65,355.93L421.86,356.03L422.06,356.10L422.26,356.14L422.26,356.20Z" fill="#0fa06a"/>
<path d="M424.28,356.20L424.28,356.13L424.45,356.08L424.62,356.00L424.79,355.88L424.96,355.72L425.13,355.51L425.30,355.26L425.47,354.97L425.64,354.66L425.81,354.34L425.98,354.03L426.15,353.76L426.32,353.53L426.49,353.37L426.66,353.26L426.83,353.21L427.00,353.20L427.17,353.21L427.34,353.26L427.51,353.37L427.68,353.53L427.85,353.76L428.02,354.03L428.19,354.34L428.36,354.66L428.53,354.97L428.70,355.26L428.87,355.51L429.04,355.72L429.21,355.88L429.38,356.00L429.55,356.08L429.72,356.13L429.72,356.20Z" fill="#0fa06a"/>
<path d="M482.28,356.20L482.28,356.14L482.45,356.10L482.62,356.03L482.79,355.93L482.96,355.80L483.13,355.63L483.30,355.42L483.47,355.18L483.64,354.92L483.81,354.65L483.98,354.39L484.15,354.16L484.32,353.98L484.49,353.84L484.66,353.75L484.83,353.71L485.00,353.70L485.17,353.71L485.34,353.75L485.51,353.84L485.68,353.98L485.85,354.16L486.02,354.39L486.19,354.65L486.36,354.92L486.53,355.18L486.70,355.42L486.87,355.63L487.04,355.80L487.21,355.93L487.38,356.03L487.55,356.10L487.72,356.14L487.72,356.20Z" fill="#0fa06a"/>
<path d="M117,372.1L117.0,370.53L118.0,370.53L118.0,368.44L119.0,368.44L119.0,370.34L120.0,370.34L120.0,369.52L121.0,369.52L121.0,369.83L122.0,369.83L122,372.1Z" fill="#0fa06a"/>
<path d="M123,372.1L123.0,369.94L124.0,369.94L124.0,368.89L125.0,368.89L125.0,368.32L126.0,368.32L126,372.1Z" fill="#0fa06a"/>
<path d="M127,372.1L127.0,370.92L128.0,370.92L128.0,370.57L129.0,370.57L129.0,370.88L130.0,370.88L130,372.1Z" fill="#0fa06a"/>
<path d="M132,372.1L132.0,369.08L133.0,369.08L133.0,369.50L134.0,369.50L134.0,370.09L135.0,370.09L135.0,370.10L136.0,370.10L136.0,369.98L137.0,369.98L137,372.1Z" fill="#0fa06a"/>
<path d="M137,372.1L137.0,367.70L138.0,367.70L138.0,368.89L139.0,368.89L139.0,369.69L140.0,369.69L140.0,367.70L141.0,367.70L141.0,367.44L142.0,367.44L142.0,369.03L143.0,369.03L143.0,369.92L144.0,369.92L144.0,369.77L145.0,369.77L145.0,370.07L146.0,370.07L146.0,369.34L147.0,369.34L147,372.1Z" fill="#0fa06a"/>
<path d="M149,372.1L149.0,370.07L150.0,370.07L150.0,369.64L151.0,369.64L151.0,369.58L152.0,369.58L152.0,368.68L153.0,368.68L153.0,367.76L154.0,367.76L154.0,368.16L155.0,368.16L155.0,369.13L156.0,369.13L156,372.1Z" fill="#0fa06a"/>
<path d="M158,372.1L158.0,369.98L159.0,369.98L159.0,369.75L160.0,369.75L160.0,370.05L161.0,370.05L161,372.1Z" fill="#0fa06a"/>
<path d="M163,372.1L163.0,369.35L164.0,369.35L164.0,370.15L165.0,370.15L165.0,369.52L166.0,369.52L166,372.1Z" fill="#0fa06a"/>
<path d="M167,372.1L167.0,366.87L168.0,366.87L168.0,369.66L169.0,369.66L169.0,368.41L170.0,368.41L170,372.1Z" fill="#0fa06a"/>
<path d="M175,372.1L175.0,370.73L176.0,370.73L176.0,370.54L177.0,370.54L177,372.1Z" fill="#0fa06a"/>
<path d="M182,372.1L182.0,369.70L183.0,369.70L183.0,369.54L184.0,369.54L184.0,369.61L185.0,369.61L185,372.1Z" fill="#0fa06a"/>
<path d="M185,372.1L185.0,369.17L186.0,369.17L186.0,369.04L187.0,369.04L187.0,367.56L188.0,367.56L188.0,367.87L189.0,367.87L189.0,367.80L190.0,367.80L190.0,370.27L191.0,370.27L191,372.1Z" fill="#0fa06a"/>
<path d="M194,372.1L194.0,370.24L195.0,370.24L195.0,368.27L196.0,368.27L196.0,367.73L197.0,367.73L197,372.1Z" fill="#0fa06a"/>
<path d="M199,372.1L199.0,370.86L200.0,370.86L200.0,370.76L201.0,370.76L201,372.1Z" fill="#0fa06a"/>
<path d="M203,372.1L203.0,370.83L204.0,370.83L204.0,370.02L205.0,370.02L205.0,368.92L206.0,368.92L206.0,369.13L207.0,369.13L207.0,369.06L208.0,369.06L208.0,368.82L209.0,368.82L209,372.1Z" fill="#0fa06a"/>
<path d="M210,372.1L210.0,370.77L211.0,370.77L211.0,370.98L212.0,370.98L212.0,370.91L213.0,370.91L213,372.1Z" fill="#0fa06a"/>
<path d="M216,372.1L216.0,369.75L217.0,369.75L217.0,369.42L218.0,369.42L218.0,368.89L219.0,368.89L219.0,369.34L220.0,369.34L220.0,369.49L221.0,369.49L221.0,369.25L222.0,369.25L222,372.1Z" fill="#0fa06a"/>
<path d="M224,372.1L224.0,370.87L225.0,370.87L225.0,370.79L226.0,370.79L226.0,371.21L227.0,371.21L227,372.1Z" fill="#0fa06a"/>
<path d="M229,372.1L229.0,369.22L230.0,369.22L230.0,370.35L231.0,370.35L231.0,368.93L232.0,368.93L232.0,369.50L233.0,369.50L233.0,370.21L234.0,370.21L234.0,370.57L235.0,370.57L235.0,370.31L236.0,370.31L236.0,369.52L237.0,369.52L237.0,369.39L238.0,369.39L238.0,370.60L239.0,370.60L239.0,370.69L240.0,370.69L240,372.1Z" fill="#0fa06a"/>
<path d="M244,372.1L244.0,370.34L245.0,370.34L245.0,370.25L246.0,370.25L246.0,370.55L247.0,370.55L247.0,370.80L248.0,370.80L248.0,370.22L249.0,370.22L249,372.1Z" fill="#0fa06a"/>
<path d="M252,372.1L252.0,370.81L253.0,370.81L253.0,370.21L254.0,370.21L254.0,369.88L255.0,369.88L255,372.1Z" fill="#0fa06a"/>
<path d="M256,372.1L256.0,368.85L257.0,368.85L257.0,369.50L258.0,369.50L258.0,369.01L259.0,369.01L259.0,369.85L260.0,369.85L260.0,370.35L261.0,370.35L261,372.1Z" fill="#0fa06a"/>
<path d="M270,372.1L270.0,371.04L271.0,371.04L271.0,370.46L272.0,370.46L272,372.1Z" fill="#0fa06a"/>
<path d="M277,372.1L277.0,370.67L278.0,370.67L278.0,370.99L279.0,370.99L279,372.1Z" fill="#0fa06a"/>
<path d="M281,372.1L281.0,371.22L282.0,371.22L282.0,370.84L283.0,370.84L283,372.1Z" fill="#0fa06a"/>
<path d="M288,372.1L288.0,369.97L289.0,369.97L289.0,370.39L290.0,370.39L290.0,370.66L291.0,370.66L291.0,369.98L292.0,369.98L292.0,369.56L293.0,369.56L293.0,370.71L294.0,370.71L294.0,371.03L295.0,371.03L295.0,370.53L296.0,370.53L296.0,370.39L297.0,370.39L297.0,369.96L298.0,369.96L298.0,370.76L299.0,370.76L299.0,369.77L300.0,369.77L300.0,369.86L301.0,369.86L301.0,370.25L302.0,370.25L302.0,370.75L303.0,370.75L303.0,369.48L304.0,369.48L304.0,370.57L305.0,370.57L305.0,369.73L306.0,369.73L306.0,370.71L307.0,370.71L307.0,370.72L308.0,370.72L308.0,369.83L309.0,369.83L309.0,370.60L310.0,370.60L310.0,369.51L311.0,369.51L311.0,370.27L312.0,370.27L312,372.1Z" fill="#0fa06a"/>
<path d="M306,372.1L306.0,368.30L307.0,368.30L307.0,368.13L308.0,368.13L308.0,367.21L309.0,367.21L309.0,366.02L310.0,366.02L310.0,364.67L311.0,364.67L311.0,368.49L312.0,368.49L312,372.1Z" fill="#0fa06a"/>
<path d="M314,372.1L314.0,370.75L315.0,370.75L315.0,370.99L316.0,370.99L316.0,369.97L317.0,369.97L317.0,371.09L318.0,371.09L318.0,371.21L319.0,371.21L319.0,371.20L320.0,371.20L320.0,370.75L321.0,370.75L321,372.1Z" fill="#0fa06a"/>
<path d="M325,372.1L325.0,368.98L326.0,368.98L326.0,369.01L327.0,369.01L327.0,369.32L328.0,369.32L328.0,368.77L329.0,368.77L329.0,368.91L330.0,368.91L330,372.1Z" fill="#0fa06a"/>
<path d="M338,372.1L338.0,369.37L339.0,369.37L339.0,369.79L340.0,369.79L340.0,367.62L341.0,367.62L341.0,368.17L342.0,368.17L342.0,370.24L343.0,370.24L343.0,368.40L344.0,368.40L344.0,369.23L345.0,369.23L345.0,369.25L346.0,369.25L346.0,369.37L347.0,369.37L347,372.1Z" fill="#0fa06a"/>
<path d="M349,372.1L349.0,370.08L350.0,370.08L350.0,370.51L351.0,370.51L351.0,369.79L352.0,369.79L352,372.1Z" fill="#0fa06a"/>
<path d="M358,372.1L358.0,369.11L359.0,369.11L359.0,367.24L360.0,367.24L360.0,369.82L361.0,369.82L361.0,367.21L362.0,367.21L362.0,369.56L363.0,369.56L363.0,369.10L364.0,369.10L364.0,367.65L365.0,367.65L365.0,367.65L366.0,367.65L366,372.1Z" fill="#0fa06a"/>
<path d="M369,372.1L369.0,370.80L370.0,370.80L370.0,371.28L371.0,371.28L371.0,370.75L372.0,370.75L372,372.1Z" fill="#0fa06a"/>
<path d="M373,372.1L373.0,368.54L374.0,368.54L374.0,366.56L375.0,366.56L375.0,369.19L376.0,369.19L376.0,368.57L377.0,368.57L377.0,366.64L378.0,366.64L378.0,369.78L379.0,369.78L379.0,368.40L380.0,368.40L380.0,366.95L381.0,366.95L381.0,367.11L382.0,367.11L382.0,369.74L383.0,369.74L383.0,369.76L384.0,369.76L384.0,369.66L385.0,369.66L385,372.1Z" fill="#0fa06a"/>
<path d="M380,372.1L380.0,366.55L381.0,366.55L381.0,368.96L382.0,368.96L382.0,367.18L383.0,367.18L383.0,366.63L384.0,366.63L384.0,368.66L385.0,368.66L385.0,368.90L386.0,368.90L386,372.1Z" fill="#0fa06a"/>
<path d="M390,372.1L390.0,368.04L391.0,368.04L391.0,368.92L392.0,368.92L392.0,369.84L393.0,369.84L393.0,368.66L394.0,368.66L394.0,369.70L395.0,369.70L395.0,369.81L396.0,369.81L396.0,370.51L397.0,370.51L397.0,368.56L398.0,368.56L398,372.1Z" fill="#0fa06a"/>
<path d="M400,372.1L400.0,368.94L401.0,368.94L401.0,369.52L402.0,369.52L402.0,368.88L403.0,368.88L403,372.1Z" fill="#0fa06a"/>
<path d="M408,372.1L408.0,370.46L409.0,370.46L409.0,369.91L410.0,369.91L410.0,369.29L411.0,369.29L411.0,368.04L412.0,368.04L412.0,368.05L413.0,368.05L413.0,369.52L414.0,369.52L414.0,369.87L415.0,369.87L415.0,369.41L416.0,369.41L416,372.1Z" fill="#0fa06a"/>
<path d="M427,372.1L427.0,370.84L428.0,370.84L428.0,370.49L429.0,370.49L429.0,371.09L430.0,371.09L430.0,370.59L431.0,370.59L431.0,370.64L432.0,370.64L432.0,370.58L433.0,370.58L433,372.1Z" fill="#0fa06a"/>
<path d="M442,372.1L442.0,369.95L443.0,369.95L443.0,370.21L444.0,370.21L444.0,370.64L445.0,370.64L445.0,370.66L446.0,370.66L446.0,370.59L447.0,370.59L447,372.1Z" fill="#0fa06a"/>
<path d="M453,372.1L453.0,368.78L454.0,368.78L454.0,370.46L455.0,370.46L455.0,370.18L456.0,370.18L456.0,368.85L457.0,368.85L457.0,370.06L458.0,370.06L458.0,370.49L459.0,370.49L459,372.1Z" fill="#0fa06a"/>
<path d="M464,372.1L464.0,371.10L465.0,371.10L465.0,370.29L466.0,370.29L466.0,370.65L467.0,370.65L467.0,369.63L468.0,369.63L468.0,369.78L469.0,369.78L469,372.1Z" fill="#0fa06a"/>
<path d="M469,372.1L469.0,369.12L470.0,369.12L470.0,370.47L471.0,370.47L471.0,370.80L472.0,370.80L472.0,370.78L473.0,370.78L473.0,370.03L474.0,370.03L474.0,369.64L475.0,369.64L475.0,370.13L476.0,370.13L476,372.1Z" fill="#0fa06a"/>
<path d="M478,372.1L478.0,371.05L479.0,371.05L479.0,370.90L480.0,370.90L480.0,370.74L481.0,370.74L481,372.1Z" fill="#0fa06a"/>
<path d="M483,372.1L483.0,370.69L484.0,370.69L484.0,370.64L485.0,370.64L485,372.1Z" fill="#0fa06a"/>
<path d="M491,372.1L491.0,370.56L492.0,370.56L492.0,370.70L493.0,370.70L493.0,371.14L494.0,371.14L494.0,370.56L495.0,370.56L495.0,371.00L496.0,371.00L496,372.1Z" fill="#0fa06a"/>
<path d="M500,372.1L500.0,369.66L501.0,369.66L501.0,370.06L502.0,370.06L502.0,369.31L503.0,369.31L503.0,370.42L504.0,370.42L504.0,370.32L505.0,370.32L505.0,370.33L506.0,370.33L506.0,370.52L507.0,370.52L507.0,369.00L508.0,369.00L508.0,369.64L509.0,369.64L509.0,370.16L510.0,370.16L510,372.1Z" fill="#0fa06a"/>
<path d="M131.92,372.10L131.92,371.81L132.08,371.59L132.24,371.26L132.40,370.77L132.56,370.11L132.72,369.25L132.88,368.20L133.05,366.99L133.21,365.68L133.37,364.34L133.53,363.06L133.69,361.92L133.85,360.99L134.02,360.30L134.18,359.86L134.34,359.65L134.50,359.60L134.66,359.65L134.82,359.86L134.98,360.30L135.15,360.99L135.31,361.92L135.47,363.06L135.63,364.34L135.79,365.68L135.95,366.99L136.12,368.20L136.28,369.25L136.44,370.11L136.60,370.77L136.76,371.26L136.92,371.59L137.08,371.81L137.08,372.10Z" fill="#0fa06a"/>
<path d="M158.35,372.10L158.35,371.94L158.50,371.82L158.66,371.63L158.81,371.36L158.96,370.98L159.12,370.50L159.27,369.91L159.42,369.24L159.58,368.50L159.73,367.76L159.88,367.04L160.03,366.40L160.19,365.88L160.34,365.49L160.49,365.24L160.65,365.13L160.80,365.10L160.95,365.13L161.11,365.24L161.26,365.49L161.41,365.88L161.56,366.40L161.72,367.04L161.87,367.76L162.02,368.50L162.18,369.24L162.33,369.91L162.48,370.50L162.64,370.98L162.79,371.36L162.94,371.63L163.09,371.82L163.25,371.94L163.25,372.10Z" fill="#0fa06a"/>
<path d="M216.58,372.10L216.58,371.97L216.75,371.88L216.92,371.73L217.09,371.52L217.26,371.22L217.43,370.84L217.60,370.38L217.77,369.85L217.94,369.27L218.11,368.69L218.28,368.12L218.45,367.62L218.62,367.21L218.79,366.91L218.96,366.71L219.13,366.62L219.30,366.60L219.47,366.62L219.64,366.71L219.81,366.91L219.98,367.21L220.15,367.62L220.32,368.12L220.49,368.69L220.66,369.27L220.83,369.85L221.00,370.38L221.17,370.84L221.34,371.22L221.51,371.52L221.68,371.73L221.85,371.88L222.02,371.97L222.02,372.10Z" fill="#0fa06a"/>
<path d="M230.78,372.10L230.78,372.00L230.95,371.92L231.12,371.80L231.29,371.62L231.46,371.38L231.63,371.07L231.80,370.69L231.97,370.26L232.14,369.79L232.31,369.31L232.48,368.85L232.65,368.44L232.82,368.10L232.99,367.85L233.16,367.69L233.33,367.62L233.50,367.60L233.67,367.62L233.84,367.69L234.01,367.85L234.18,368.10L234.35,368.44L234.52,368.85L234.69,369.31L234.86,369.79L235.03,370.26L235.20,370.69L235.37,371.07L235.54,371.38L235.71,371.62L235.88,371.80L236.05,371.92L236.22,372.00L236.22,372.10Z" fill="#0fa06a"/>
<path d="M250.95,372.10L250.95,371.87L251.10,371.70L251.26,371.43L251.41,371.04L251.56,370.50L251.72,369.82L251.87,368.98L252.02,368.01L252.18,366.96L252.33,365.89L252.48,364.87L252.63,363.96L252.79,363.21L252.94,362.66L253.09,362.31L253.25,362.14L253.40,362.10L253.55,362.14L253.71,362.31L253.86,362.66L254.01,363.21L254.16,363.96L254.32,364.87L254.47,365.89L254.62,366.96L254.78,368.01L254.93,368.98L255.08,369.82L255.24,370.50L255.39,371.04L255.54,371.43L255.69,371.70L255.85,371.87L255.85,372.10Z" fill="#0fa06a"/>
<path d="M256.68,372.10L256.68,372.02L256.85,371.96L257.02,371.86L257.19,371.73L257.36,371.54L257.53,371.30L257.70,371.01L257.87,370.67L258.04,370.30L258.21,369.93L258.38,369.57L258.55,369.25L258.72,368.99L258.89,368.80L259.06,368.67L259.23,368.61L259.40,368.60L259.57,368.61L259.74,368.67L259.91,368.80L260.08,368.99L260.25,369.25L260.42,369.57L260.59,369.93L260.76,370.30L260.93,370.67L261.10,371.01L261.27,371.30L261.44,371.54L261.61,371.73L261.78,371.86L261.95,371.96L262.12,372.02L262.12,372.10Z" fill="#0fa06a"/>
<path d="M293.28,372.10L293.28,372.03L293.45,371.98L293.62,371.90L293.79,371.78L293.96,371.62L294.13,371.41L294.30,371.16L294.47,370.87L294.64,370.56L294.81,370.24L294.98,369.93L295.15,369.66L295.32,369.43L295.49,369.27L295.66,369.16L295.83,369.11L296.00,369.10L296.17,369.11L296.34,369.16L296.51,369.27L296.68,369.43L296.85,369.66L297.02,369.93L297.19,370.24L297.36,370.56L297.53,370.87L297.70,371.16L297.87,371.41L298.04,371.62L298.21,371.78L298.38,371.90L298.55,371.98L298.72,372.03L298.72,372.10Z" fill="#0fa06a"/>
<path d="M296.28,372.10L296.28,372.03L296.45,371.98L296.62,371.90L296.79,371.78L296.96,371.62L297.13,371.41L297.30,371.16L297.47,370.87L297.64,370.56L297.81,370.24L297.98,369.93L298.15,369.66L298.32,369.43L298.49,369.27L298.66,369.16L298.83,369.11L299.00,369.10L299.17,369.11L299.34,369.16L299.51,369.27L299.68,369.43L299.85,369.66L300.02,369.93L300.19,370.24L300.36,370.56L300.53,370.87L300.70,371.16L300.87,371.41L301.04,371.62L301.21,371.78L301.38,371.90L301.55,371.98L301.72,372.03L301.72,372.10Z" fill="#0fa06a"/>
<path d="M305.74,372.10L305.74,371.97L305.94,371.88L306.14,371.73L306.35,371.52L306.55,371.22L306.76,370.84L306.96,370.38L307.16,369.85L307.37,369.27L307.57,368.69L307.78,368.12L307.98,367.62L308.18,367.21L308.39,366.91L308.59,366.71L308.80,366.62L309.00,366.60L309.20,366.62L309.41,366.71L309.61,366.91L309.82,367.21L310.02,367.62L310.22,368.12L310.43,368.69L310.63,369.27L310.84,369.85L311.04,370.38L311.24,370.84L311.45,371.22L311.65,371.52L311.86,371.73L312.06,371.88L312.26,371.97L312.26,372.10Z" fill="#0fa06a"/>
<path d="M319.28,372.10L319.28,372.03L319.45,371.98L319.62,371.90L319.79,371.78L319.96,371.62L320.13,371.41L320.30,371.16L320.47,370.87L320.64,370.56L320.81,370.24L320.98,369.93L321.15,369.66L321.32,369.43L321.49,369.27L321.66,369.16L321.83,369.11L322.00,369.10L322.17,369.11L322.34,369.16L322.51,369.27L322.68,369.43L322.85,369.66L323.02,369.93L323.19,370.24L323.36,370.56L323.53,370.87L323.70,371.16L323.87,371.41L324.04,371.62L324.21,371.78L324.38,371.90L324.55,371.98L324.72,372.03L324.72,372.10Z" fill="#0fa06a"/>
<path d="M327.78,372.10L327.78,371.98L327.95,371.90L328.12,371.76L328.29,371.57L328.46,371.30L328.63,370.96L328.80,370.54L328.97,370.06L329.14,369.53L329.31,369.00L329.48,368.49L329.65,368.03L329.82,367.66L329.99,367.38L330.16,367.20L330.33,367.12L330.50,367.10L330.67,367.12L330.84,367.20L331.01,367.38L331.18,367.66L331.35,368.03L331.52,368.49L331.69,369.00L331.86,369.53L332.03,370.06L332.20,370.54L332.37,370.96L332.54,371.30L332.71,371.57L332.88,371.76L333.05,371.90L333.22,371.98L333.22,372.10Z" fill="#0fa06a"/>
<path d="M337.28,372.10L337.28,372.01L337.45,371.94L337.62,371.83L337.79,371.68L337.96,371.46L338.13,371.19L338.30,370.85L338.47,370.46L338.64,370.05L338.81,369.62L338.98,369.21L339.15,368.84L339.32,368.54L339.49,368.32L339.66,368.18L339.83,368.11L340.00,368.10L340.17,368.11L340.34,368.18L340.51,368.32L340.68,368.54L340.85,368.84L341.02,369.21L341.19,369.62L341.36,370.05L341.53,370.46L341.70,370.85L341.87,371.19L342.04,371.46L342.21,371.68L342.38,371.83L342.55,371.94L342.72,372.01L342.72,372.10Z" fill="#0fa06a"/>
<path d="M340.28,372.10L340.28,372.01L340.45,371.94L340.62,371.83L340.79,371.68L340.96,371.46L341.13,371.19L341.30,370.85L341.47,370.46L341.64,370.05L341.81,369.62L341.98,369.21L342.15,368.84L342.32,368.54L342.49,368.32L342.66,368.18L342.83,368.11L343.00,368.10L343.17,368.11L343.34,368.18L343.51,368.32L343.68,368.54L343.85,368.84L344.02,369.21L344.19,369.62L344.36,370.05L344.53,370.46L344.70,370.85L344.87,371.19L345.04,371.46L345.21,371.68L345.38,371.83L345.55,371.94L345.72,372.01L345.72,372.10Z" fill="#0fa06a"/>
<path d="M347.78,372.10L347.78,372.01L347.95,371.94L348.12,371.83L348.29,371.68L348.46,371.46L348.63,371.19L348.80,370.85L348.97,370.46L349.14,370.05L349.31,369.62L349.48,369.21L349.65,368.84L349.82,368.54L349.99,368.32L350.16,368.18L350.33,368.11L350.50,368.10L350.67,368.11L350.84,368.18L351.01,368.32L351.18,368.54L351.35,368.84L351.52,369.21L351.69,369.62L351.86,370.05L352.03,370.46L352.20,370.85L352.37,371.19L352.54,371.46L352.71,371.68L352.88,371.83L353.05,371.94L353.22,372.01L353.22,372.10Z" fill="#0fa06a"/>
<path d="M358.92,372.10L358.92,371.85L359.08,371.65L359.24,371.36L359.40,370.93L359.56,370.35L359.72,369.59L359.88,368.66L360.05,367.60L360.21,366.45L360.37,365.27L360.53,364.15L360.69,363.15L360.85,362.32L361.02,361.71L361.18,361.33L361.34,361.14L361.50,361.10L361.66,361.14L361.82,361.33L361.98,361.71L362.15,362.32L362.31,363.15L362.47,364.15L362.63,365.27L362.79,366.45L362.95,367.60L363.12,368.66L363.28,369.59L363.44,370.35L363.60,370.93L363.76,371.36L363.92,371.65L364.08,371.85L364.08,372.10Z" fill="#0fa06a"/>
<path d="M362.55,372.10L362.55,371.94L362.71,371.82L362.86,371.63L363.01,371.36L363.16,370.98L363.32,370.50L363.47,369.91L363.62,369.24L363.78,368.50L363.93,367.76L364.08,367.04L364.24,366.40L364.39,365.88L364.54,365.49L364.69,365.24L364.85,365.13L365.00,365.10L365.15,365.13L365.31,365.24L365.46,365.49L365.61,365.88L365.76,366.40L365.92,367.04L366.07,367.76L366.22,368.50L366.38,369.24L366.53,369.91L366.68,370.50L366.84,370.98L366.99,371.36L367.14,371.63L367.30,371.82L367.45,371.94L367.45,372.10Z" fill="#0fa06a"/>
<path d="M371.78,372.10L371.78,371.94L371.95,371.82L372.12,371.63L372.29,371.36L372.46,370.98L372.63,370.50L372.80,369.91L372.97,369.24L373.14,368.50L373.31,367.76L373.48,367.04L373.65,366.40L373.82,365.88L373.99,365.49L374.16,365.24L374.33,365.13L374.50,365.10L374.67,365.13L374.84,365.24L375.01,365.49L375.18,365.88L375.35,366.40L375.52,367.04L375.69,367.76L375.86,368.50L376.03,369.24L376.20,369.91L376.37,370.50L376.54,370.98L376.71,371.36L376.88,371.63L377.05,371.82L377.22,371.94L377.22,372.10Z" fill="#0fa06a"/>
<path d="M378.28,372.10L378.28,371.98L378.45,371.90L378.62,371.76L378.79,371.57L378.96,371.30L379.13,370.96L379.30,370.54L379.47,370.06L379.64,369.53L379.81,369.00L379.98,368.49L380.15,368.03L380.32,367.66L380.49,367.38L380.66,367.20L380.83,367.12L381.00,367.10L381.17,367.12L381.34,367.20L381.51,367.38L381.68,367.66L381.85,368.03L382.02,368.49L382.19,369.00L382.36,369.53L382.53,370.06L382.70,370.54L382.87,370.96L383.04,371.30L383.21,371.57L383.38,371.76L383.55,371.90L383.72,371.98L383.72,372.10Z" fill="#0fa06a"/>
<path d="M380.78,372.10L380.78,372.01L380.95,371.94L381.12,371.83L381.29,371.68L381.46,371.46L381.63,371.19L381.80,370.85L381.97,370.46L382.14,370.05L382.31,369.62L382.48,369.21L382.65,368.84L382.82,368.54L382.99,368.32L383.16,368.18L383.33,368.11L383.50,368.10L383.67,368.11L383.84,368.18L384.01,368.32L384.18,368.54L384.35,368.84L384.52,369.21L384.69,369.62L384.86,370.05L385.03,370.46L385.20,370.85L385.37,371.19L385.54,371.46L385.71,371.68L385.88,371.83L386.05,371.94L386.22,372.01L386.22,372.10Z" fill="#0fa06a"/>
<path d="M391.88,372.10L391.88,371.96L392.05,371.86L392.22,371.70L392.39,371.46L392.56,371.14L392.73,370.73L392.90,370.23L393.07,369.65L393.24,369.02L393.41,368.38L393.58,367.76L393.75,367.22L393.92,366.77L394.09,366.43L394.26,366.22L394.43,366.12L394.60,366.10L394.77,366.12L394.94,366.22L395.11,366.43L395.28,366.77L395.45,367.22L395.62,367.76L395.79,368.38L395.96,369.02L396.13,369.65L396.30,370.23L396.47,370.73L396.64,371.14L396.81,371.46L396.98,371.70L397.15,371.86L397.32,371.96L397.32,372.10Z" fill="#0fa06a"/>
<path d="M398.78,372.10L398.78,372.03L398.95,371.98L399.12,371.90L399.29,371.78L399.46,371.62L399.63,371.41L399.80,371.16L399.97,370.87L400.14,370.56L400.31,370.24L400.48,369.93L400.65,369.66L400.82,369.43L400.99,369.27L401.16,369.16L401.33,369.11L401.50,369.10L401.67,369.11L401.84,369.16L402.01,369.27L402.18,369.43L402.35,369.66L402.52,369.93L402.69,370.24L402.86,370.56L403.03,370.87L403.20,371.16L403.37,371.41L403.54,371.62L403.71,371.78L403.88,371.90L404.05,371.98L404.22,372.03L404.22,372.10Z" fill="#0fa06a"/>
<path d="M447.29,372.10L447.29,371.87L447.43,371.70L447.58,371.43L447.72,371.04L447.87,370.50L448.01,369.82L448.16,368.98L448.30,368.01L448.44,366.96L448.59,365.89L448.73,364.87L448.88,363.96L449.02,363.21L449.17,362.66L449.31,362.31L449.46,362.14L449.60,362.10L449.74,362.14L449.89,362.31L450.03,362.66L450.18,363.21L450.32,363.96L450.47,364.87L450.61,365.89L450.76,366.96L450.90,368.01L451.05,368.98L451.19,369.82L451.33,370.50L451.48,371.04L451.62,371.43L451.77,371.70L451.91,371.87L451.91,372.10Z" fill="#0fa06a"/>
<path d="M467.05,372.10L467.05,372.03L467.21,371.98L467.36,371.90L467.51,371.78L467.66,371.62L467.82,371.41L467.97,371.16L468.12,370.87L468.28,370.56L468.43,370.24L468.58,369.93L468.74,369.66L468.89,369.43L469.04,369.27L469.19,369.16L469.35,369.11L469.50,369.10L469.65,369.11L469.81,369.16L469.96,369.27L470.11,369.43L470.26,369.66L470.42,369.93L470.57,370.24L470.72,370.56L470.88,370.87L471.03,371.16L471.18,371.41L471.34,371.62L471.49,371.78L471.64,371.90L471.80,371.98L471.95,372.03L471.95,372.10Z" fill="#0fa06a"/>
<path d="M498.28,372.10L498.28,372.03L498.45,371.98L498.62,371.90L498.79,371.78L498.96,371.62L499.13,371.41L499.30,371.16L499.47,370.87L499.64,370.56L499.81,370.24L499.98,369.93L500.15,369.66L500.32,369.43L500.49,369.27L500.66,369.16L500.83,369.11L501.00,369.10L501.17,369.11L501.34,369.16L501.51,369.27L501.68,369.43L501.85,369.66L502.02,369.93L502.19,370.24L502.36,370.56L502.53,370.87L502.70,371.16L502.87,371.41L503.04,371.62L503.21,371.78L503.38,371.90L503.55,371.98L503.72,372.03L503.72,372.10Z" fill="#0fa06a"/>
<rect x="288.1" y="298.0" width="26.9" height="77.9" fill="#c8c0c0" fill-opacity="0.46"/>
<line x1="364.7" y1="376.7" x2="373.4" y2="376.7" stroke="#8a8a8a" stroke-width="0.9"/>
<rect x="360" y="374.5" width="4.699999999999989" height="4.4" fill="#111111"/>
<rect x="373.4" y="374.5" width="7.7000000000000455" height="4.4" fill="#111111"/>
<rect x="357.1" y="375.5" width="2.9999999999999774" height="2.4" fill="#111111"/>
<rect x="381.0" y="375.5" width="2.8999999999999546" height="2.4" fill="#111111"/>
<path d="M368.04999999999995,375.5L370.04999999999995,376.7L368.04999999999995,377.9Z" fill="#5555aa"/>
<text x="357.4" y="388.8" font-size="8.6" text-anchor="start" fill="#231f20" textLength="23.0" lengthAdjust="spacingAndGlyphs">Cebpe</text>
<text x="9.5" y="417.5" font-size="11" text-anchor="start" fill="#231f20" textLength="7.6" lengthAdjust="spacingAndGlyphs" style="stroke-width:0.05px">D</text>
<text x="0" y="0" transform="translate(39.3,488.1) rotate(-90)" font-size="8.6" text-anchor="start" fill="#231f20" textLength="31.2" lengthAdjust="spacingAndGlyphs">%input</text>
<line x1="63.9" y1="420.2" x2="63.9" y2="525.7" stroke="#231f20" stroke-width="1.4"/>
<line x1="63.2" y1="525.1" x2="206.8" y2="525.1" stroke="#231f20" stroke-width="1.4"/>
<line x1="60.2" y1="423.4" x2="63.9" y2="423.4" stroke="#231f20" stroke-width="1.0"/>
<text x="57.5" y="426.09999999999997" font-size="8.2" text-anchor="end" fill="#231f20" textLength="10.2" lengthAdjust="spacingAndGlyphs">0.4</text>
<line x1="60.2" y1="448.8" x2="63.9" y2="448.8" stroke="#231f20" stroke-width="1.0"/>
<text x="57.5" y="451.5" font-size="8.2" text-anchor="end" fill="#231f20" textLength="10.2" lengthAdjust="spacingAndGlyphs">0.3</text>
<line x1="60.2" y1="474.2" x2="63.9" y2="474.2" stroke="#231f20" stroke-width="1.0"/>
<text x="57.5" y="476.9" font-size="8.2" text-anchor="end" fill="#231f20" textLength="10.2" lengthAdjust="spacingAndGlyphs">0.2</text>
<line x1="60.2" y1="499.6" x2="63.9" y2="499.6" stroke="#231f20" stroke-width="1.0"/>
<text x="57.5" y="502.3" font-size="8.2" text-anchor="end" fill="#231f20" textLength="10.2" lengthAdjust="spacingAndGlyphs">0.1</text>
<line x1="60.2" y1="525.0" x2="63.9" y2="525.0" stroke="#231f20" stroke-width="1.0"/>
<text x="57.5" y="527.7" font-size="8.2" text-anchor="end" fill="#231f20" textLength="10.2" lengthAdjust="spacingAndGlyphs">0.0</text>
<rect x="71.2" y="522.4" width="11.400000000000002" height="2.200000000000023" fill="#4b6289" stroke="#2f4a72" stroke-width="0.8"/>
<rect x="89.2" y="460.4" width="11.600000000000005" height="64.20000000000002" fill="#a43446" stroke="#8f2233" stroke-width="0.8"/>
<rect x="120.4" y="515.3" width="11.100000000000005" height="9.300000000000045" fill="#4b6289" stroke="#2f4a72" stroke-width="0.8"/>
<rect x="138.70000000000002" y="441.59999999999997" width="11.599999999999977" height="83.00000000000003" fill="#a43446" stroke="#8f2233" stroke-width="0.8"/>
<rect x="169.6" y="515.3" width="11.600000000000005" height="9.300000000000045" fill="#4b6289" stroke="#2f4a72" stroke-width="0.8"/>
<rect x="187.8" y="436.7" width="11.600000000000005" height="87.9" fill="#a43446" stroke="#8f2233" stroke-width="0.8"/>
<text x="81.6" y="535.6" font-size="8.5" text-anchor="start" fill="#231f20" textLength="8.1" lengthAdjust="spacingAndGlyphs">P1</text>
<text x="130.7" y="535.6" font-size="8.5" text-anchor="start" fill="#231f20" textLength="9.5" lengthAdjust="spacingAndGlyphs">P2</text>
<text x="180.0" y="535.6" font-size="8.5" text-anchor="start" fill="#231f20" textLength="9.0" lengthAdjust="spacingAndGlyphs">P3</text>
<rect x="75.5" y="428.0" width="10.1" height="3.8" fill="#4b6289"/>
<rect x="75.5" y="437.1" width="10.1" height="3.9" fill="#a43446"/>
<text x="89.0" y="431.8" font-size="8.5" text-anchor="start" fill="#231f20" textLength="11.3" lengthAdjust="spacingAndGlyphs">IgG</text>
<text x="89.0" y="441.3" font-size="8.5" text-anchor="start" fill="#231f20" textLength="21.1" lengthAdjust="spacingAndGlyphs">CEBPA</text>
<text x="9.5" y="564.3" font-size="11" text-anchor="start" fill="#231f20" textLength="5.6" lengthAdjust="spacingAndGlyphs" style="stroke-width:0.05px">E</text>
<line x1="64.2" y1="559.8" x2="64.2" y2="699.2" stroke="#231f20" stroke-width="1.4"/>
<line x1="63.5" y1="698.6" x2="200.0" y2="698.6" stroke="#231f20" stroke-width="1.4"/>
<line x1="61.0" y1="563.5" x2="64.2" y2="563.5" stroke="#231f20" stroke-width="1.0"/>
<text x="57.6" y="566.2" font-size="8.5" text-anchor="end" fill="#231f20" textLength="8.5" lengthAdjust="spacingAndGlyphs">50</text>
<line x1="61.0" y1="590.5" x2="64.2" y2="590.5" stroke="#231f20" stroke-width="1.0"/>
<text x="57.6" y="593.2" font-size="8.5" text-anchor="end" fill="#231f20" textLength="8.5" lengthAdjust="spacingAndGlyphs">40</text>
<line x1="61.0" y1="617.5" x2="64.2" y2="617.5" stroke="#231f20" stroke-width="1.0"/>
<text x="57.6" y="620.2" font-size="8.5" text-anchor="end" fill="#231f20" textLength="8.5" lengthAdjust="spacingAndGlyphs">30</text>
<line x1="61.0" y1="644.5" x2="64.2" y2="644.5" stroke="#231f20" stroke-width="1.0"/>
<text x="57.6" y="647.2" font-size="8.5" text-anchor="end" fill="#231f20" textLength="8.5" lengthAdjust="spacingAndGlyphs">20</text>
<line x1="61.0" y1="671.5" x2="64.2" y2="671.5" stroke="#231f20" stroke-width="1.0"/>
<text x="57.6" y="674.2" font-size="8.5" text-anchor="end" fill="#231f20" textLength="8.5" lengthAdjust="spacingAndGlyphs">10</text>
<line x1="61.0" y1="698.5" x2="64.2" y2="698.5" stroke="#231f20" stroke-width="1.0"/>
<text x="57.6" y="701.2" font-size="8.5" text-anchor="end" fill="#231f20" textLength="4.4" lengthAdjust="spacingAndGlyphs">0</text>
<line x1="85.0" y1="675.6" x2="85.0" y2="679.3" stroke="#231f20" stroke-width="1.1"/>
<line x1="79.8" y1="675.6" x2="90.2" y2="675.6" stroke="#231f20" stroke-width="1.1"/>
<line x1="116.0" y1="654.3" x2="116.0" y2="655.0" stroke="#231f20" stroke-width="1.1"/>
<line x1="110.8" y1="654.3" x2="121.2" y2="654.3" stroke="#231f20" stroke-width="1.1"/>
<line x1="147.4" y1="623.2" x2="147.4" y2="635.6" stroke="#231f20" stroke-width="1.1"/>
<line x1="142.1" y1="623.2" x2="152.70000000000002" y2="623.2" stroke="#231f20" stroke-width="1.1"/>
<line x1="178.4" y1="587.7" x2="178.4" y2="616.5" stroke="#231f20" stroke-width="1.1"/>
<line x1="172.8" y1="587.7" x2="184.0" y2="587.7" stroke="#231f20" stroke-width="1.1"/>
<rect x="75.2" y="679.6999999999999" width="19.499999999999996" height="18.300000000000047" fill="#4b6289" stroke="#3a5279" stroke-width="0.8"/>
<rect x="106.30000000000001" y="655.4" width="19.299999999999994" height="42.6" fill="#a43446" stroke="#8f2233" stroke-width="0.8"/>
<rect x="137.20000000000002" y="636.0" width="19.7" height="61.99999999999998" fill="#9ca1c1" stroke="#9096bd" stroke-width="0.8"/>
<rect x="168.3" y="616.9" width="20.100000000000005" height="81.1" fill="#d19a8a" stroke="#c98b7c" stroke-width="0.8"/>
<line x1="80.1" y1="647.4" x2="115.2" y2="647.4" stroke="#231f20" stroke-width="1.1"/>
<line x1="80.1" y1="614.6" x2="145.6" y2="614.6" stroke="#231f20" stroke-width="1.1"/>
<text x="95.7" y="646.0" font-size="7.5" text-anchor="start" fill="#231f20">*</text>
<text x="111.2" y="613.2" font-size="7.5" text-anchor="start" fill="#231f20">*</text>
<rect x="76.3" y="560.3" width="13.8" height="4.5" fill="#4b6289"/>
<rect x="76.3" y="572.2" width="13.8" height="4.6" fill="#9ca1c1"/>
<rect x="135.3" y="560.5" width="13.2" height="4.1" fill="#a43446"/>
<rect x="135.3" y="572.5" width="13.2" height="4.1" fill="#d19a8a"/>
<text x="93.1" y="565.0" font-size="8.6" text-anchor="start" fill="#231f20" textLength="17.7" lengthAdjust="spacingAndGlyphs">pGL4</text>
<text x="93.1" y="576.8" font-size="8.6" text-anchor="start" fill="#231f20" textLength="21.2" lengthAdjust="spacingAndGlyphs">Peak 2</text>
<text x="152.4" y="565.0" font-size="8.6" text-anchor="start" fill="#231f20" textLength="18.7" lengthAdjust="spacingAndGlyphs">Peak1</text>
<text x="152.4" y="576.8" font-size="8.6" text-anchor="start" fill="#231f20" textLength="30.0" lengthAdjust="spacingAndGlyphs">Peak 1+2</text>
<text x="106.5" y="709.6" font-size="8.6" text-anchor="start" fill="#231f20" textLength="50.8" lengthAdjust="spacingAndGlyphs">pCDNA Cebpa</text>
<text x="0" y="0" transform="translate(30.4,658.1) rotate(-90)" font-size="9.0" text-anchor="start" fill="#231f20" textLength="58.7" lengthAdjust="spacingAndGlyphs">Δ fold change</text>
<text x="0" y="0" transform="translate(41.6,680.7) rotate(-90)" font-size="9.0" text-anchor="start" fill="#231f20" textLength="108.5" lengthAdjust="spacingAndGlyphs">(relative luciferase activity)</text>
<text x="223.3" y="417.3" font-size="11.5" text-anchor="start" fill="#231f20" textLength="5.3" lengthAdjust="spacingAndGlyphs" style="stroke-width:0.05px">F</text>
<text x="239.2" y="441.2" font-size="8.6" text-anchor="start" fill="#231f20" textLength="85.8" lengthAdjust="spacingAndGlyphs">Biotinylated target oligo</text>
<text x="239.2" y="452.1" font-size="8.6" text-anchor="start" fill="#231f20" textLength="81.4" lengthAdjust="spacingAndGlyphs">Unlabelled target oligo</text>
<text x="239.2" y="463.5" font-size="8.6" text-anchor="start" fill="#231f20" textLength="90.4" lengthAdjust="spacingAndGlyphs">Biotinylated mutant oligo</text>
<text x="239.2" y="474.8" font-size="8.6" text-anchor="start" fill="#231f20" textLength="77.5" lengthAdjust="spacingAndGlyphs">CEBPA nuclear extract</text>
<text x="369.8" y="426.5" font-size="8.6" text-anchor="start" fill="#231f20" textLength="24.8" lengthAdjust="spacingAndGlyphs">Oligo 1</text>
<text x="433.6" y="426.4" font-size="8.6" text-anchor="start" fill="#231f20" textLength="25.5" lengthAdjust="spacingAndGlyphs">Oligo 2</text>
<line x1="351.0" y1="431.6" x2="414.7" y2="431.6" stroke="#231f20" stroke-width="1.2"/>
<line x1="418.7" y1="431.6" x2="473.9" y2="431.6" stroke="#231f20" stroke-width="1.2"/>
<line x1="350.3" y1="438.9" x2="354.7" y2="438.9" stroke="#333" stroke-width="0.9"/>
<line x1="352.5" y1="436.7" x2="352.5" y2="441.09999999999997" stroke="#333" stroke-width="0.9"/>
<line x1="366.1" y1="438.9" x2="370.5" y2="438.9" stroke="#333" stroke-width="0.9"/>
<line x1="368.3" y1="436.7" x2="368.3" y2="441.09999999999997" stroke="#333" stroke-width="0.9"/>
<line x1="382.0" y1="438.9" x2="386.4" y2="438.9" stroke="#333" stroke-width="0.9"/>
<line x1="384.2" y1="436.7" x2="384.2" y2="441.09999999999997" stroke="#333" stroke-width="0.9"/>
<line x1="398.09999999999997" y1="438.9" x2="400.3" y2="438.9" stroke="#555" stroke-width="0.8"/>
<line x1="418.8" y1="438.9" x2="423.2" y2="438.9" stroke="#333" stroke-width="0.9"/>
<line x1="421.0" y1="436.7" x2="421.0" y2="441.09999999999997" stroke="#333" stroke-width="0.9"/>
<line x1="434.40000000000003" y1="438.9" x2="438.8" y2="438.9" stroke="#333" stroke-width="0.9"/>
<line x1="436.6" y1="436.7" x2="436.6" y2="441.09999999999997" stroke="#333" stroke-width="0.9"/>
<line x1="450.6" y1="438.9" x2="455.0" y2="438.9" stroke="#333" stroke-width="0.9"/>
<line x1="452.8" y1="436.7" x2="452.8" y2="441.09999999999997" stroke="#333" stroke-width="0.9"/>
<line x1="466.79999999999995" y1="438.9" x2="469.0" y2="438.9" stroke="#555" stroke-width="0.8"/>
<line x1="351.4" y1="450.1" x2="353.6" y2="450.1" stroke="#555" stroke-width="0.8"/>
<line x1="367.2" y1="450.1" x2="369.40000000000003" y2="450.1" stroke="#555" stroke-width="0.8"/>
<line x1="382.0" y1="450.1" x2="386.4" y2="450.1" stroke="#333" stroke-width="0.9"/>
<line x1="384.2" y1="447.90000000000003" x2="384.2" y2="452.3" stroke="#333" stroke-width="0.9"/>
<line x1="398.09999999999997" y1="450.1" x2="400.3" y2="450.1" stroke="#555" stroke-width="0.8"/>
<line x1="419.9" y1="450.1" x2="422.1" y2="450.1" stroke="#555" stroke-width="0.8"/>
<line x1="435.5" y1="450.1" x2="437.70000000000005" y2="450.1" stroke="#555" stroke-width="0.8"/>
<line x1="450.6" y1="450.1" x2="455.0" y2="450.1" stroke="#333" stroke-width="0.9"/>
<line x1="452.8" y1="447.90000000000003" x2="452.8" y2="452.3" stroke="#333" stroke-width="0.9"/>
<line x1="466.79999999999995" y1="450.1" x2="469.0" y2="450.1" stroke="#555" stroke-width="0.8"/>
<line x1="351.4" y1="461.6" x2="353.6" y2="461.6" stroke="#555" stroke-width="0.8"/>
<line x1="367.2" y1="461.6" x2="369.40000000000003" y2="461.6" stroke="#555" stroke-width="0.8"/>
<line x1="383.09999999999997" y1="461.6" x2="385.3" y2="461.6" stroke="#555" stroke-width="0.8"/>
<line x1="397.0" y1="461.6" x2="401.4" y2="461.6" stroke="#333" stroke-width="0.9"/>
<line x1="399.2" y1="459.40000000000003" x2="399.2" y2="463.8" stroke="#333" stroke-width="0.9"/>
<line x1="419.9" y1="461.6" x2="422.1" y2="461.6" stroke="#555" stroke-width="0.8"/>
<line x1="435.5" y1="461.6" x2="437.70000000000005" y2="461.6" stroke="#555" stroke-width="0.8"/>
<line x1="451.7" y1="461.6" x2="453.90000000000003" y2="461.6" stroke="#555" stroke-width="0.8"/>
<line x1="465.7" y1="461.6" x2="470.09999999999997" y2="461.6" stroke="#333" stroke-width="0.9"/>
<line x1="467.9" y1="459.40000000000003" x2="467.9" y2="463.8" stroke="#333" stroke-width="0.9"/>
<line x1="351.4" y1="472.8" x2="353.6" y2="472.8" stroke="#555" stroke-width="0.8"/>
<line x1="366.1" y1="472.8" x2="370.5" y2="472.8" stroke="#333" stroke-width="0.9"/>
<line x1="368.3" y1="470.6" x2="368.3" y2="475.0" stroke="#333" stroke-width="0.9"/>
<line x1="382.0" y1="472.8" x2="386.4" y2="472.8" stroke="#333" stroke-width="0.9"/>
<line x1="384.2" y1="470.6" x2="384.2" y2="475.0" stroke="#333" stroke-width="0.9"/>
<line x1="397.0" y1="472.8" x2="401.4" y2="472.8" stroke="#333" stroke-width="0.9"/>
<line x1="399.2" y1="470.6" x2="399.2" y2="475.0" stroke="#333" stroke-width="0.9"/>
<line x1="419.9" y1="472.8" x2="422.1" y2="472.8" stroke="#555" stroke-width="0.8"/>
<line x1="434.40000000000003" y1="472.8" x2="438.8" y2="472.8" stroke="#333" stroke-width="0.9"/>
<line x1="436.6" y1="470.6" x2="436.6" y2="475.0" stroke="#333" stroke-width="0.9"/>
<line x1="450.6" y1="472.8" x2="455.0" y2="472.8" stroke="#333" stroke-width="0.9"/>
<line x1="452.8" y1="470.6" x2="452.8" y2="475.0" stroke="#333" stroke-width="0.9"/>
<line x1="465.7" y1="472.8" x2="470.09999999999997" y2="472.8" stroke="#333" stroke-width="0.9"/>
<line x1="467.9" y1="470.6" x2="467.9" y2="475.0" stroke="#333" stroke-width="0.9"/>
<defs><filter id="bl" x="-50%" y="-50%" width="200%" height="200%"><feGaussianBlur stdDeviation="0.9"/></filter><filter id="bl2" x="-50%" y="-50%" width="200%" height="200%"><feGaussianBlur stdDeviation="1.5"/></filter><filter id="bl3" x="-50%" y="-50%" width="200%" height="200%"><feGaussianBlur stdDeviation="0.5"/></filter><linearGradient id="gg" x1="0" y1="0" x2="0" y2="1"><stop offset="0" stop-color="#c7c4c6"/><stop offset="1" stop-color="#c0bdbf"/></linearGradient></defs>
<rect x="346.6" y="481.8" width="63.3" height="79.0" fill="url(#gg)"/>
<rect x="414.7" y="482.0" width="59.3" height="79.0" fill="url(#gg)"/>
<rect x="347.3" y="534.0" width="55.5" height="11.8" rx="5.5" fill="#2c2d2b" filter="url(#bl)" opacity="1"/>
<ellipse cx="354.5" cy="539.5" rx="7.6" ry="6.0" fill="#2c2d2b" filter="url(#bl)" opacity="1"/>
<ellipse cx="369.5" cy="540.0" rx="7.6" ry="6.0" fill="#2c2d2b" filter="url(#bl)" opacity="1"/>
<ellipse cx="382.0" cy="540.0" rx="7.4" ry="6.8" fill="#2c2d2b" filter="url(#bl)" opacity="1"/>
<ellipse cx="396.0" cy="539.8" rx="7.0" ry="5.6" fill="#2c2d2b" filter="url(#bl)" opacity="1"/>
<ellipse cx="356.3" cy="549.0" rx="4.6" ry="2.6" fill="#2c2d2b" filter="url(#bl)" opacity="1"/>
<ellipse cx="356.3" cy="552.8" rx="5.0" ry="3.0" fill="#2c2d2b" filter="url(#bl)" opacity="1"/>
<ellipse cx="381.6" cy="553.6" rx="5.6" ry="2.1" fill="#2c2d2b" filter="url(#bl)" opacity="1"/>
<ellipse cx="369" cy="548.5" rx="3.5" ry="1.5" fill="#8a8888" filter="url(#bl2)" opacity="0.8"/>
<ellipse cx="396" cy="547.5" rx="3.5" ry="1.5" fill="#8a8888" filter="url(#bl2)" opacity="0.8"/>
<ellipse cx="370.8" cy="494.5" rx="3.9" ry="1.0" fill="#3a3a3a" filter="url(#bl)" opacity="0.85"/>
<ellipse cx="370.8" cy="498.4" rx="3.9" ry="1.0" fill="#4a4a4a" filter="url(#bl)" opacity="0.85"/>
<ellipse cx="383.7" cy="498.5" rx="3.6" ry="0.8" fill="#7a7878" filter="url(#bl)" opacity="0.9"/>
<ellipse cx="396.8" cy="498.9" rx="3.6" ry="0.7" fill="#9a9898" filter="url(#bl)" opacity="0.9"/>
<ellipse cx="382.3" cy="521.8" rx="3.6" ry="1.3" fill="#9a9696" filter="url(#bl)" opacity="0.9"/>
<ellipse cx="382.3" cy="525.0" rx="3.6" ry="1.1" fill="#9a9696" filter="url(#bl)" opacity="0.9"/>
<rect x="419.5" y="538.2" width="52.5" height="11.0" rx="5.0" fill="#2c2d2b" filter="url(#bl)" opacity="1"/>
<ellipse cx="425.5" cy="543.6" rx="7.0" ry="5.6" fill="#2c2d2b" filter="url(#bl)" opacity="1"/>
<ellipse cx="438.5" cy="543.6" rx="7.0" ry="5.6" fill="#2c2d2b" filter="url(#bl)" opacity="1"/>
<ellipse cx="452.4" cy="543.6" rx="7.0" ry="6.0" fill="#2c2d2b" filter="url(#bl)" opacity="1"/>
<ellipse cx="465.2" cy="543.6" rx="7.0" ry="5.9" fill="#2c2d2b" filter="url(#bl)" opacity="1"/>
<ellipse cx="426.4" cy="552.4" rx="2.4" ry="1.1" fill="#2c2d2b" filter="url(#bl3)" opacity="1"/>
<ellipse cx="439.6" cy="496.4" rx="4.3" ry="1.3" fill="#2a2a2a" filter="url(#bl)" opacity="1"/>
<ellipse cx="439.6" cy="499.9" rx="4.3" ry="1.4" fill="#1e1e1e" filter="url(#bl)" opacity="1"/>
<ellipse cx="452.6" cy="499.8" rx="3.0" ry="0.5" fill="#9a9696" filter="url(#bl)" opacity="1"/>
<ellipse cx="466.9" cy="499.4" rx="1.5" ry="0.6" fill="#7a7878" filter="url(#bl)" opacity="1"/>
<circle cx="423.2" cy="560.6" r="0.6" fill="#222"/>
<rect x="0" y="0" width="520" height="1.0" fill="#0a0a0a"/>
<rect x="518.4" y="0" width="1.6" height="719" fill="#050505"/>
<rect x="0" y="717.6" width="520" height="1.4" fill="#0a0a0a"/>
<rect x="0" y="0" width="1.5" height="719" fill="#474747"/>
</svg>
</body></html>
